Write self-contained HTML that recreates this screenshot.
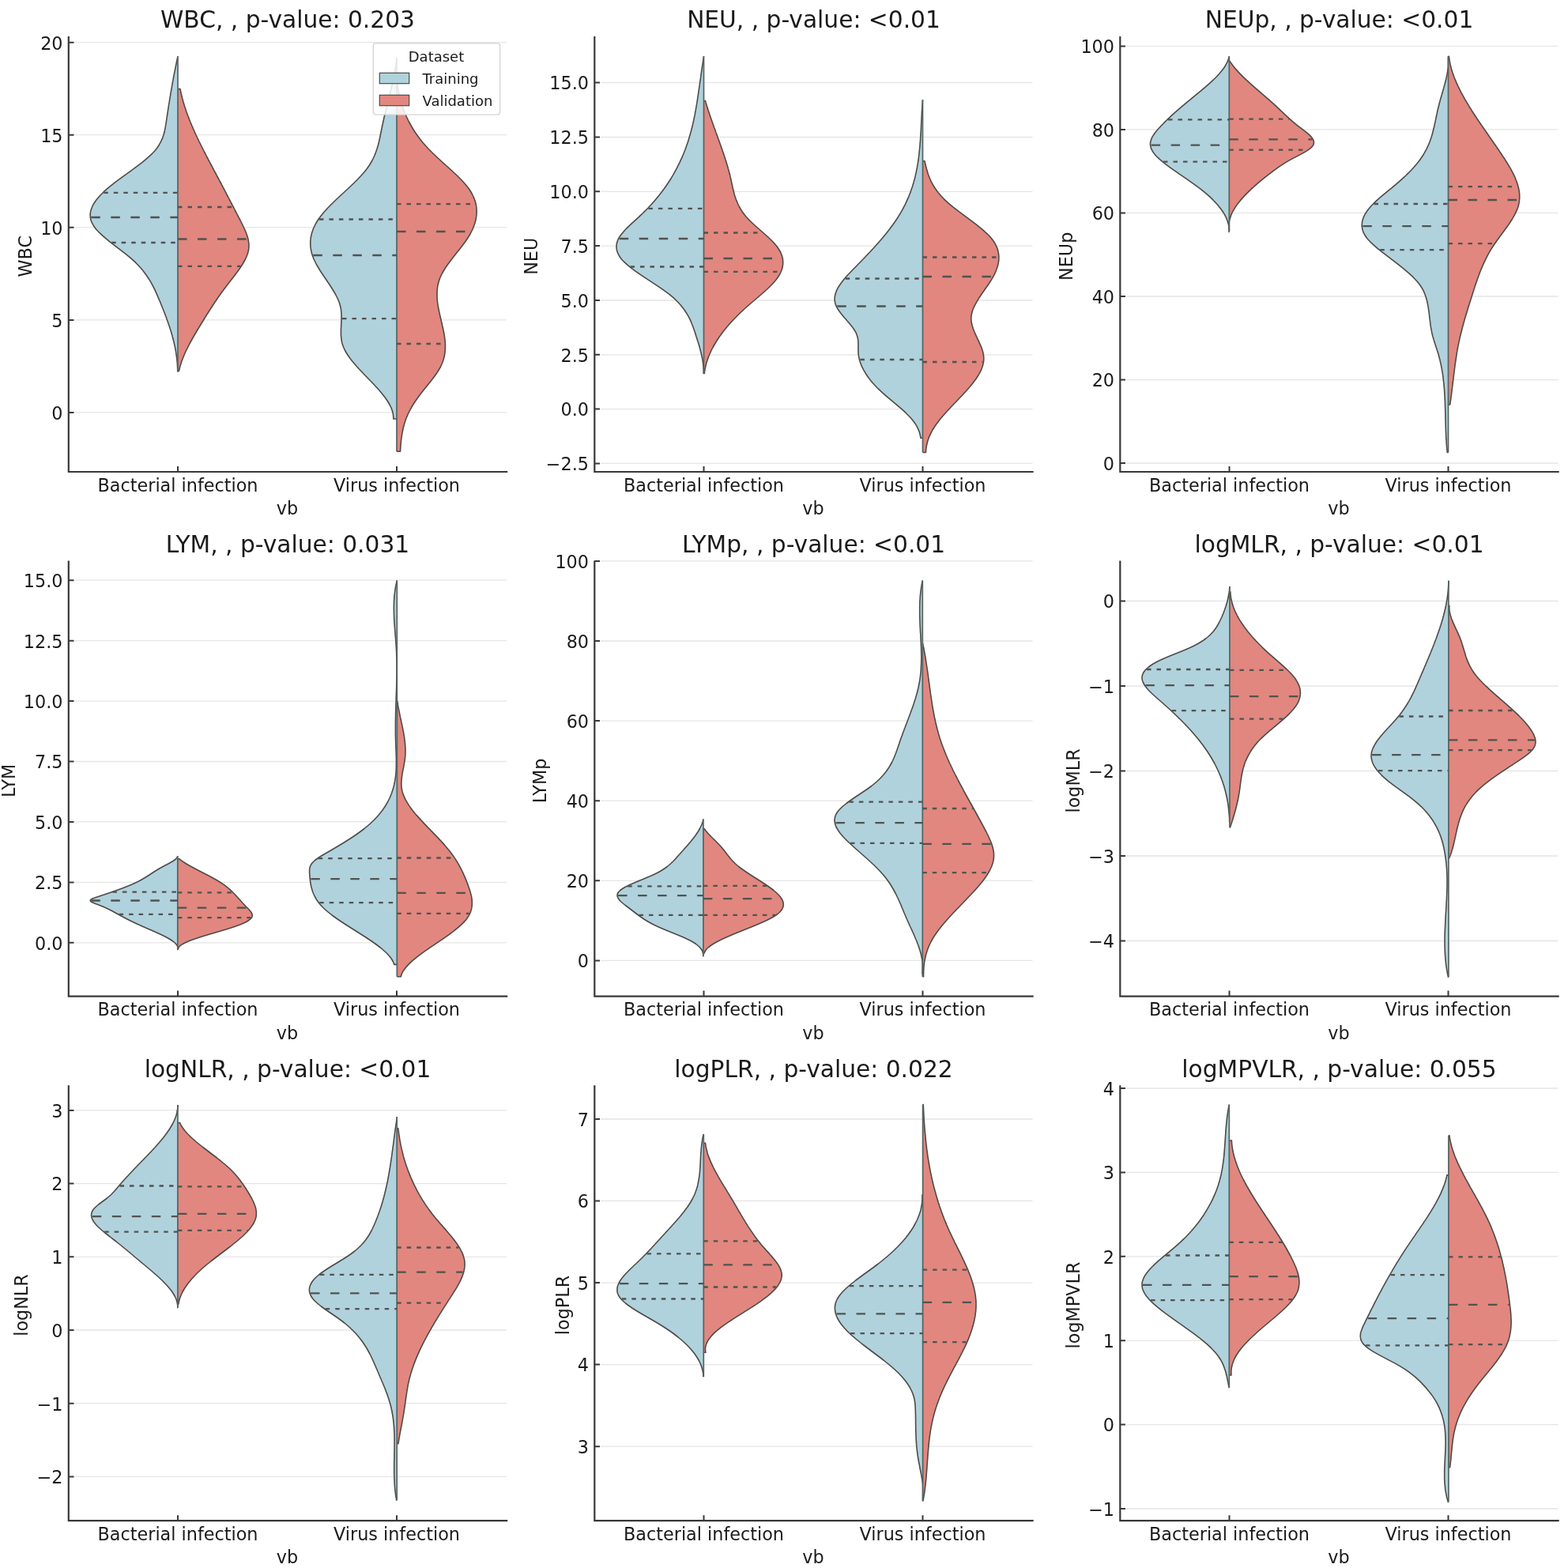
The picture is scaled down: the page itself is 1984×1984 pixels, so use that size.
<!DOCTYPE html>
<html><head><meta charset="utf-8"><title>Violin plots</title>
<style>
html,body{margin:0;padding:0;background:#fff;overflow:hidden;width:1984px;height:1984px;}
svg{display:block;}
text{font-family:"DejaVu Sans","Liberation Sans",sans-serif;fill:#1a1a1a;}
.tk{font-size:22.3px;}
.ti{font-size:29.7px;}
.lg{font-size:18px;}
</style></head><body>
<svg width="1984" height="1984" viewBox="0 0 1984 1984">
<rect width="1984" height="1984" fill="#ffffff"/>
<line x1="94.5" y1="521.9" x2="641.0" y2="521.9" stroke="#e5e5e5" stroke-width="1.3"/>
<line x1="94.5" y1="404.9" x2="641.0" y2="404.9" stroke="#e5e5e5" stroke-width="1.3"/>
<line x1="94.5" y1="287.8" x2="641.0" y2="287.8" stroke="#e5e5e5" stroke-width="1.3"/>
<line x1="94.5" y1="170.7" x2="641.0" y2="170.7" stroke="#e5e5e5" stroke-width="1.3"/>
<line x1="94.5" y1="53.7" x2="641.0" y2="53.7" stroke="#e5e5e5" stroke-width="1.3"/>
<path d="M225.0,71.2 L225.0,71.2 L224.6,73.2 224.1,75.2 223.7,77.2 223.3,79.2 222.9,81.2 222.5,83.2 222.1,85.2 221.7,87.2 221.3,89.2 220.9,91.2 220.5,93.2 220.1,95.2 219.7,97.2 219.3,99.2 219.0,101.2 218.6,103.2 218.2,105.2 217.9,107.2 217.5,109.2 217.2,111.2 216.8,113.2 216.5,115.2 216.1,117.2 215.8,119.2 215.5,121.2 215.1,123.2 214.8,125.2 214.5,127.2 214.2,129.2 213.8,131.2 213.5,133.2 213.2,135.2 212.9,137.2 212.6,139.2 212.3,141.2 212.0,143.2 211.7,145.2 211.4,147.2 211.1,149.2 210.8,151.2 210.5,153.2 210.2,155.2 209.9,157.2 209.5,159.2 209.2,161.2 208.8,163.2 208.4,165.2 207.9,167.2 207.4,169.2 206.8,171.2 206.1,173.2 205.4,175.2 204.5,177.2 203.6,179.2 202.5,181.2 201.4,183.2 200.1,185.2 198.7,187.2 197.2,189.2 195.5,191.2 193.6,193.2 191.7,195.2 189.6,197.2 187.4,199.2 185.1,201.2 182.7,203.2 180.3,205.2 177.7,207.2 175.1,209.2 172.4,211.2 169.7,213.2 167.0,215.2 164.3,217.2 161.5,219.2 158.7,221.2 155.9,223.2 153.2,225.2 150.5,227.2 147.8,229.2 145.1,231.2 142.6,233.2 140.0,235.2 137.6,237.2 135.2,239.2 133.0,241.2 130.8,243.2 128.8,245.2 126.8,247.2 125.0,249.2 123.3,251.2 121.7,253.2 120.3,255.2 119.0,257.2 117.8,259.2 116.8,261.2 116.0,263.2 115.3,265.2 114.8,267.2 114.4,269.2 114.2,271.2 114.2,273.2 114.4,275.2 114.7,277.2 115.3,279.2 116.0,281.2 117.0,283.2 118.2,285.2 119.5,287.2 121.0,289.2 122.7,291.2 124.6,293.2 126.6,295.2 128.7,297.2 130.9,299.2 133.2,301.2 135.6,303.2 138.0,305.2 140.5,307.2 143.1,309.2 145.7,311.2 148.3,313.2 150.9,315.2 153.5,317.2 156.1,319.2 158.7,321.2 161.2,323.2 163.6,325.2 166.0,327.2 168.3,329.2 170.4,331.2 172.5,333.2 174.5,335.2 176.4,337.2 178.2,339.2 179.9,341.2 181.5,343.2 183.0,345.2 184.5,347.2 185.9,349.2 187.2,351.2 188.5,353.2 189.7,355.2 190.9,357.2 192.0,359.2 193.1,361.2 194.1,363.2 195.1,365.2 196.1,367.2 197.0,369.2 197.9,371.2 198.8,373.2 199.7,375.2 200.5,377.2 201.4,379.2 202.2,381.2 203.1,383.2 203.9,385.2 204.7,387.2 205.5,389.2 206.3,391.2 207.1,393.2 207.9,395.2 208.7,397.2 209.4,399.2 210.2,401.2 210.9,403.2 211.6,405.2 212.3,407.2 213.0,409.2 213.7,411.2 214.4,413.2 215.0,415.2 215.7,417.2 216.3,419.2 216.9,421.2 217.5,423.2 218.0,425.2 218.6,427.2 219.1,429.2 219.6,431.2 220.1,433.2 220.5,435.2 221.0,437.2 221.4,439.2 221.8,441.2 222.2,443.2 222.5,445.2 222.8,447.2 223.1,449.2 223.4,451.2 223.7,453.2 223.9,455.2 224.1,457.2 224.3,459.2 224.4,461.2 224.5,463.2 224.6,465.2 224.7,467.2 224.7,469.2 224.7,470.0 L225.0,470.0 Z" fill="#b0d2dc"/>
<path d="M225.0,71.2 L225.0,71.2 L224.6,73.2 224.1,75.2 223.7,77.2 223.3,79.2 222.9,81.2 222.5,83.2 222.1,85.2 221.7,87.2 221.3,89.2 220.9,91.2 220.5,93.2 220.1,95.2 219.7,97.2 219.3,99.2 219.0,101.2 218.6,103.2 218.2,105.2 217.9,107.2 217.5,109.2 217.2,111.2 216.8,113.2 216.5,115.2 216.1,117.2 215.8,119.2 215.5,121.2 215.1,123.2 214.8,125.2 214.5,127.2 214.2,129.2 213.8,131.2 213.5,133.2 213.2,135.2 212.9,137.2 212.6,139.2 212.3,141.2 212.0,143.2 211.7,145.2 211.4,147.2 211.1,149.2 210.8,151.2 210.5,153.2 210.2,155.2 209.9,157.2 209.5,159.2 209.2,161.2 208.8,163.2 208.4,165.2 207.9,167.2 207.4,169.2 206.8,171.2 206.1,173.2 205.4,175.2 204.5,177.2 203.6,179.2 202.5,181.2 201.4,183.2 200.1,185.2 198.7,187.2 197.2,189.2 195.5,191.2 193.6,193.2 191.7,195.2 189.6,197.2 187.4,199.2 185.1,201.2 182.7,203.2 180.3,205.2 177.7,207.2 175.1,209.2 172.4,211.2 169.7,213.2 167.0,215.2 164.3,217.2 161.5,219.2 158.7,221.2 155.9,223.2 153.2,225.2 150.5,227.2 147.8,229.2 145.1,231.2 142.6,233.2 140.0,235.2 137.6,237.2 135.2,239.2 133.0,241.2 130.8,243.2 128.8,245.2 126.8,247.2 125.0,249.2 123.3,251.2 121.7,253.2 120.3,255.2 119.0,257.2 117.8,259.2 116.8,261.2 116.0,263.2 115.3,265.2 114.8,267.2 114.4,269.2 114.2,271.2 114.2,273.2 114.4,275.2 114.7,277.2 115.3,279.2 116.0,281.2 117.0,283.2 118.2,285.2 119.5,287.2 121.0,289.2 122.7,291.2 124.6,293.2 126.6,295.2 128.7,297.2 130.9,299.2 133.2,301.2 135.6,303.2 138.0,305.2 140.5,307.2 143.1,309.2 145.7,311.2 148.3,313.2 150.9,315.2 153.5,317.2 156.1,319.2 158.7,321.2 161.2,323.2 163.6,325.2 166.0,327.2 168.3,329.2 170.4,331.2 172.5,333.2 174.5,335.2 176.4,337.2 178.2,339.2 179.9,341.2 181.5,343.2 183.0,345.2 184.5,347.2 185.9,349.2 187.2,351.2 188.5,353.2 189.7,355.2 190.9,357.2 192.0,359.2 193.1,361.2 194.1,363.2 195.1,365.2 196.1,367.2 197.0,369.2 197.9,371.2 198.8,373.2 199.7,375.2 200.5,377.2 201.4,379.2 202.2,381.2 203.1,383.2 203.9,385.2 204.7,387.2 205.5,389.2 206.3,391.2 207.1,393.2 207.9,395.2 208.7,397.2 209.4,399.2 210.2,401.2 210.9,403.2 211.6,405.2 212.3,407.2 213.0,409.2 213.7,411.2 214.4,413.2 215.0,415.2 215.7,417.2 216.3,419.2 216.9,421.2 217.5,423.2 218.0,425.2 218.6,427.2 219.1,429.2 219.6,431.2 220.1,433.2 220.5,435.2 221.0,437.2 221.4,439.2 221.8,441.2 222.2,443.2 222.5,445.2 222.8,447.2 223.1,449.2 223.4,451.2 223.7,453.2 223.9,455.2 224.1,457.2 224.3,459.2 224.4,461.2 224.5,463.2 224.6,465.2 224.7,467.2 224.7,469.2 224.7,470.0 L225.0,470.0" fill="none" stroke="#4b4b48" stroke-width="1.6" stroke-linejoin="round"/>
<path d="M225.0,112.5 L228.0,112.5 L228.4,114.5 228.8,116.5 229.2,118.5 229.7,120.5 230.2,122.5 230.7,124.5 231.3,126.5 231.8,128.5 232.4,130.5 233.0,132.5 233.6,134.5 234.3,136.5 235.0,138.5 235.6,140.5 236.3,142.5 237.1,144.5 237.8,146.5 238.6,148.5 239.3,150.5 240.1,152.5 240.9,154.5 241.8,156.5 242.6,158.5 243.5,160.5 244.3,162.5 245.2,164.5 246.1,166.5 247.0,168.5 247.9,170.5 248.9,172.5 249.8,174.5 250.8,176.5 251.7,178.5 252.7,180.5 253.7,182.5 254.7,184.5 255.7,186.5 256.7,188.5 257.7,190.5 258.7,192.5 259.8,194.5 260.8,196.5 261.8,198.5 262.9,200.5 263.9,202.5 265.0,204.5 266.0,206.5 267.1,208.5 268.2,210.5 269.2,212.5 270.3,214.5 271.3,216.5 272.4,218.5 273.5,220.5 274.5,222.5 275.6,224.5 276.7,226.5 277.7,228.5 278.8,230.5 279.9,232.5 280.9,234.5 282.0,236.5 283.0,238.5 284.1,240.5 285.1,242.5 286.2,244.5 287.2,246.5 288.3,248.5 289.3,250.5 290.3,252.5 291.4,254.5 292.4,256.5 293.5,258.5 294.5,260.5 295.6,262.5 296.6,264.5 297.6,266.5 298.7,268.5 299.7,270.5 300.7,272.5 301.8,274.5 302.8,276.5 303.9,278.5 304.9,280.5 305.9,282.5 306.9,284.5 307.9,286.5 308.8,288.5 309.7,290.5 310.6,292.5 311.4,294.5 312.1,296.5 312.8,298.5 313.4,300.5 313.9,302.5 314.3,304.5 314.6,306.5 314.9,308.5 314.9,310.5 314.9,312.5 314.8,314.5 314.5,316.5 314.0,318.5 313.5,320.5 312.8,322.5 312.0,324.5 311.1,326.5 310.2,328.5 309.1,330.5 308.0,332.5 306.8,334.5 305.5,336.5 304.2,338.5 302.8,340.5 301.4,342.5 299.9,344.5 298.4,346.5 296.9,348.5 295.4,350.5 293.8,352.5 292.3,354.5 290.7,356.5 289.2,358.5 287.6,360.5 286.1,362.5 284.6,364.5 283.1,366.5 281.6,368.5 280.1,370.5 278.7,372.5 277.3,374.5 275.9,376.5 274.5,378.5 273.2,380.5 271.8,382.5 270.5,384.5 269.2,386.5 267.9,388.5 266.6,390.5 265.3,392.5 264.0,394.5 262.8,396.5 261.5,398.5 260.3,400.5 259.0,402.5 257.8,404.5 256.6,406.5 255.3,408.5 254.1,410.5 252.9,412.5 251.7,414.5 250.4,416.5 249.2,418.5 248.1,420.5 246.9,422.5 245.7,424.5 244.6,426.5 243.4,428.5 242.3,430.5 241.2,432.5 240.1,434.5 239.1,436.5 238.1,438.5 237.1,440.5 236.1,442.5 235.1,444.5 234.2,446.5 233.3,448.5 232.5,450.5 231.7,452.5 230.9,454.5 230.1,456.5 229.4,458.5 228.8,460.5 228.2,462.5 227.6,464.5 227.1,466.5 226.6,468.5 226.3,469.6 L225.0,469.6 Z" fill="#e1877f"/>
<path d="M225.0,112.5 L228.0,112.5 L228.4,114.5 228.8,116.5 229.2,118.5 229.7,120.5 230.2,122.5 230.7,124.5 231.3,126.5 231.8,128.5 232.4,130.5 233.0,132.5 233.6,134.5 234.3,136.5 235.0,138.5 235.6,140.5 236.3,142.5 237.1,144.5 237.8,146.5 238.6,148.5 239.3,150.5 240.1,152.5 240.9,154.5 241.8,156.5 242.6,158.5 243.5,160.5 244.3,162.5 245.2,164.5 246.1,166.5 247.0,168.5 247.9,170.5 248.9,172.5 249.8,174.5 250.8,176.5 251.7,178.5 252.7,180.5 253.7,182.5 254.7,184.5 255.7,186.5 256.7,188.5 257.7,190.5 258.7,192.5 259.8,194.5 260.8,196.5 261.8,198.5 262.9,200.5 263.9,202.5 265.0,204.5 266.0,206.5 267.1,208.5 268.2,210.5 269.2,212.5 270.3,214.5 271.3,216.5 272.4,218.5 273.5,220.5 274.5,222.5 275.6,224.5 276.7,226.5 277.7,228.5 278.8,230.5 279.9,232.5 280.9,234.5 282.0,236.5 283.0,238.5 284.1,240.5 285.1,242.5 286.2,244.5 287.2,246.5 288.3,248.5 289.3,250.5 290.3,252.5 291.4,254.5 292.4,256.5 293.5,258.5 294.5,260.5 295.6,262.5 296.6,264.5 297.6,266.5 298.7,268.5 299.7,270.5 300.7,272.5 301.8,274.5 302.8,276.5 303.9,278.5 304.9,280.5 305.9,282.5 306.9,284.5 307.9,286.5 308.8,288.5 309.7,290.5 310.6,292.5 311.4,294.5 312.1,296.5 312.8,298.5 313.4,300.5 313.9,302.5 314.3,304.5 314.6,306.5 314.9,308.5 314.9,310.5 314.9,312.5 314.8,314.5 314.5,316.5 314.0,318.5 313.5,320.5 312.8,322.5 312.0,324.5 311.1,326.5 310.2,328.5 309.1,330.5 308.0,332.5 306.8,334.5 305.5,336.5 304.2,338.5 302.8,340.5 301.4,342.5 299.9,344.5 298.4,346.5 296.9,348.5 295.4,350.5 293.8,352.5 292.3,354.5 290.7,356.5 289.2,358.5 287.6,360.5 286.1,362.5 284.6,364.5 283.1,366.5 281.6,368.5 280.1,370.5 278.7,372.5 277.3,374.5 275.9,376.5 274.5,378.5 273.2,380.5 271.8,382.5 270.5,384.5 269.2,386.5 267.9,388.5 266.6,390.5 265.3,392.5 264.0,394.5 262.8,396.5 261.5,398.5 260.3,400.5 259.0,402.5 257.8,404.5 256.6,406.5 255.3,408.5 254.1,410.5 252.9,412.5 251.7,414.5 250.4,416.5 249.2,418.5 248.1,420.5 246.9,422.5 245.7,424.5 244.6,426.5 243.4,428.5 242.3,430.5 241.2,432.5 240.1,434.5 239.1,436.5 238.1,438.5 237.1,440.5 236.1,442.5 235.1,444.5 234.2,446.5 233.3,448.5 232.5,450.5 231.7,452.5 230.9,454.5 230.1,456.5 229.4,458.5 228.8,460.5 228.2,462.5 227.6,464.5 227.1,466.5 226.6,468.5 226.3,469.6 L225.0,469.6" fill="none" stroke="#4b4b48" stroke-width="1.6" stroke-linejoin="round"/>
<line x1="225.0" y1="71.2" x2="225.0" y2="470.0" stroke="#56625f" stroke-width="1.7"/>
<g stroke="#525250" stroke-width="2.3"><line x1="131.3" y1="243.8" x2="225.0" y2="243.8" stroke-dasharray="5.5 7"/><line x1="115.3" y1="275.0" x2="225.0" y2="275.0" stroke-dasharray="11.5 13.5"/><line x1="141.2" y1="307.0" x2="225.0" y2="307.0" stroke-dasharray="5.5 7"/><line x1="225.0" y1="262.0" x2="294.3" y2="262.0" stroke-dasharray="5.5 7"/><line x1="225.0" y1="302.5" x2="312.9" y2="302.5" stroke-dasharray="11.5 13.5"/><line x1="225.0" y1="336.8" x2="304.3" y2="336.8" stroke-dasharray="5.5 7"/></g>
<path d="M502.0,73.0 L502.0,73.0 L501.8,75.0 501.6,77.0 501.3,79.0 501.1,81.0 500.8,83.0 500.5,85.0 500.2,87.0 499.8,89.0 499.5,91.0 499.1,93.0 498.7,95.0 498.3,97.0 497.9,99.0 497.5,101.0 497.1,103.0 496.6,105.0 496.2,107.0 495.7,109.0 495.2,111.0 494.8,113.0 494.3,115.0 493.8,117.0 493.3,119.0 492.8,121.0 492.3,123.0 491.8,125.0 491.3,127.0 490.8,129.0 490.3,131.0 489.8,133.0 489.3,135.0 488.8,137.0 488.3,139.0 487.8,141.0 487.4,143.0 486.9,145.0 486.4,147.0 485.9,149.0 485.5,151.0 485.0,153.0 484.6,155.0 484.2,157.0 483.7,159.0 483.3,161.0 482.9,163.0 482.5,165.0 482.1,167.0 481.7,169.0 481.3,171.0 480.9,173.0 480.5,175.0 480.0,177.0 479.6,179.0 479.1,181.0 478.6,183.0 478.0,185.0 477.4,187.0 476.8,189.0 476.1,191.0 475.4,193.0 474.6,195.0 473.8,197.0 472.9,199.0 471.9,201.0 470.9,203.0 469.8,205.0 468.6,207.0 467.4,209.0 466.0,211.0 464.6,213.0 463.1,215.0 461.5,217.0 459.8,219.0 458.0,221.0 456.2,223.0 454.3,225.0 452.4,227.0 450.4,229.0 448.4,231.0 446.3,233.0 444.2,235.0 442.1,237.0 440.0,239.0 437.8,241.0 435.7,243.0 433.5,245.0 431.3,247.0 429.2,249.0 427.0,251.0 424.9,253.0 422.8,255.0 420.8,257.0 418.7,259.0 416.8,261.0 414.8,263.0 413.0,265.0 411.2,267.0 409.4,269.0 407.8,271.0 406.2,273.0 404.7,275.0 403.2,277.0 401.9,279.0 400.7,281.0 399.5,283.0 398.5,285.0 397.5,287.0 396.6,289.0 395.9,291.0 395.2,293.0 394.5,295.0 394.0,297.0 393.6,299.0 393.2,301.0 393.0,303.0 392.8,305.0 392.7,307.0 392.8,309.0 392.8,311.0 393.0,313.0 393.3,315.0 393.7,317.0 394.1,319.0 394.6,321.0 395.3,323.0 396.0,325.0 396.7,327.0 397.6,329.0 398.6,331.0 399.6,333.0 400.6,335.0 401.8,337.0 403.0,339.0 404.2,341.0 405.4,343.0 406.7,345.0 408.1,347.0 409.4,349.0 410.8,351.0 412.1,353.0 413.5,355.0 414.8,357.0 416.2,359.0 417.5,361.0 418.8,363.0 420.1,365.0 421.3,367.0 422.5,369.0 423.7,371.0 424.8,373.0 425.8,375.0 426.8,377.0 427.7,379.0 428.6,381.0 429.3,383.0 430.0,385.0 430.5,387.0 431.0,389.0 431.4,391.0 431.6,393.0 431.8,395.0 432.0,397.0 432.0,399.0 432.0,401.0 432.0,403.0 432.0,405.0 431.9,407.0 431.8,409.0 431.7,411.0 431.6,413.0 431.5,415.0 431.4,417.0 431.4,419.0 431.4,421.0 431.4,423.0 431.5,425.0 431.7,427.0 431.9,429.0 432.2,431.0 432.6,433.0 433.1,435.0 433.8,437.0 434.5,439.0 435.4,441.0 436.3,443.0 437.4,445.0 438.6,447.0 439.9,449.0 441.2,451.0 442.6,453.0 444.1,455.0 445.7,457.0 447.4,459.0 449.1,461.0 450.8,463.0 452.6,465.0 454.4,467.0 456.3,469.0 458.2,471.0 460.1,473.0 462.0,475.0 464.0,477.0 465.9,479.0 467.8,481.0 469.8,483.0 471.7,485.0 473.6,487.0 475.4,489.0 477.3,491.0 479.1,493.0 480.8,495.0 482.5,497.0 484.1,499.0 485.7,501.0 487.2,503.0 488.6,505.0 490.0,507.0 491.3,509.0 492.4,511.0 493.5,513.0 494.5,515.0 495.3,517.0 496.1,519.0 496.7,521.0 497.2,523.0 497.5,525.0 497.7,527.0 497.8,529.0 497.8,530.0 L502.0,530.0 Z" fill="#b0d2dc"/>
<path d="M502.0,73.0 L502.0,73.0 L501.8,75.0 501.6,77.0 501.3,79.0 501.1,81.0 500.8,83.0 500.5,85.0 500.2,87.0 499.8,89.0 499.5,91.0 499.1,93.0 498.7,95.0 498.3,97.0 497.9,99.0 497.5,101.0 497.1,103.0 496.6,105.0 496.2,107.0 495.7,109.0 495.2,111.0 494.8,113.0 494.3,115.0 493.8,117.0 493.3,119.0 492.8,121.0 492.3,123.0 491.8,125.0 491.3,127.0 490.8,129.0 490.3,131.0 489.8,133.0 489.3,135.0 488.8,137.0 488.3,139.0 487.8,141.0 487.4,143.0 486.9,145.0 486.4,147.0 485.9,149.0 485.5,151.0 485.0,153.0 484.6,155.0 484.2,157.0 483.7,159.0 483.3,161.0 482.9,163.0 482.5,165.0 482.1,167.0 481.7,169.0 481.3,171.0 480.9,173.0 480.5,175.0 480.0,177.0 479.6,179.0 479.1,181.0 478.6,183.0 478.0,185.0 477.4,187.0 476.8,189.0 476.1,191.0 475.4,193.0 474.6,195.0 473.8,197.0 472.9,199.0 471.9,201.0 470.9,203.0 469.8,205.0 468.6,207.0 467.4,209.0 466.0,211.0 464.6,213.0 463.1,215.0 461.5,217.0 459.8,219.0 458.0,221.0 456.2,223.0 454.3,225.0 452.4,227.0 450.4,229.0 448.4,231.0 446.3,233.0 444.2,235.0 442.1,237.0 440.0,239.0 437.8,241.0 435.7,243.0 433.5,245.0 431.3,247.0 429.2,249.0 427.0,251.0 424.9,253.0 422.8,255.0 420.8,257.0 418.7,259.0 416.8,261.0 414.8,263.0 413.0,265.0 411.2,267.0 409.4,269.0 407.8,271.0 406.2,273.0 404.7,275.0 403.2,277.0 401.9,279.0 400.7,281.0 399.5,283.0 398.5,285.0 397.5,287.0 396.6,289.0 395.9,291.0 395.2,293.0 394.5,295.0 394.0,297.0 393.6,299.0 393.2,301.0 393.0,303.0 392.8,305.0 392.7,307.0 392.8,309.0 392.8,311.0 393.0,313.0 393.3,315.0 393.7,317.0 394.1,319.0 394.6,321.0 395.3,323.0 396.0,325.0 396.7,327.0 397.6,329.0 398.6,331.0 399.6,333.0 400.6,335.0 401.8,337.0 403.0,339.0 404.2,341.0 405.4,343.0 406.7,345.0 408.1,347.0 409.4,349.0 410.8,351.0 412.1,353.0 413.5,355.0 414.8,357.0 416.2,359.0 417.5,361.0 418.8,363.0 420.1,365.0 421.3,367.0 422.5,369.0 423.7,371.0 424.8,373.0 425.8,375.0 426.8,377.0 427.7,379.0 428.6,381.0 429.3,383.0 430.0,385.0 430.5,387.0 431.0,389.0 431.4,391.0 431.6,393.0 431.8,395.0 432.0,397.0 432.0,399.0 432.0,401.0 432.0,403.0 432.0,405.0 431.9,407.0 431.8,409.0 431.7,411.0 431.6,413.0 431.5,415.0 431.4,417.0 431.4,419.0 431.4,421.0 431.4,423.0 431.5,425.0 431.7,427.0 431.9,429.0 432.2,431.0 432.6,433.0 433.1,435.0 433.8,437.0 434.5,439.0 435.4,441.0 436.3,443.0 437.4,445.0 438.6,447.0 439.9,449.0 441.2,451.0 442.6,453.0 444.1,455.0 445.7,457.0 447.4,459.0 449.1,461.0 450.8,463.0 452.6,465.0 454.4,467.0 456.3,469.0 458.2,471.0 460.1,473.0 462.0,475.0 464.0,477.0 465.9,479.0 467.8,481.0 469.8,483.0 471.7,485.0 473.6,487.0 475.4,489.0 477.3,491.0 479.1,493.0 480.8,495.0 482.5,497.0 484.1,499.0 485.7,501.0 487.2,503.0 488.6,505.0 490.0,507.0 491.3,509.0 492.4,511.0 493.5,513.0 494.5,515.0 495.3,517.0 496.1,519.0 496.7,521.0 497.2,523.0 497.5,525.0 497.7,527.0 497.8,529.0 497.8,530.0 L502.0,530.0" fill="none" stroke="#4b4b48" stroke-width="1.6" stroke-linejoin="round"/>
<path d="M502.0,106.0 L502.5,106.0 L502.9,108.0 503.2,110.0 503.6,112.0 504.0,114.0 504.4,116.0 504.8,118.0 505.2,120.0 505.7,122.0 506.2,124.0 506.7,126.0 507.3,128.0 507.9,130.0 508.5,132.0 509.1,134.0 509.8,136.0 510.5,138.0 511.2,140.0 512.0,142.0 512.8,144.0 513.7,146.0 514.5,148.0 515.5,150.0 516.4,152.0 517.4,154.0 518.5,156.0 519.6,158.0 520.7,160.0 521.9,162.0 523.1,164.0 524.4,166.0 525.7,168.0 527.1,170.0 528.5,172.0 530.0,174.0 531.5,176.0 533.1,178.0 534.7,180.0 536.4,182.0 538.2,184.0 540.0,186.0 541.8,188.0 543.8,190.0 545.8,192.0 547.8,194.0 549.9,196.0 552.0,198.0 554.1,200.0 556.3,202.0 558.5,204.0 560.7,206.0 562.9,208.0 565.1,210.0 567.4,212.0 569.6,214.0 571.8,216.0 573.9,218.0 576.1,220.0 578.2,222.0 580.2,224.0 582.2,226.0 584.2,228.0 586.0,230.0 587.8,232.0 589.5,234.0 591.1,236.0 592.7,238.0 594.1,240.0 595.4,242.0 596.5,244.0 597.6,246.0 598.6,248.0 599.5,250.0 600.3,252.0 601.0,254.0 601.6,256.0 602.1,258.0 602.5,260.0 602.8,262.0 603.0,264.0 603.1,266.0 603.1,268.0 603.1,270.0 602.9,272.0 602.7,274.0 602.4,276.0 602.0,278.0 601.5,280.0 601.0,282.0 600.3,284.0 599.6,286.0 598.8,288.0 598.0,290.0 597.0,292.0 596.0,294.0 595.0,296.0 593.8,298.0 592.6,300.0 591.3,302.0 590.0,304.0 588.6,306.0 587.1,308.0 585.6,310.0 584.1,312.0 582.6,314.0 581.0,316.0 579.4,318.0 577.8,320.0 576.2,322.0 574.6,324.0 573.1,326.0 571.5,328.0 570.0,330.0 568.5,332.0 567.0,334.0 565.6,336.0 564.2,338.0 562.9,340.0 561.7,342.0 560.5,344.0 559.4,346.0 558.4,348.0 557.5,350.0 556.6,352.0 555.9,354.0 555.3,356.0 554.7,358.0 554.2,360.0 553.8,362.0 553.5,364.0 553.3,366.0 553.1,368.0 553.0,370.0 553.0,372.0 553.0,374.0 553.0,376.0 553.2,378.0 553.3,380.0 553.5,382.0 553.8,384.0 554.1,386.0 554.4,388.0 554.8,390.0 555.2,392.0 555.6,394.0 556.0,396.0 556.5,398.0 556.9,400.0 557.4,402.0 557.9,404.0 558.3,406.0 558.8,408.0 559.3,410.0 559.7,412.0 560.2,414.0 560.6,416.0 561.0,418.0 561.4,420.0 561.8,422.0 562.2,424.0 562.5,426.0 562.7,428.0 563.0,430.0 563.2,432.0 563.3,434.0 563.4,436.0 563.4,438.0 563.4,440.0 563.3,442.0 563.2,444.0 563.0,446.0 562.7,448.0 562.4,450.0 561.9,452.0 561.4,454.0 560.8,456.0 560.1,458.0 559.3,460.0 558.4,462.0 557.5,464.0 556.4,466.0 555.2,468.0 554.0,470.0 552.7,472.0 551.3,474.0 549.9,476.0 548.4,478.0 546.9,480.0 545.3,482.0 543.7,484.0 542.1,486.0 540.5,488.0 538.9,490.0 537.3,492.0 535.7,494.0 534.1,496.0 532.5,498.0 531.0,500.0 529.5,502.0 528.1,504.0 526.7,506.0 525.3,508.0 524.0,510.0 522.7,512.0 521.5,514.0 520.4,516.0 519.2,518.0 518.2,520.0 517.2,522.0 516.2,524.0 515.4,526.0 514.5,528.0 513.7,530.0 513.0,532.0 512.4,534.0 511.7,536.0 511.2,538.0 510.6,540.0 510.1,542.0 509.7,544.0 509.3,546.0 508.9,548.0 508.6,550.0 508.3,552.0 508.0,554.0 507.7,556.0 507.5,558.0 507.3,560.0 507.1,562.0 507.0,564.0 506.8,566.0 506.7,568.0 506.6,570.0 506.5,571.2 L502.0,571.2 Z" fill="#e1877f"/>
<path d="M502.0,106.0 L502.5,106.0 L502.9,108.0 503.2,110.0 503.6,112.0 504.0,114.0 504.4,116.0 504.8,118.0 505.2,120.0 505.7,122.0 506.2,124.0 506.7,126.0 507.3,128.0 507.9,130.0 508.5,132.0 509.1,134.0 509.8,136.0 510.5,138.0 511.2,140.0 512.0,142.0 512.8,144.0 513.7,146.0 514.5,148.0 515.5,150.0 516.4,152.0 517.4,154.0 518.5,156.0 519.6,158.0 520.7,160.0 521.9,162.0 523.1,164.0 524.4,166.0 525.7,168.0 527.1,170.0 528.5,172.0 530.0,174.0 531.5,176.0 533.1,178.0 534.7,180.0 536.4,182.0 538.2,184.0 540.0,186.0 541.8,188.0 543.8,190.0 545.8,192.0 547.8,194.0 549.9,196.0 552.0,198.0 554.1,200.0 556.3,202.0 558.5,204.0 560.7,206.0 562.9,208.0 565.1,210.0 567.4,212.0 569.6,214.0 571.8,216.0 573.9,218.0 576.1,220.0 578.2,222.0 580.2,224.0 582.2,226.0 584.2,228.0 586.0,230.0 587.8,232.0 589.5,234.0 591.1,236.0 592.7,238.0 594.1,240.0 595.4,242.0 596.5,244.0 597.6,246.0 598.6,248.0 599.5,250.0 600.3,252.0 601.0,254.0 601.6,256.0 602.1,258.0 602.5,260.0 602.8,262.0 603.0,264.0 603.1,266.0 603.1,268.0 603.1,270.0 602.9,272.0 602.7,274.0 602.4,276.0 602.0,278.0 601.5,280.0 601.0,282.0 600.3,284.0 599.6,286.0 598.8,288.0 598.0,290.0 597.0,292.0 596.0,294.0 595.0,296.0 593.8,298.0 592.6,300.0 591.3,302.0 590.0,304.0 588.6,306.0 587.1,308.0 585.6,310.0 584.1,312.0 582.6,314.0 581.0,316.0 579.4,318.0 577.8,320.0 576.2,322.0 574.6,324.0 573.1,326.0 571.5,328.0 570.0,330.0 568.5,332.0 567.0,334.0 565.6,336.0 564.2,338.0 562.9,340.0 561.7,342.0 560.5,344.0 559.4,346.0 558.4,348.0 557.5,350.0 556.6,352.0 555.9,354.0 555.3,356.0 554.7,358.0 554.2,360.0 553.8,362.0 553.5,364.0 553.3,366.0 553.1,368.0 553.0,370.0 553.0,372.0 553.0,374.0 553.0,376.0 553.2,378.0 553.3,380.0 553.5,382.0 553.8,384.0 554.1,386.0 554.4,388.0 554.8,390.0 555.2,392.0 555.6,394.0 556.0,396.0 556.5,398.0 556.9,400.0 557.4,402.0 557.9,404.0 558.3,406.0 558.8,408.0 559.3,410.0 559.7,412.0 560.2,414.0 560.6,416.0 561.0,418.0 561.4,420.0 561.8,422.0 562.2,424.0 562.5,426.0 562.7,428.0 563.0,430.0 563.2,432.0 563.3,434.0 563.4,436.0 563.4,438.0 563.4,440.0 563.3,442.0 563.2,444.0 563.0,446.0 562.7,448.0 562.4,450.0 561.9,452.0 561.4,454.0 560.8,456.0 560.1,458.0 559.3,460.0 558.4,462.0 557.5,464.0 556.4,466.0 555.2,468.0 554.0,470.0 552.7,472.0 551.3,474.0 549.9,476.0 548.4,478.0 546.9,480.0 545.3,482.0 543.7,484.0 542.1,486.0 540.5,488.0 538.9,490.0 537.3,492.0 535.7,494.0 534.1,496.0 532.5,498.0 531.0,500.0 529.5,502.0 528.1,504.0 526.7,506.0 525.3,508.0 524.0,510.0 522.7,512.0 521.5,514.0 520.4,516.0 519.2,518.0 518.2,520.0 517.2,522.0 516.2,524.0 515.4,526.0 514.5,528.0 513.7,530.0 513.0,532.0 512.4,534.0 511.7,536.0 511.2,538.0 510.6,540.0 510.1,542.0 509.7,544.0 509.3,546.0 508.9,548.0 508.6,550.0 508.3,552.0 508.0,554.0 507.7,556.0 507.5,558.0 507.3,560.0 507.1,562.0 507.0,564.0 506.8,566.0 506.7,568.0 506.6,570.0 506.5,571.2 L502.0,571.2" fill="none" stroke="#4b4b48" stroke-width="1.6" stroke-linejoin="round"/>
<line x1="502.0" y1="73.0" x2="502.0" y2="571.2" stroke="#56625f" stroke-width="1.7"/>
<g stroke="#525250" stroke-width="2.3"><line x1="403.9" y1="277.5" x2="502.0" y2="277.5" stroke-dasharray="5.5 7"/><line x1="396.3" y1="323.0" x2="502.0" y2="323.0" stroke-dasharray="11.5 13.5"/><line x1="433.0" y1="403.2" x2="502.0" y2="403.2" stroke-dasharray="5.5 7"/><line x1="502.0" y1="258.2" x2="601.1" y2="258.2" stroke-dasharray="5.5 7"/><line x1="502.0" y1="293.0" x2="595.5" y2="293.0" stroke-dasharray="11.5 13.5"/><line x1="502.0" y1="435.0" x2="562.3" y2="435.0" stroke-dasharray="5.5 7"/></g>
<path d="M86.8,46.0 L86.8,597.0 L642.2,597.0" fill="none" stroke="#383838" stroke-width="2.2"/>
<path d="M86.8,521.9 h6.7 M86.8,404.9 h6.7 M86.8,287.8 h6.7 M86.8,170.7 h6.7 M86.8,53.7 h6.7 M225.0,597.0 v-7 M502.0,597.0 v-7" stroke="#383838" stroke-width="2" fill="none"/>
<text x="79.5" y="530.7" text-anchor="end" class="tk">0</text>
<text x="79.5" y="413.7" text-anchor="end" class="tk">5</text>
<text x="79.5" y="296.6" text-anchor="end" class="tk">10</text>
<text x="79.5" y="179.5" text-anchor="end" class="tk">15</text>
<text x="79.5" y="62.5" text-anchor="end" class="tk">20</text>
<text x="225.0" y="621.5" text-anchor="middle" class="tk">Bacterial infection</text>
<text x="502.0" y="621.5" text-anchor="middle" class="tk">Virus infection</text>
<text x="363.5" y="651.0" text-anchor="middle" class="tk">vb</text>
<text transform="translate(39.6,324.3) rotate(-90)" text-anchor="middle" class="tk">WBC</text>
<text x="364.0" y="35.4" text-anchor="middle" class="ti">WBC, , p-value: 0.203</text>
<line x1="760.0" y1="586.4" x2="1306.5" y2="586.4" stroke="#e5e5e5" stroke-width="1.3"/>
<line x1="760.0" y1="517.6" x2="1306.5" y2="517.6" stroke="#e5e5e5" stroke-width="1.3"/>
<line x1="760.0" y1="448.8" x2="1306.5" y2="448.8" stroke="#e5e5e5" stroke-width="1.3"/>
<line x1="760.0" y1="380.0" x2="1306.5" y2="380.0" stroke="#e5e5e5" stroke-width="1.3"/>
<line x1="760.0" y1="311.1" x2="1306.5" y2="311.1" stroke="#e5e5e5" stroke-width="1.3"/>
<line x1="760.0" y1="242.3" x2="1306.5" y2="242.3" stroke="#e5e5e5" stroke-width="1.3"/>
<line x1="760.0" y1="173.5" x2="1306.5" y2="173.5" stroke="#e5e5e5" stroke-width="1.3"/>
<line x1="760.0" y1="104.6" x2="1306.5" y2="104.6" stroke="#e5e5e5" stroke-width="1.3"/>
<path d="M890.5,71.2 L890.5,71.2 L890.2,73.2 889.9,75.2 889.6,77.2 889.3,79.2 889.0,81.2 888.7,83.2 888.4,85.2 888.1,87.2 887.8,89.2 887.5,91.2 887.2,93.2 886.9,95.2 886.7,97.2 886.4,99.2 886.1,101.2 885.8,103.2 885.5,105.2 885.3,107.2 885.0,109.2 884.7,111.2 884.4,113.2 884.1,115.2 883.8,117.2 883.5,119.2 883.2,121.2 882.9,123.2 882.6,125.2 882.3,127.2 882.0,129.2 881.7,131.2 881.3,133.2 881.0,135.2 880.6,137.2 880.3,139.2 879.9,141.2 879.5,143.2 879.2,145.2 878.8,147.2 878.3,149.2 877.9,151.2 877.5,153.2 877.0,155.2 876.6,157.2 876.1,159.2 875.6,161.2 875.1,163.2 874.6,165.2 874.0,167.2 873.5,169.2 872.9,171.2 872.3,173.2 871.7,175.2 871.1,177.2 870.5,179.2 869.8,181.2 869.1,183.2 868.4,185.2 867.7,187.2 867.0,189.2 866.2,191.2 865.4,193.2 864.6,195.2 863.8,197.2 862.9,199.2 862.0,201.2 861.1,203.2 860.2,205.2 859.2,207.2 858.2,209.2 857.2,211.2 856.2,213.2 855.1,215.2 854.0,217.2 852.9,219.2 851.8,221.2 850.6,223.2 849.4,225.2 848.1,227.2 846.8,229.2 845.5,231.2 844.2,233.2 842.8,235.2 841.4,237.2 840.0,239.2 838.5,241.2 837.0,243.2 835.4,245.2 833.9,247.2 832.2,249.2 830.6,251.2 828.9,253.2 827.2,255.2 825.4,257.2 823.6,259.2 821.7,261.2 819.9,263.2 817.9,265.2 816.0,267.2 813.9,269.2 811.9,271.2 809.8,273.2 807.7,275.2 805.5,277.2 803.3,279.2 801.1,281.2 798.9,283.2 796.8,285.2 794.7,287.2 792.6,289.2 790.7,291.2 788.9,293.2 787.2,295.2 785.6,297.2 784.2,299.2 783.0,301.2 782.0,303.2 781.2,305.2 780.6,307.2 780.2,309.2 780.0,311.2 780.0,313.2 780.2,315.2 780.6,317.2 781.3,319.2 782.1,321.2 783.2,323.2 784.5,325.2 785.9,327.2 787.6,329.2 789.5,331.2 791.6,333.2 793.8,335.2 796.2,337.2 798.7,339.2 801.3,341.2 804.1,343.2 806.9,345.2 809.8,347.2 812.7,349.2 815.7,351.2 818.8,353.2 821.8,355.2 824.9,357.2 827.9,359.2 831.0,361.2 833.9,363.2 836.9,365.2 839.7,367.2 842.5,369.2 845.2,371.2 847.8,373.2 850.2,375.2 852.5,377.2 854.7,379.2 856.7,381.2 858.7,383.2 860.5,385.2 862.2,387.2 863.8,389.2 865.3,391.2 866.7,393.2 868.0,395.2 869.2,397.2 870.4,399.2 871.5,401.2 872.5,403.2 873.5,405.2 874.4,407.2 875.2,409.2 876.0,411.2 876.8,413.2 877.5,415.2 878.2,417.2 878.9,419.2 879.6,421.2 880.2,423.2 880.8,425.2 881.5,427.2 882.1,429.2 882.7,431.2 883.4,433.2 884.0,435.2 884.6,437.2 885.1,439.2 885.7,441.2 886.2,443.2 886.7,445.2 887.2,447.2 887.7,449.2 888.1,451.2 888.5,453.2 888.9,455.2 889.2,457.2 889.5,459.2 889.7,461.2 889.9,463.2 890.1,465.2 890.2,467.2 890.3,469.2 890.3,471.2 890.2,472.5 L890.5,472.5 Z" fill="#b0d2dc"/>
<path d="M890.5,71.2 L890.5,71.2 L890.2,73.2 889.9,75.2 889.6,77.2 889.3,79.2 889.0,81.2 888.7,83.2 888.4,85.2 888.1,87.2 887.8,89.2 887.5,91.2 887.2,93.2 886.9,95.2 886.7,97.2 886.4,99.2 886.1,101.2 885.8,103.2 885.5,105.2 885.3,107.2 885.0,109.2 884.7,111.2 884.4,113.2 884.1,115.2 883.8,117.2 883.5,119.2 883.2,121.2 882.9,123.2 882.6,125.2 882.3,127.2 882.0,129.2 881.7,131.2 881.3,133.2 881.0,135.2 880.6,137.2 880.3,139.2 879.9,141.2 879.5,143.2 879.2,145.2 878.8,147.2 878.3,149.2 877.9,151.2 877.5,153.2 877.0,155.2 876.6,157.2 876.1,159.2 875.6,161.2 875.1,163.2 874.6,165.2 874.0,167.2 873.5,169.2 872.9,171.2 872.3,173.2 871.7,175.2 871.1,177.2 870.5,179.2 869.8,181.2 869.1,183.2 868.4,185.2 867.7,187.2 867.0,189.2 866.2,191.2 865.4,193.2 864.6,195.2 863.8,197.2 862.9,199.2 862.0,201.2 861.1,203.2 860.2,205.2 859.2,207.2 858.2,209.2 857.2,211.2 856.2,213.2 855.1,215.2 854.0,217.2 852.9,219.2 851.8,221.2 850.6,223.2 849.4,225.2 848.1,227.2 846.8,229.2 845.5,231.2 844.2,233.2 842.8,235.2 841.4,237.2 840.0,239.2 838.5,241.2 837.0,243.2 835.4,245.2 833.9,247.2 832.2,249.2 830.6,251.2 828.9,253.2 827.2,255.2 825.4,257.2 823.6,259.2 821.7,261.2 819.9,263.2 817.9,265.2 816.0,267.2 813.9,269.2 811.9,271.2 809.8,273.2 807.7,275.2 805.5,277.2 803.3,279.2 801.1,281.2 798.9,283.2 796.8,285.2 794.7,287.2 792.6,289.2 790.7,291.2 788.9,293.2 787.2,295.2 785.6,297.2 784.2,299.2 783.0,301.2 782.0,303.2 781.2,305.2 780.6,307.2 780.2,309.2 780.0,311.2 780.0,313.2 780.2,315.2 780.6,317.2 781.3,319.2 782.1,321.2 783.2,323.2 784.5,325.2 785.9,327.2 787.6,329.2 789.5,331.2 791.6,333.2 793.8,335.2 796.2,337.2 798.7,339.2 801.3,341.2 804.1,343.2 806.9,345.2 809.8,347.2 812.7,349.2 815.7,351.2 818.8,353.2 821.8,355.2 824.9,357.2 827.9,359.2 831.0,361.2 833.9,363.2 836.9,365.2 839.7,367.2 842.5,369.2 845.2,371.2 847.8,373.2 850.2,375.2 852.5,377.2 854.7,379.2 856.7,381.2 858.7,383.2 860.5,385.2 862.2,387.2 863.8,389.2 865.3,391.2 866.7,393.2 868.0,395.2 869.2,397.2 870.4,399.2 871.5,401.2 872.5,403.2 873.5,405.2 874.4,407.2 875.2,409.2 876.0,411.2 876.8,413.2 877.5,415.2 878.2,417.2 878.9,419.2 879.6,421.2 880.2,423.2 880.8,425.2 881.5,427.2 882.1,429.2 882.7,431.2 883.4,433.2 884.0,435.2 884.6,437.2 885.1,439.2 885.7,441.2 886.2,443.2 886.7,445.2 887.2,447.2 887.7,449.2 888.1,451.2 888.5,453.2 888.9,455.2 889.2,457.2 889.5,459.2 889.7,461.2 889.9,463.2 890.1,465.2 890.2,467.2 890.3,469.2 890.3,471.2 890.2,472.5 L890.5,472.5" fill="none" stroke="#4b4b48" stroke-width="1.6" stroke-linejoin="round"/>
<path d="M890.5,127.5 L892.5,127.5 L893.0,129.5 893.6,131.5 894.2,133.5 894.9,135.5 895.5,137.5 896.1,139.5 896.8,141.5 897.5,143.5 898.1,145.5 898.8,147.5 899.5,149.5 900.2,151.5 900.9,153.5 901.6,155.5 902.3,157.5 903.0,159.5 903.7,161.5 904.5,163.5 905.2,165.5 905.9,167.5 906.7,169.5 907.4,171.5 908.1,173.5 908.8,175.5 909.6,177.5 910.3,179.5 911.0,181.5 911.7,183.5 912.4,185.5 913.1,187.5 913.8,189.5 914.5,191.5 915.2,193.5 915.9,195.5 916.5,197.5 917.2,199.5 917.8,201.5 918.5,203.5 919.1,205.5 919.7,207.5 920.3,209.5 920.9,211.5 921.4,213.5 922.0,215.5 922.5,217.5 923.1,219.5 923.6,221.5 924.0,223.5 924.5,225.5 925.0,227.5 925.4,229.5 925.8,231.5 926.3,233.5 926.7,235.5 927.1,237.5 927.6,239.5 928.1,241.5 928.6,243.5 929.1,245.5 929.7,247.5 930.4,249.5 931.0,251.5 931.8,253.5 932.6,255.5 933.4,257.5 934.4,259.5 935.4,261.5 936.5,263.5 937.7,265.5 939.0,267.5 940.4,269.5 941.9,271.5 943.5,273.5 945.3,275.5 947.1,277.5 949.1,279.5 951.2,281.5 953.3,283.5 955.5,285.5 957.7,287.5 960.0,289.5 962.3,291.5 964.6,293.5 966.8,295.5 969.1,297.5 971.3,299.5 973.4,301.5 975.5,303.5 977.5,305.5 979.4,307.5 981.1,309.5 982.8,311.5 984.2,313.5 985.6,315.5 986.7,317.5 987.8,319.5 988.6,321.5 989.4,323.5 989.9,325.5 990.4,327.5 990.6,329.5 990.7,331.5 990.7,333.5 990.5,335.5 990.2,337.5 989.7,339.5 989.1,341.5 988.3,343.5 987.4,345.5 986.4,347.5 985.1,349.5 983.8,351.5 982.3,353.5 980.7,355.5 979.0,357.5 977.1,359.5 975.2,361.5 973.2,363.5 971.1,365.5 968.9,367.5 966.7,369.5 964.4,371.5 962.1,373.5 959.8,375.5 957.4,377.5 955.1,379.5 952.7,381.5 950.4,383.5 948.0,385.5 945.8,387.5 943.5,389.5 941.3,391.5 939.1,393.5 937.0,395.5 935.0,397.5 932.9,399.5 931.0,401.5 929.0,403.5 927.1,405.5 925.3,407.5 923.5,409.5 921.7,411.5 920.0,413.5 918.3,415.5 916.7,417.5 915.2,419.5 913.6,421.5 912.2,423.5 910.7,425.5 909.3,427.5 908.0,429.5 906.7,431.5 905.5,433.5 904.3,435.5 903.1,437.5 902.0,439.5 901.0,441.5 900.0,443.5 899.1,445.5 898.2,447.5 897.3,449.5 896.5,451.5 895.8,453.5 895.1,455.5 894.4,457.5 893.8,459.5 893.3,461.5 892.8,463.5 892.4,465.5 892.0,467.5 891.6,469.5 891.4,471.5 891.2,472.5 L890.5,472.5 Z" fill="#e1877f"/>
<path d="M890.5,127.5 L892.5,127.5 L893.0,129.5 893.6,131.5 894.2,133.5 894.9,135.5 895.5,137.5 896.1,139.5 896.8,141.5 897.5,143.5 898.1,145.5 898.8,147.5 899.5,149.5 900.2,151.5 900.9,153.5 901.6,155.5 902.3,157.5 903.0,159.5 903.7,161.5 904.5,163.5 905.2,165.5 905.9,167.5 906.7,169.5 907.4,171.5 908.1,173.5 908.8,175.5 909.6,177.5 910.3,179.5 911.0,181.5 911.7,183.5 912.4,185.5 913.1,187.5 913.8,189.5 914.5,191.5 915.2,193.5 915.9,195.5 916.5,197.5 917.2,199.5 917.8,201.5 918.5,203.5 919.1,205.5 919.7,207.5 920.3,209.5 920.9,211.5 921.4,213.5 922.0,215.5 922.5,217.5 923.1,219.5 923.6,221.5 924.0,223.5 924.5,225.5 925.0,227.5 925.4,229.5 925.8,231.5 926.3,233.5 926.7,235.5 927.1,237.5 927.6,239.5 928.1,241.5 928.6,243.5 929.1,245.5 929.7,247.5 930.4,249.5 931.0,251.5 931.8,253.5 932.6,255.5 933.4,257.5 934.4,259.5 935.4,261.5 936.5,263.5 937.7,265.5 939.0,267.5 940.4,269.5 941.9,271.5 943.5,273.5 945.3,275.5 947.1,277.5 949.1,279.5 951.2,281.5 953.3,283.5 955.5,285.5 957.7,287.5 960.0,289.5 962.3,291.5 964.6,293.5 966.8,295.5 969.1,297.5 971.3,299.5 973.4,301.5 975.5,303.5 977.5,305.5 979.4,307.5 981.1,309.5 982.8,311.5 984.2,313.5 985.6,315.5 986.7,317.5 987.8,319.5 988.6,321.5 989.4,323.5 989.9,325.5 990.4,327.5 990.6,329.5 990.7,331.5 990.7,333.5 990.5,335.5 990.2,337.5 989.7,339.5 989.1,341.5 988.3,343.5 987.4,345.5 986.4,347.5 985.1,349.5 983.8,351.5 982.3,353.5 980.7,355.5 979.0,357.5 977.1,359.5 975.2,361.5 973.2,363.5 971.1,365.5 968.9,367.5 966.7,369.5 964.4,371.5 962.1,373.5 959.8,375.5 957.4,377.5 955.1,379.5 952.7,381.5 950.4,383.5 948.0,385.5 945.8,387.5 943.5,389.5 941.3,391.5 939.1,393.5 937.0,395.5 935.0,397.5 932.9,399.5 931.0,401.5 929.0,403.5 927.1,405.5 925.3,407.5 923.5,409.5 921.7,411.5 920.0,413.5 918.3,415.5 916.7,417.5 915.2,419.5 913.6,421.5 912.2,423.5 910.7,425.5 909.3,427.5 908.0,429.5 906.7,431.5 905.5,433.5 904.3,435.5 903.1,437.5 902.0,439.5 901.0,441.5 900.0,443.5 899.1,445.5 898.2,447.5 897.3,449.5 896.5,451.5 895.8,453.5 895.1,455.5 894.4,457.5 893.8,459.5 893.3,461.5 892.8,463.5 892.4,465.5 892.0,467.5 891.6,469.5 891.4,471.5 891.2,472.5 L890.5,472.5" fill="none" stroke="#4b4b48" stroke-width="1.6" stroke-linejoin="round"/>
<line x1="890.5" y1="71.2" x2="890.5" y2="472.5" stroke="#56625f" stroke-width="1.7"/>
<g stroke="#525250" stroke-width="2.3"><line x1="820.4" y1="263.8" x2="890.5" y2="263.8" stroke-dasharray="5.5 7"/><line x1="783.7" y1="302.0" x2="890.5" y2="302.0" stroke-dasharray="11.5 13.5"/><line x1="797.5" y1="337.5" x2="890.5" y2="337.5" stroke-dasharray="5.5 7"/><line x1="890.5" y1="294.5" x2="964.7" y2="294.5" stroke-dasharray="5.5 7"/><line x1="890.5" y1="327.0" x2="989.2" y2="327.0" stroke-dasharray="11.5 13.5"/><line x1="890.5" y1="343.8" x2="987.2" y2="343.8" stroke-dasharray="5.5 7"/></g>
<path d="M1167.5,126.2 L1167.5,126.2 L1167.4,128.2 1167.2,130.2 1167.1,132.2 1166.9,134.2 1166.8,136.2 1166.7,138.2 1166.5,140.2 1166.4,142.2 1166.3,144.2 1166.2,146.2 1166.1,148.2 1166.0,150.2 1165.9,152.2 1165.8,154.2 1165.7,156.2 1165.6,158.2 1165.5,160.2 1165.4,162.2 1165.3,164.2 1165.2,166.2 1165.1,168.2 1165.0,170.2 1164.8,172.2 1164.7,174.2 1164.6,176.2 1164.5,178.2 1164.3,180.2 1164.1,182.2 1164.0,184.2 1163.8,186.2 1163.6,188.2 1163.4,190.2 1163.2,192.2 1163.0,194.2 1162.8,196.2 1162.5,198.2 1162.3,200.2 1162.0,202.2 1161.7,204.2 1161.4,206.2 1161.1,208.2 1160.7,210.2 1160.4,212.2 1160.0,214.2 1159.6,216.2 1159.2,218.2 1158.7,220.2 1158.3,222.2 1157.8,224.2 1157.3,226.2 1156.7,228.2 1156.2,230.2 1155.6,232.2 1155.0,234.2 1154.4,236.2 1153.7,238.2 1153.0,240.2 1152.3,242.2 1151.6,244.2 1150.8,246.2 1150.0,248.2 1149.2,250.2 1148.3,252.2 1147.4,254.2 1146.5,256.2 1145.6,258.2 1144.6,260.2 1143.5,262.2 1142.5,264.2 1141.4,266.2 1140.2,268.2 1139.1,270.2 1137.8,272.2 1136.6,274.2 1135.3,276.2 1134.0,278.2 1132.6,280.2 1131.2,282.2 1129.8,284.2 1128.3,286.2 1126.8,288.2 1125.3,290.2 1123.8,292.2 1122.2,294.2 1120.6,296.2 1118.9,298.2 1117.3,300.2 1115.6,302.2 1113.9,304.2 1112.1,306.2 1110.4,308.2 1108.6,310.2 1106.8,312.2 1105.0,314.2 1103.1,316.2 1101.3,318.2 1099.4,320.2 1097.5,322.2 1095.6,324.2 1093.7,326.2 1091.8,328.2 1089.8,330.2 1087.9,332.2 1085.9,334.2 1084.0,336.2 1082.0,338.2 1080.0,340.2 1078.1,342.2 1076.2,344.2 1074.3,346.2 1072.4,348.2 1070.6,350.2 1068.9,352.2 1067.2,354.2 1065.7,356.2 1064.2,358.2 1062.8,360.2 1061.5,362.2 1060.3,364.2 1059.3,366.2 1058.3,368.2 1057.6,370.2 1057.0,372.2 1056.5,374.2 1056.2,376.2 1056.1,378.2 1056.2,380.2 1056.5,382.2 1056.9,384.2 1057.6,386.2 1058.5,388.2 1059.6,390.2 1060.9,392.2 1062.3,394.2 1063.8,396.2 1065.4,398.2 1067.0,400.2 1068.7,402.2 1070.5,404.2 1072.2,406.2 1073.9,408.2 1075.6,410.2 1077.2,412.2 1078.8,414.2 1080.2,416.2 1081.5,418.2 1082.6,420.2 1083.6,422.2 1084.3,424.2 1084.9,426.2 1085.4,428.2 1085.7,430.2 1085.8,432.2 1085.9,434.2 1086.0,436.2 1086.0,438.2 1085.9,440.2 1085.9,442.2 1086.0,444.2 1086.0,446.2 1086.2,448.2 1086.4,450.2 1086.8,452.2 1087.2,454.2 1087.7,456.2 1088.4,458.2 1089.1,460.2 1089.8,462.2 1090.7,464.2 1091.7,466.2 1092.7,468.2 1093.9,470.2 1095.1,472.2 1096.4,474.2 1097.7,476.2 1099.2,478.2 1100.7,480.2 1102.3,482.2 1104.0,484.2 1105.8,486.2 1107.6,488.2 1109.5,490.2 1111.5,492.2 1113.6,494.2 1115.7,496.2 1117.9,498.2 1120.2,500.2 1122.5,502.2 1124.9,504.2 1127.3,506.2 1129.7,508.2 1132.1,510.2 1134.5,512.2 1136.8,514.2 1139.2,516.2 1141.5,518.2 1143.7,520.2 1145.9,522.2 1147.9,524.2 1149.9,526.2 1151.8,528.2 1153.6,530.2 1155.2,532.2 1156.7,534.2 1158.1,536.2 1159.3,538.2 1160.4,540.2 1161.4,542.2 1162.3,544.2 1163.1,546.2 1163.7,548.2 1164.2,550.2 1164.6,552.2 1164.9,554.2 1164.9,554.3 L1167.5,554.3 Z" fill="#b0d2dc"/>
<path d="M1167.5,126.2 L1167.5,126.2 L1167.4,128.2 1167.2,130.2 1167.1,132.2 1166.9,134.2 1166.8,136.2 1166.7,138.2 1166.5,140.2 1166.4,142.2 1166.3,144.2 1166.2,146.2 1166.1,148.2 1166.0,150.2 1165.9,152.2 1165.8,154.2 1165.7,156.2 1165.6,158.2 1165.5,160.2 1165.4,162.2 1165.3,164.2 1165.2,166.2 1165.1,168.2 1165.0,170.2 1164.8,172.2 1164.7,174.2 1164.6,176.2 1164.5,178.2 1164.3,180.2 1164.1,182.2 1164.0,184.2 1163.8,186.2 1163.6,188.2 1163.4,190.2 1163.2,192.2 1163.0,194.2 1162.8,196.2 1162.5,198.2 1162.3,200.2 1162.0,202.2 1161.7,204.2 1161.4,206.2 1161.1,208.2 1160.7,210.2 1160.4,212.2 1160.0,214.2 1159.6,216.2 1159.2,218.2 1158.7,220.2 1158.3,222.2 1157.8,224.2 1157.3,226.2 1156.7,228.2 1156.2,230.2 1155.6,232.2 1155.0,234.2 1154.4,236.2 1153.7,238.2 1153.0,240.2 1152.3,242.2 1151.6,244.2 1150.8,246.2 1150.0,248.2 1149.2,250.2 1148.3,252.2 1147.4,254.2 1146.5,256.2 1145.6,258.2 1144.6,260.2 1143.5,262.2 1142.5,264.2 1141.4,266.2 1140.2,268.2 1139.1,270.2 1137.8,272.2 1136.6,274.2 1135.3,276.2 1134.0,278.2 1132.6,280.2 1131.2,282.2 1129.8,284.2 1128.3,286.2 1126.8,288.2 1125.3,290.2 1123.8,292.2 1122.2,294.2 1120.6,296.2 1118.9,298.2 1117.3,300.2 1115.6,302.2 1113.9,304.2 1112.1,306.2 1110.4,308.2 1108.6,310.2 1106.8,312.2 1105.0,314.2 1103.1,316.2 1101.3,318.2 1099.4,320.2 1097.5,322.2 1095.6,324.2 1093.7,326.2 1091.8,328.2 1089.8,330.2 1087.9,332.2 1085.9,334.2 1084.0,336.2 1082.0,338.2 1080.0,340.2 1078.1,342.2 1076.2,344.2 1074.3,346.2 1072.4,348.2 1070.6,350.2 1068.9,352.2 1067.2,354.2 1065.7,356.2 1064.2,358.2 1062.8,360.2 1061.5,362.2 1060.3,364.2 1059.3,366.2 1058.3,368.2 1057.6,370.2 1057.0,372.2 1056.5,374.2 1056.2,376.2 1056.1,378.2 1056.2,380.2 1056.5,382.2 1056.9,384.2 1057.6,386.2 1058.5,388.2 1059.6,390.2 1060.9,392.2 1062.3,394.2 1063.8,396.2 1065.4,398.2 1067.0,400.2 1068.7,402.2 1070.5,404.2 1072.2,406.2 1073.9,408.2 1075.6,410.2 1077.2,412.2 1078.8,414.2 1080.2,416.2 1081.5,418.2 1082.6,420.2 1083.6,422.2 1084.3,424.2 1084.9,426.2 1085.4,428.2 1085.7,430.2 1085.8,432.2 1085.9,434.2 1086.0,436.2 1086.0,438.2 1085.9,440.2 1085.9,442.2 1086.0,444.2 1086.0,446.2 1086.2,448.2 1086.4,450.2 1086.8,452.2 1087.2,454.2 1087.7,456.2 1088.4,458.2 1089.1,460.2 1089.8,462.2 1090.7,464.2 1091.7,466.2 1092.7,468.2 1093.9,470.2 1095.1,472.2 1096.4,474.2 1097.7,476.2 1099.2,478.2 1100.7,480.2 1102.3,482.2 1104.0,484.2 1105.8,486.2 1107.6,488.2 1109.5,490.2 1111.5,492.2 1113.6,494.2 1115.7,496.2 1117.9,498.2 1120.2,500.2 1122.5,502.2 1124.9,504.2 1127.3,506.2 1129.7,508.2 1132.1,510.2 1134.5,512.2 1136.8,514.2 1139.2,516.2 1141.5,518.2 1143.7,520.2 1145.9,522.2 1147.9,524.2 1149.9,526.2 1151.8,528.2 1153.6,530.2 1155.2,532.2 1156.7,534.2 1158.1,536.2 1159.3,538.2 1160.4,540.2 1161.4,542.2 1162.3,544.2 1163.1,546.2 1163.7,548.2 1164.2,550.2 1164.6,552.2 1164.9,554.2 1164.9,554.3 L1167.5,554.3" fill="none" stroke="#4b4b48" stroke-width="1.6" stroke-linejoin="round"/>
<path d="M1167.5,203.8 L1170.0,203.8 L1170.4,205.8 1170.9,207.8 1171.4,209.8 1171.8,211.8 1172.4,213.8 1173.0,215.8 1173.6,217.8 1174.2,219.8 1174.9,221.8 1175.7,223.8 1176.5,225.8 1177.4,227.8 1178.3,229.8 1179.4,231.8 1180.5,233.8 1181.6,235.8 1182.9,237.8 1184.3,239.8 1185.7,241.8 1187.2,243.8 1188.9,245.8 1190.6,247.8 1192.5,249.8 1194.4,251.8 1196.5,253.8 1198.7,255.8 1201.0,257.8 1203.4,259.8 1205.8,261.8 1208.4,263.8 1211.0,265.8 1213.6,267.8 1216.3,269.8 1219.0,271.8 1221.7,273.8 1224.4,275.8 1227.1,277.8 1229.7,279.8 1232.4,281.8 1235.0,283.8 1237.5,285.8 1240.0,287.8 1242.4,289.8 1244.7,291.8 1246.9,293.8 1249.0,295.8 1251.0,297.8 1252.9,299.8 1254.6,301.8 1256.1,303.8 1257.5,305.8 1258.8,307.8 1259.9,309.8 1260.9,311.8 1261.7,313.8 1262.4,315.8 1262.9,317.8 1263.3,319.8 1263.6,321.8 1263.8,323.8 1263.9,325.8 1263.8,327.8 1263.7,329.8 1263.4,331.8 1263.0,333.8 1262.6,335.8 1262.0,337.8 1261.3,339.8 1260.6,341.8 1259.8,343.8 1258.9,345.8 1257.9,347.8 1256.8,349.8 1255.7,351.8 1254.5,353.8 1253.3,355.8 1252.0,357.8 1250.7,359.8 1249.3,361.8 1247.9,363.8 1246.5,365.8 1245.1,367.8 1243.7,369.8 1242.3,371.8 1241.0,373.8 1239.6,375.8 1238.3,377.8 1237.1,379.8 1235.9,381.8 1234.8,383.8 1233.7,385.8 1232.7,387.8 1231.8,389.8 1231.0,391.8 1230.3,393.8 1229.8,395.8 1229.3,397.8 1229.0,399.8 1228.8,401.8 1228.8,403.8 1228.9,405.8 1229.2,407.8 1229.6,409.8 1230.1,411.8 1230.7,413.8 1231.3,415.8 1232.1,417.8 1232.9,419.8 1233.8,421.8 1234.7,423.8 1235.6,425.8 1236.5,427.8 1237.5,429.8 1238.4,431.8 1239.3,433.8 1240.2,435.8 1241.1,437.8 1241.9,439.8 1242.6,441.8 1243.2,443.8 1243.8,445.8 1244.2,447.8 1244.5,449.8 1244.7,451.8 1244.8,453.8 1244.7,455.8 1244.5,457.8 1244.1,459.8 1243.7,461.8 1243.1,463.8 1242.4,465.8 1241.6,467.8 1240.6,469.8 1239.6,471.8 1238.5,473.8 1237.3,475.8 1236.0,477.8 1234.7,479.8 1233.2,481.8 1231.7,483.8 1230.2,485.8 1228.5,487.8 1226.9,489.8 1225.1,491.8 1223.4,493.8 1221.6,495.8 1219.7,497.8 1217.9,499.8 1216.0,501.8 1214.1,503.8 1212.2,505.8 1210.3,507.8 1208.3,509.8 1206.4,511.8 1204.5,513.8 1202.6,515.8 1200.8,517.8 1198.9,519.8 1197.1,521.8 1195.3,523.8 1193.5,525.8 1191.8,527.8 1190.1,529.8 1188.5,531.8 1187.0,533.8 1185.5,535.8 1184.0,537.8 1182.7,539.8 1181.4,541.8 1180.1,543.8 1179.0,545.8 1178.0,547.8 1177.0,549.8 1176.1,551.8 1175.3,553.8 1174.6,555.8 1173.9,557.8 1173.4,559.8 1172.9,561.8 1172.4,563.8 1172.1,565.8 1171.8,567.8 1171.6,569.8 1171.5,571.8 1171.4,572.5 L1167.5,572.5 Z" fill="#e1877f"/>
<path d="M1167.5,203.8 L1170.0,203.8 L1170.4,205.8 1170.9,207.8 1171.4,209.8 1171.8,211.8 1172.4,213.8 1173.0,215.8 1173.6,217.8 1174.2,219.8 1174.9,221.8 1175.7,223.8 1176.5,225.8 1177.4,227.8 1178.3,229.8 1179.4,231.8 1180.5,233.8 1181.6,235.8 1182.9,237.8 1184.3,239.8 1185.7,241.8 1187.2,243.8 1188.9,245.8 1190.6,247.8 1192.5,249.8 1194.4,251.8 1196.5,253.8 1198.7,255.8 1201.0,257.8 1203.4,259.8 1205.8,261.8 1208.4,263.8 1211.0,265.8 1213.6,267.8 1216.3,269.8 1219.0,271.8 1221.7,273.8 1224.4,275.8 1227.1,277.8 1229.7,279.8 1232.4,281.8 1235.0,283.8 1237.5,285.8 1240.0,287.8 1242.4,289.8 1244.7,291.8 1246.9,293.8 1249.0,295.8 1251.0,297.8 1252.9,299.8 1254.6,301.8 1256.1,303.8 1257.5,305.8 1258.8,307.8 1259.9,309.8 1260.9,311.8 1261.7,313.8 1262.4,315.8 1262.9,317.8 1263.3,319.8 1263.6,321.8 1263.8,323.8 1263.9,325.8 1263.8,327.8 1263.7,329.8 1263.4,331.8 1263.0,333.8 1262.6,335.8 1262.0,337.8 1261.3,339.8 1260.6,341.8 1259.8,343.8 1258.9,345.8 1257.9,347.8 1256.8,349.8 1255.7,351.8 1254.5,353.8 1253.3,355.8 1252.0,357.8 1250.7,359.8 1249.3,361.8 1247.9,363.8 1246.5,365.8 1245.1,367.8 1243.7,369.8 1242.3,371.8 1241.0,373.8 1239.6,375.8 1238.3,377.8 1237.1,379.8 1235.9,381.8 1234.8,383.8 1233.7,385.8 1232.7,387.8 1231.8,389.8 1231.0,391.8 1230.3,393.8 1229.8,395.8 1229.3,397.8 1229.0,399.8 1228.8,401.8 1228.8,403.8 1228.9,405.8 1229.2,407.8 1229.6,409.8 1230.1,411.8 1230.7,413.8 1231.3,415.8 1232.1,417.8 1232.9,419.8 1233.8,421.8 1234.7,423.8 1235.6,425.8 1236.5,427.8 1237.5,429.8 1238.4,431.8 1239.3,433.8 1240.2,435.8 1241.1,437.8 1241.9,439.8 1242.6,441.8 1243.2,443.8 1243.8,445.8 1244.2,447.8 1244.5,449.8 1244.7,451.8 1244.8,453.8 1244.7,455.8 1244.5,457.8 1244.1,459.8 1243.7,461.8 1243.1,463.8 1242.4,465.8 1241.6,467.8 1240.6,469.8 1239.6,471.8 1238.5,473.8 1237.3,475.8 1236.0,477.8 1234.7,479.8 1233.2,481.8 1231.7,483.8 1230.2,485.8 1228.5,487.8 1226.9,489.8 1225.1,491.8 1223.4,493.8 1221.6,495.8 1219.7,497.8 1217.9,499.8 1216.0,501.8 1214.1,503.8 1212.2,505.8 1210.3,507.8 1208.3,509.8 1206.4,511.8 1204.5,513.8 1202.6,515.8 1200.8,517.8 1198.9,519.8 1197.1,521.8 1195.3,523.8 1193.5,525.8 1191.8,527.8 1190.1,529.8 1188.5,531.8 1187.0,533.8 1185.5,535.8 1184.0,537.8 1182.7,539.8 1181.4,541.8 1180.1,543.8 1179.0,545.8 1178.0,547.8 1177.0,549.8 1176.1,551.8 1175.3,553.8 1174.6,555.8 1173.9,557.8 1173.4,559.8 1172.9,561.8 1172.4,563.8 1172.1,565.8 1171.8,567.8 1171.6,569.8 1171.5,571.8 1171.4,572.5 L1167.5,572.5" fill="none" stroke="#4b4b48" stroke-width="1.6" stroke-linejoin="round"/>
<line x1="1167.5" y1="126.2" x2="1167.5" y2="572.5" stroke="#56625f" stroke-width="1.7"/>
<g stroke="#525250" stroke-width="2.3"><line x1="1069.7" y1="352.5" x2="1167.5" y2="352.5" stroke-dasharray="5.5 7"/><line x1="1059.2" y1="387.5" x2="1167.5" y2="387.5" stroke-dasharray="11.5 13.5"/><line x1="1088.4" y1="455.0" x2="1167.5" y2="455.0" stroke-dasharray="5.5 7"/><line x1="1167.5" y1="325.5" x2="1262.9" y2="325.5" stroke-dasharray="5.5 7"/><line x1="1167.5" y1="350.0" x2="1255.7" y2="350.0" stroke-dasharray="11.5 13.5"/><line x1="1167.5" y1="458.0" x2="1243.4" y2="458.0" stroke-dasharray="5.5 7"/></g>
<path d="M752.3,46.0 L752.3,597.0 L1307.7,597.0" fill="none" stroke="#383838" stroke-width="2.2"/>
<path d="M752.3,586.4 h6.7 M752.3,517.6 h6.7 M752.3,448.8 h6.7 M752.3,380.0 h6.7 M752.3,311.1 h6.7 M752.3,242.3 h6.7 M752.3,173.5 h6.7 M752.3,104.6 h6.7 M890.5,597.0 v-7 M1167.5,597.0 v-7" stroke="#383838" stroke-width="2" fill="none"/>
<text x="745.0" y="595.2" text-anchor="end" class="tk">−2.5</text>
<text x="745.0" y="526.4" text-anchor="end" class="tk">0.0</text>
<text x="745.0" y="457.6" text-anchor="end" class="tk">2.5</text>
<text x="745.0" y="388.8" text-anchor="end" class="tk">5.0</text>
<text x="745.0" y="319.9" text-anchor="end" class="tk">7.5</text>
<text x="745.0" y="251.1" text-anchor="end" class="tk">10.0</text>
<text x="745.0" y="182.3" text-anchor="end" class="tk">12.5</text>
<text x="745.0" y="113.4" text-anchor="end" class="tk">15.0</text>
<text x="890.5" y="621.5" text-anchor="middle" class="tk">Bacterial infection</text>
<text x="1167.5" y="621.5" text-anchor="middle" class="tk">Virus infection</text>
<text x="1029.0" y="651.0" text-anchor="middle" class="tk">vb</text>
<text transform="translate(680.2,324.3) rotate(-90)" text-anchor="middle" class="tk">NEU</text>
<text x="1029.5" y="35.4" text-anchor="middle" class="ti">NEU, , p-value: <0.01</text>
<line x1="1425.0" y1="586.0" x2="1971.5" y2="586.0" stroke="#e5e5e5" stroke-width="1.3"/>
<line x1="1425.0" y1="480.5" x2="1971.5" y2="480.5" stroke="#e5e5e5" stroke-width="1.3"/>
<line x1="1425.0" y1="375.0" x2="1971.5" y2="375.0" stroke="#e5e5e5" stroke-width="1.3"/>
<line x1="1425.0" y1="269.4" x2="1971.5" y2="269.4" stroke="#e5e5e5" stroke-width="1.3"/>
<line x1="1425.0" y1="163.9" x2="1971.5" y2="163.9" stroke="#e5e5e5" stroke-width="1.3"/>
<line x1="1425.0" y1="58.4" x2="1971.5" y2="58.4" stroke="#e5e5e5" stroke-width="1.3"/>
<path d="M1555.3,71.2 L1555.3,71.2 L1554.9,73.2 1554.2,75.2 1553.5,77.2 1552.6,79.2 1551.5,81.2 1550.4,83.2 1549.1,85.2 1547.7,87.2 1546.1,89.2 1544.5,91.2 1542.8,93.2 1541.0,95.2 1539.1,97.2 1537.1,99.2 1535.1,101.2 1533.0,103.2 1530.8,105.2 1528.6,107.2 1526.3,109.2 1524.0,111.2 1521.6,113.2 1519.2,115.2 1516.8,117.2 1514.4,119.2 1511.9,121.2 1509.5,123.2 1507.1,125.2 1504.6,127.2 1502.2,129.2 1499.8,131.2 1497.4,133.2 1495.0,135.2 1492.7,137.2 1490.4,139.2 1488.1,141.2 1485.8,143.2 1483.6,145.2 1481.4,147.2 1479.3,149.2 1477.1,151.2 1475.1,153.2 1473.0,155.2 1471.1,157.2 1469.1,159.2 1467.3,161.2 1465.4,163.2 1463.7,165.2 1462.1,167.2 1460.6,169.2 1459.3,171.2 1458.1,173.2 1457.1,175.2 1456.4,177.2 1455.8,179.2 1455.5,181.2 1455.5,183.2 1455.8,185.2 1456.3,187.2 1457.2,189.2 1458.2,191.2 1459.6,193.2 1461.1,195.2 1462.8,197.2 1464.8,199.2 1466.9,201.2 1469.2,203.2 1471.6,205.2 1474.1,207.2 1476.7,209.2 1479.4,211.2 1482.2,213.2 1485.0,215.2 1487.9,217.2 1490.7,219.2 1493.6,221.2 1496.6,223.2 1499.5,225.2 1502.4,227.2 1505.2,229.2 1508.1,231.2 1510.9,233.2 1513.6,235.2 1516.3,237.2 1519.0,239.2 1521.5,241.2 1524.0,243.2 1526.4,245.2 1528.7,247.2 1530.9,249.2 1533.0,251.2 1535.1,253.2 1537.0,255.2 1538.9,257.2 1540.7,259.2 1542.3,261.2 1543.9,263.2 1545.4,265.2 1546.8,267.2 1548.1,269.2 1549.3,271.2 1550.3,273.2 1551.3,275.2 1552.2,277.2 1553.0,279.2 1553.6,281.2 1554.2,283.2 1554.6,285.2 1554.9,287.2 1555.1,289.2 1555.2,291.2 1555.2,293.2 1555.1,293.5 L1555.3,293.5 Z" fill="#b0d2dc"/>
<path d="M1555.3,71.2 L1555.3,71.2 L1554.9,73.2 1554.2,75.2 1553.5,77.2 1552.6,79.2 1551.5,81.2 1550.4,83.2 1549.1,85.2 1547.7,87.2 1546.1,89.2 1544.5,91.2 1542.8,93.2 1541.0,95.2 1539.1,97.2 1537.1,99.2 1535.1,101.2 1533.0,103.2 1530.8,105.2 1528.6,107.2 1526.3,109.2 1524.0,111.2 1521.6,113.2 1519.2,115.2 1516.8,117.2 1514.4,119.2 1511.9,121.2 1509.5,123.2 1507.1,125.2 1504.6,127.2 1502.2,129.2 1499.8,131.2 1497.4,133.2 1495.0,135.2 1492.7,137.2 1490.4,139.2 1488.1,141.2 1485.8,143.2 1483.6,145.2 1481.4,147.2 1479.3,149.2 1477.1,151.2 1475.1,153.2 1473.0,155.2 1471.1,157.2 1469.1,159.2 1467.3,161.2 1465.4,163.2 1463.7,165.2 1462.1,167.2 1460.6,169.2 1459.3,171.2 1458.1,173.2 1457.1,175.2 1456.4,177.2 1455.8,179.2 1455.5,181.2 1455.5,183.2 1455.8,185.2 1456.3,187.2 1457.2,189.2 1458.2,191.2 1459.6,193.2 1461.1,195.2 1462.8,197.2 1464.8,199.2 1466.9,201.2 1469.2,203.2 1471.6,205.2 1474.1,207.2 1476.7,209.2 1479.4,211.2 1482.2,213.2 1485.0,215.2 1487.9,217.2 1490.7,219.2 1493.6,221.2 1496.6,223.2 1499.5,225.2 1502.4,227.2 1505.2,229.2 1508.1,231.2 1510.9,233.2 1513.6,235.2 1516.3,237.2 1519.0,239.2 1521.5,241.2 1524.0,243.2 1526.4,245.2 1528.7,247.2 1530.9,249.2 1533.0,251.2 1535.1,253.2 1537.0,255.2 1538.9,257.2 1540.7,259.2 1542.3,261.2 1543.9,263.2 1545.4,265.2 1546.8,267.2 1548.1,269.2 1549.3,271.2 1550.3,273.2 1551.3,275.2 1552.2,277.2 1553.0,279.2 1553.6,281.2 1554.2,283.2 1554.6,285.2 1554.9,287.2 1555.1,289.2 1555.2,291.2 1555.2,293.2 1555.1,293.5 L1555.3,293.5" fill="none" stroke="#4b4b48" stroke-width="1.6" stroke-linejoin="round"/>
<path d="M1555.3,77.4 L1556.1,77.4 L1557.4,79.4 1558.9,81.4 1560.4,83.4 1562.0,85.4 1563.6,87.4 1565.4,89.4 1567.2,91.4 1569.1,93.4 1571.1,95.4 1573.1,97.4 1575.2,99.4 1577.3,101.4 1579.5,103.4 1581.7,105.4 1583.9,107.4 1586.2,109.4 1588.4,111.4 1590.7,113.4 1593.1,115.4 1595.4,117.4 1597.7,119.4 1600.0,121.4 1602.3,123.4 1604.7,125.4 1606.9,127.4 1609.2,129.4 1611.4,131.4 1613.6,133.4 1615.8,135.4 1617.9,137.4 1620.0,139.4 1622.1,141.4 1624.2,143.4 1626.3,145.4 1628.5,147.4 1630.6,149.4 1632.8,151.4 1635.1,153.4 1637.5,155.4 1639.9,157.4 1642.4,159.4 1645.1,161.4 1647.7,163.4 1650.4,165.4 1652.9,167.4 1655.3,169.4 1657.5,171.4 1659.3,173.4 1660.8,175.4 1661.9,177.4 1662.4,179.4 1662.4,181.4 1661.8,183.4 1660.4,185.4 1658.4,187.4 1655.8,189.4 1652.7,191.4 1649.3,193.4 1645.6,195.4 1641.8,197.4 1638.0,199.4 1634.2,201.4 1630.5,203.4 1627.1,205.4 1623.9,207.4 1620.9,209.4 1617.9,211.4 1615.1,213.4 1612.4,215.4 1609.7,217.4 1607.1,219.4 1604.5,221.4 1601.9,223.4 1599.4,225.4 1596.9,227.4 1594.5,229.4 1592.1,231.4 1589.8,233.4 1587.5,235.4 1585.3,237.4 1583.1,239.4 1581.0,241.4 1579.0,243.4 1577.0,245.4 1575.0,247.4 1573.2,249.4 1571.4,251.4 1569.6,253.4 1568.0,255.4 1566.4,257.4 1565.0,259.4 1563.6,261.4 1562.3,263.4 1561.1,265.4 1559.9,267.4 1558.9,269.4 1558.0,271.4 1557.3,273.4 1556.6,275.4 1556.0,277.4 1555.6,279.4 1555.3,281.4 1555.3,283.4 1555.3,285.4 1555.3,287.4 1555.3,289.4 1555.6,291.1 L1555.3,291.1 Z" fill="#e1877f"/>
<path d="M1555.3,77.4 L1556.1,77.4 L1557.4,79.4 1558.9,81.4 1560.4,83.4 1562.0,85.4 1563.6,87.4 1565.4,89.4 1567.2,91.4 1569.1,93.4 1571.1,95.4 1573.1,97.4 1575.2,99.4 1577.3,101.4 1579.5,103.4 1581.7,105.4 1583.9,107.4 1586.2,109.4 1588.4,111.4 1590.7,113.4 1593.1,115.4 1595.4,117.4 1597.7,119.4 1600.0,121.4 1602.3,123.4 1604.7,125.4 1606.9,127.4 1609.2,129.4 1611.4,131.4 1613.6,133.4 1615.8,135.4 1617.9,137.4 1620.0,139.4 1622.1,141.4 1624.2,143.4 1626.3,145.4 1628.5,147.4 1630.6,149.4 1632.8,151.4 1635.1,153.4 1637.5,155.4 1639.9,157.4 1642.4,159.4 1645.1,161.4 1647.7,163.4 1650.4,165.4 1652.9,167.4 1655.3,169.4 1657.5,171.4 1659.3,173.4 1660.8,175.4 1661.9,177.4 1662.4,179.4 1662.4,181.4 1661.8,183.4 1660.4,185.4 1658.4,187.4 1655.8,189.4 1652.7,191.4 1649.3,193.4 1645.6,195.4 1641.8,197.4 1638.0,199.4 1634.2,201.4 1630.5,203.4 1627.1,205.4 1623.9,207.4 1620.9,209.4 1617.9,211.4 1615.1,213.4 1612.4,215.4 1609.7,217.4 1607.1,219.4 1604.5,221.4 1601.9,223.4 1599.4,225.4 1596.9,227.4 1594.5,229.4 1592.1,231.4 1589.8,233.4 1587.5,235.4 1585.3,237.4 1583.1,239.4 1581.0,241.4 1579.0,243.4 1577.0,245.4 1575.0,247.4 1573.2,249.4 1571.4,251.4 1569.6,253.4 1568.0,255.4 1566.4,257.4 1565.0,259.4 1563.6,261.4 1562.3,263.4 1561.1,265.4 1559.9,267.4 1558.9,269.4 1558.0,271.4 1557.3,273.4 1556.6,275.4 1556.0,277.4 1555.6,279.4 1555.3,281.4 1555.3,283.4 1555.3,285.4 1555.3,287.4 1555.3,289.4 1555.6,291.1 L1555.3,291.1" fill="none" stroke="#4b4b48" stroke-width="1.6" stroke-linejoin="round"/>
<line x1="1555.3" y1="71.2" x2="1555.3" y2="293.5" stroke="#56625f" stroke-width="1.7"/>
<g stroke="#525250" stroke-width="2.3"><line x1="1478.0" y1="151.3" x2="1555.3" y2="151.3" stroke-dasharray="5.5 7"/><line x1="1456.6" y1="183.6" x2="1555.3" y2="183.6" stroke-dasharray="11.5 13.5"/><line x1="1472.0" y1="204.7" x2="1555.3" y2="204.7" stroke-dasharray="5.5 7"/><line x1="1555.3" y1="150.7" x2="1631.1" y2="150.7" stroke-dasharray="5.5 7"/><line x1="1555.3" y1="176.4" x2="1660.4" y2="176.4" stroke-dasharray="11.5 13.5"/><line x1="1555.3" y1="189.6" x2="1654.5" y2="189.6" stroke-dasharray="5.5 7"/></g>
<path d="M1832.5,71.2 L1832.5,71.2 L1832.5,73.2 1832.5,75.2 1832.5,77.2 1832.5,79.2 1832.5,81.2 1832.5,83.2 1832.4,85.2 1832.1,87.2 1831.8,89.2 1831.5,91.2 1831.2,93.2 1830.8,95.2 1830.3,97.2 1829.9,99.2 1829.4,101.2 1828.9,103.2 1828.4,105.2 1827.9,107.2 1827.3,109.2 1826.8,111.2 1826.2,113.2 1825.6,115.2 1825.0,117.2 1824.5,119.2 1823.9,121.2 1823.3,123.2 1822.7,125.2 1822.2,127.2 1821.6,129.2 1821.1,131.2 1820.6,133.2 1820.1,135.2 1819.6,137.2 1819.1,139.2 1818.7,141.2 1818.3,143.2 1817.8,145.2 1817.4,147.2 1817.0,149.2 1816.6,151.2 1816.2,153.2 1815.7,155.2 1815.3,157.2 1814.9,159.2 1814.4,161.2 1813.9,163.2 1813.4,165.2 1812.9,167.2 1812.4,169.2 1811.8,171.2 1811.2,173.2 1810.5,175.2 1809.8,177.2 1809.1,179.2 1808.3,181.2 1807.5,183.2 1806.6,185.2 1805.7,187.2 1804.7,189.2 1803.6,191.2 1802.5,193.2 1801.3,195.2 1800.0,197.2 1798.7,199.2 1797.3,201.2 1795.9,203.2 1794.3,205.2 1792.7,207.2 1791.0,209.2 1789.3,211.2 1787.5,213.2 1785.7,215.2 1783.7,217.2 1781.8,219.2 1779.7,221.2 1777.7,223.2 1775.5,225.2 1773.3,227.2 1771.1,229.2 1768.8,231.2 1766.5,233.2 1764.1,235.2 1761.7,237.2 1759.3,239.2 1756.8,241.2 1754.4,243.2 1751.9,245.2 1749.5,247.2 1747.1,249.2 1744.8,251.2 1742.6,253.2 1740.4,255.2 1738.3,257.2 1736.3,259.2 1734.4,261.2 1732.7,263.2 1731.1,265.2 1729.6,267.2 1728.3,269.2 1727.1,271.2 1726.1,273.2 1725.2,275.2 1724.5,277.2 1723.9,279.2 1723.5,281.2 1723.3,283.2 1723.2,285.2 1723.4,287.2 1723.7,289.2 1724.2,291.2 1724.8,293.2 1725.7,295.2 1726.8,297.2 1728.1,299.2 1729.6,301.2 1731.2,303.2 1733.1,305.2 1735.0,307.2 1737.1,309.2 1739.3,311.2 1741.6,313.2 1744.0,315.2 1746.5,317.2 1749.1,319.2 1751.6,321.2 1754.2,323.2 1756.9,325.2 1759.5,327.2 1762.1,329.2 1764.7,331.2 1767.3,333.2 1769.9,335.2 1772.4,337.2 1774.9,339.2 1777.3,341.2 1779.7,343.2 1782.0,345.2 1784.3,347.2 1786.4,349.2 1788.5,351.2 1790.4,353.2 1792.3,355.2 1794.0,357.2 1795.6,359.2 1797.1,361.2 1798.4,363.2 1799.6,365.2 1800.7,367.2 1801.7,369.2 1802.5,371.2 1803.3,373.2 1804.0,375.2 1804.6,377.2 1805.2,379.2 1805.7,381.2 1806.1,383.2 1806.5,385.2 1806.9,387.2 1807.2,389.2 1807.5,391.2 1807.8,393.2 1808.1,395.2 1808.3,397.2 1808.6,399.2 1808.8,401.2 1809.0,403.2 1809.3,405.2 1809.5,407.2 1809.8,409.2 1810.0,411.2 1810.3,413.2 1810.7,415.2 1811.0,417.2 1811.4,419.2 1811.8,421.2 1812.3,423.2 1812.8,425.2 1813.4,427.2 1813.9,429.2 1814.6,431.2 1815.2,433.2 1815.8,435.2 1816.5,437.2 1817.1,439.2 1817.8,441.2 1818.4,443.2 1819.1,445.2 1819.7,447.2 1820.3,449.2 1820.8,451.2 1821.3,453.2 1821.9,455.2 1822.3,457.2 1822.8,459.2 1823.2,461.2 1823.6,463.2 1824.0,465.2 1824.4,467.2 1824.7,469.2 1825.1,471.2 1825.4,473.2 1825.7,475.2 1825.9,477.2 1826.2,479.2 1826.4,481.2 1826.6,483.2 1826.9,485.2 1827.0,487.2 1827.2,489.2 1827.4,491.2 1827.5,493.2 1827.7,495.2 1827.8,497.2 1827.9,499.2 1828.0,501.2 1828.2,503.2 1828.2,505.2 1828.3,507.2 1828.4,509.2 1828.5,511.2 1828.5,513.2 1828.6,515.2 1828.7,517.2 1828.7,519.2 1828.8,521.2 1828.8,523.2 1828.9,525.2 1828.9,527.2 1829.0,529.2 1829.0,531.2 1829.0,533.2 1829.1,535.2 1829.2,537.2 1829.2,539.2 1829.3,541.2 1829.3,543.2 1829.4,545.2 1829.5,547.2 1829.6,549.2 1829.6,551.2 1829.7,553.2 1829.8,555.2 1830.0,557.2 1830.1,559.2 1830.2,561.2 1830.4,563.2 1830.5,565.2 1830.7,567.2 1830.9,569.2 1831.1,571.2 1831.2,572.5 L1832.5,572.5 Z" fill="#b0d2dc"/>
<path d="M1832.5,71.2 L1832.5,71.2 L1832.5,73.2 1832.5,75.2 1832.5,77.2 1832.5,79.2 1832.5,81.2 1832.5,83.2 1832.4,85.2 1832.1,87.2 1831.8,89.2 1831.5,91.2 1831.2,93.2 1830.8,95.2 1830.3,97.2 1829.9,99.2 1829.4,101.2 1828.9,103.2 1828.4,105.2 1827.9,107.2 1827.3,109.2 1826.8,111.2 1826.2,113.2 1825.6,115.2 1825.0,117.2 1824.5,119.2 1823.9,121.2 1823.3,123.2 1822.7,125.2 1822.2,127.2 1821.6,129.2 1821.1,131.2 1820.6,133.2 1820.1,135.2 1819.6,137.2 1819.1,139.2 1818.7,141.2 1818.3,143.2 1817.8,145.2 1817.4,147.2 1817.0,149.2 1816.6,151.2 1816.2,153.2 1815.7,155.2 1815.3,157.2 1814.9,159.2 1814.4,161.2 1813.9,163.2 1813.4,165.2 1812.9,167.2 1812.4,169.2 1811.8,171.2 1811.2,173.2 1810.5,175.2 1809.8,177.2 1809.1,179.2 1808.3,181.2 1807.5,183.2 1806.6,185.2 1805.7,187.2 1804.7,189.2 1803.6,191.2 1802.5,193.2 1801.3,195.2 1800.0,197.2 1798.7,199.2 1797.3,201.2 1795.9,203.2 1794.3,205.2 1792.7,207.2 1791.0,209.2 1789.3,211.2 1787.5,213.2 1785.7,215.2 1783.7,217.2 1781.8,219.2 1779.7,221.2 1777.7,223.2 1775.5,225.2 1773.3,227.2 1771.1,229.2 1768.8,231.2 1766.5,233.2 1764.1,235.2 1761.7,237.2 1759.3,239.2 1756.8,241.2 1754.4,243.2 1751.9,245.2 1749.5,247.2 1747.1,249.2 1744.8,251.2 1742.6,253.2 1740.4,255.2 1738.3,257.2 1736.3,259.2 1734.4,261.2 1732.7,263.2 1731.1,265.2 1729.6,267.2 1728.3,269.2 1727.1,271.2 1726.1,273.2 1725.2,275.2 1724.5,277.2 1723.9,279.2 1723.5,281.2 1723.3,283.2 1723.2,285.2 1723.4,287.2 1723.7,289.2 1724.2,291.2 1724.8,293.2 1725.7,295.2 1726.8,297.2 1728.1,299.2 1729.6,301.2 1731.2,303.2 1733.1,305.2 1735.0,307.2 1737.1,309.2 1739.3,311.2 1741.6,313.2 1744.0,315.2 1746.5,317.2 1749.1,319.2 1751.6,321.2 1754.2,323.2 1756.9,325.2 1759.5,327.2 1762.1,329.2 1764.7,331.2 1767.3,333.2 1769.9,335.2 1772.4,337.2 1774.9,339.2 1777.3,341.2 1779.7,343.2 1782.0,345.2 1784.3,347.2 1786.4,349.2 1788.5,351.2 1790.4,353.2 1792.3,355.2 1794.0,357.2 1795.6,359.2 1797.1,361.2 1798.4,363.2 1799.6,365.2 1800.7,367.2 1801.7,369.2 1802.5,371.2 1803.3,373.2 1804.0,375.2 1804.6,377.2 1805.2,379.2 1805.7,381.2 1806.1,383.2 1806.5,385.2 1806.9,387.2 1807.2,389.2 1807.5,391.2 1807.8,393.2 1808.1,395.2 1808.3,397.2 1808.6,399.2 1808.8,401.2 1809.0,403.2 1809.3,405.2 1809.5,407.2 1809.8,409.2 1810.0,411.2 1810.3,413.2 1810.7,415.2 1811.0,417.2 1811.4,419.2 1811.8,421.2 1812.3,423.2 1812.8,425.2 1813.4,427.2 1813.9,429.2 1814.6,431.2 1815.2,433.2 1815.8,435.2 1816.5,437.2 1817.1,439.2 1817.8,441.2 1818.4,443.2 1819.1,445.2 1819.7,447.2 1820.3,449.2 1820.8,451.2 1821.3,453.2 1821.9,455.2 1822.3,457.2 1822.8,459.2 1823.2,461.2 1823.6,463.2 1824.0,465.2 1824.4,467.2 1824.7,469.2 1825.1,471.2 1825.4,473.2 1825.7,475.2 1825.9,477.2 1826.2,479.2 1826.4,481.2 1826.6,483.2 1826.9,485.2 1827.0,487.2 1827.2,489.2 1827.4,491.2 1827.5,493.2 1827.7,495.2 1827.8,497.2 1827.9,499.2 1828.0,501.2 1828.2,503.2 1828.2,505.2 1828.3,507.2 1828.4,509.2 1828.5,511.2 1828.5,513.2 1828.6,515.2 1828.7,517.2 1828.7,519.2 1828.8,521.2 1828.8,523.2 1828.9,525.2 1828.9,527.2 1829.0,529.2 1829.0,531.2 1829.0,533.2 1829.1,535.2 1829.2,537.2 1829.2,539.2 1829.3,541.2 1829.3,543.2 1829.4,545.2 1829.5,547.2 1829.6,549.2 1829.6,551.2 1829.7,553.2 1829.8,555.2 1830.0,557.2 1830.1,559.2 1830.2,561.2 1830.4,563.2 1830.5,565.2 1830.7,567.2 1830.9,569.2 1831.1,571.2 1831.2,572.5 L1832.5,572.5" fill="none" stroke="#4b4b48" stroke-width="1.6" stroke-linejoin="round"/>
<path d="M1832.5,71.2 L1833.3,71.2 L1833.6,73.2 1833.9,75.2 1834.2,77.2 1834.6,79.2 1835.0,81.2 1835.5,83.2 1836.0,85.2 1836.5,87.2 1837.1,89.2 1837.7,91.2 1838.4,93.2 1839.1,95.2 1839.8,97.2 1840.6,99.2 1841.4,101.2 1842.3,103.2 1843.1,105.2 1844.0,107.2 1844.9,109.2 1845.9,111.2 1846.9,113.2 1847.9,115.2 1848.9,117.2 1850.0,119.2 1851.1,121.2 1852.2,123.2 1853.3,125.2 1854.5,127.2 1855.7,129.2 1856.9,131.2 1858.1,133.2 1859.3,135.2 1860.6,137.2 1861.8,139.2 1863.1,141.2 1864.4,143.2 1865.7,145.2 1867.0,147.2 1868.3,149.2 1869.7,151.2 1871.0,153.2 1872.4,155.2 1873.8,157.2 1875.1,159.2 1876.5,161.2 1877.9,163.2 1879.3,165.2 1880.7,167.2 1882.1,169.2 1883.5,171.2 1884.8,173.2 1886.2,175.2 1887.6,177.2 1889.0,179.2 1890.4,181.2 1891.8,183.2 1893.2,185.2 1894.5,187.2 1895.9,189.2 1897.2,191.2 1898.6,193.2 1899.9,195.2 1901.2,197.2 1902.6,199.2 1903.9,201.2 1905.1,203.2 1906.4,205.2 1907.6,207.2 1908.8,209.2 1910.0,211.2 1911.2,213.2 1912.3,215.2 1913.3,217.2 1914.4,219.2 1915.4,221.2 1916.3,223.2 1917.2,225.2 1918.0,227.2 1918.8,229.2 1919.5,231.2 1920.2,233.2 1920.7,235.2 1921.3,237.2 1921.7,239.2 1922.1,241.2 1922.4,243.2 1922.6,245.2 1922.7,247.2 1922.7,249.2 1922.7,251.2 1922.5,253.2 1922.3,255.2 1922.0,257.2 1921.5,259.2 1921.0,261.2 1920.3,263.2 1919.6,265.2 1918.7,267.2 1917.8,269.2 1916.8,271.2 1915.7,273.2 1914.6,275.2 1913.4,277.2 1912.1,279.2 1910.8,281.2 1909.5,283.2 1908.1,285.2 1906.6,287.2 1905.2,289.2 1903.7,291.2 1902.3,293.2 1900.8,295.2 1899.3,297.2 1897.8,299.2 1896.4,301.2 1894.9,303.2 1893.5,305.2 1892.1,307.2 1890.7,309.2 1889.4,311.2 1888.1,313.2 1886.9,315.2 1885.7,317.2 1884.5,319.2 1883.4,321.2 1882.3,323.2 1881.3,325.2 1880.3,327.2 1879.3,329.2 1878.3,331.2 1877.4,333.2 1876.5,335.2 1875.6,337.2 1874.8,339.2 1873.9,341.2 1873.1,343.2 1872.3,345.2 1871.6,347.2 1870.8,349.2 1870.1,351.2 1869.4,353.2 1868.7,355.2 1868.0,357.2 1867.3,359.2 1866.6,361.2 1866.0,363.2 1865.3,365.2 1864.7,367.2 1864.0,369.2 1863.4,371.2 1862.8,373.2 1862.1,375.2 1861.5,377.2 1860.9,379.2 1860.2,381.2 1859.6,383.2 1859.0,385.2 1858.3,387.2 1857.7,389.2 1857.1,391.2 1856.5,393.2 1855.9,395.2 1855.3,397.2 1854.7,399.2 1854.1,401.2 1853.5,403.2 1852.9,405.2 1852.4,407.2 1851.8,409.2 1851.3,411.2 1850.7,413.2 1850.2,415.2 1849.7,417.2 1849.2,419.2 1848.7,421.2 1848.2,423.2 1847.7,425.2 1847.2,427.2 1846.8,429.2 1846.3,431.2 1845.9,433.2 1845.5,435.2 1845.1,437.2 1844.7,439.2 1844.3,441.2 1844.0,443.2 1843.6,445.2 1843.3,447.2 1843.0,449.2 1842.7,451.2 1842.4,453.2 1842.1,455.2 1841.8,457.2 1841.5,459.2 1841.2,461.2 1840.9,463.2 1840.7,465.2 1840.4,467.2 1840.2,469.2 1839.9,471.2 1839.7,473.2 1839.4,475.2 1839.2,477.2 1838.9,479.2 1838.7,481.2 1838.4,483.2 1838.2,485.2 1838.0,487.2 1837.7,489.2 1837.5,491.2 1837.2,493.2 1837.0,495.2 1836.7,497.2 1836.5,499.2 1836.2,501.2 1835.9,503.2 1835.7,505.2 1835.4,507.2 1835.1,509.2 1834.8,511.2 1834.7,512.0 L1832.5,512.0 Z" fill="#e1877f"/>
<path d="M1832.5,71.2 L1833.3,71.2 L1833.6,73.2 1833.9,75.2 1834.2,77.2 1834.6,79.2 1835.0,81.2 1835.5,83.2 1836.0,85.2 1836.5,87.2 1837.1,89.2 1837.7,91.2 1838.4,93.2 1839.1,95.2 1839.8,97.2 1840.6,99.2 1841.4,101.2 1842.3,103.2 1843.1,105.2 1844.0,107.2 1844.9,109.2 1845.9,111.2 1846.9,113.2 1847.9,115.2 1848.9,117.2 1850.0,119.2 1851.1,121.2 1852.2,123.2 1853.3,125.2 1854.5,127.2 1855.7,129.2 1856.9,131.2 1858.1,133.2 1859.3,135.2 1860.6,137.2 1861.8,139.2 1863.1,141.2 1864.4,143.2 1865.7,145.2 1867.0,147.2 1868.3,149.2 1869.7,151.2 1871.0,153.2 1872.4,155.2 1873.8,157.2 1875.1,159.2 1876.5,161.2 1877.9,163.2 1879.3,165.2 1880.7,167.2 1882.1,169.2 1883.5,171.2 1884.8,173.2 1886.2,175.2 1887.6,177.2 1889.0,179.2 1890.4,181.2 1891.8,183.2 1893.2,185.2 1894.5,187.2 1895.9,189.2 1897.2,191.2 1898.6,193.2 1899.9,195.2 1901.2,197.2 1902.6,199.2 1903.9,201.2 1905.1,203.2 1906.4,205.2 1907.6,207.2 1908.8,209.2 1910.0,211.2 1911.2,213.2 1912.3,215.2 1913.3,217.2 1914.4,219.2 1915.4,221.2 1916.3,223.2 1917.2,225.2 1918.0,227.2 1918.8,229.2 1919.5,231.2 1920.2,233.2 1920.7,235.2 1921.3,237.2 1921.7,239.2 1922.1,241.2 1922.4,243.2 1922.6,245.2 1922.7,247.2 1922.7,249.2 1922.7,251.2 1922.5,253.2 1922.3,255.2 1922.0,257.2 1921.5,259.2 1921.0,261.2 1920.3,263.2 1919.6,265.2 1918.7,267.2 1917.8,269.2 1916.8,271.2 1915.7,273.2 1914.6,275.2 1913.4,277.2 1912.1,279.2 1910.8,281.2 1909.5,283.2 1908.1,285.2 1906.6,287.2 1905.2,289.2 1903.7,291.2 1902.3,293.2 1900.8,295.2 1899.3,297.2 1897.8,299.2 1896.4,301.2 1894.9,303.2 1893.5,305.2 1892.1,307.2 1890.7,309.2 1889.4,311.2 1888.1,313.2 1886.9,315.2 1885.7,317.2 1884.5,319.2 1883.4,321.2 1882.3,323.2 1881.3,325.2 1880.3,327.2 1879.3,329.2 1878.3,331.2 1877.4,333.2 1876.5,335.2 1875.6,337.2 1874.8,339.2 1873.9,341.2 1873.1,343.2 1872.3,345.2 1871.6,347.2 1870.8,349.2 1870.1,351.2 1869.4,353.2 1868.7,355.2 1868.0,357.2 1867.3,359.2 1866.6,361.2 1866.0,363.2 1865.3,365.2 1864.7,367.2 1864.0,369.2 1863.4,371.2 1862.8,373.2 1862.1,375.2 1861.5,377.2 1860.9,379.2 1860.2,381.2 1859.6,383.2 1859.0,385.2 1858.3,387.2 1857.7,389.2 1857.1,391.2 1856.5,393.2 1855.9,395.2 1855.3,397.2 1854.7,399.2 1854.1,401.2 1853.5,403.2 1852.9,405.2 1852.4,407.2 1851.8,409.2 1851.3,411.2 1850.7,413.2 1850.2,415.2 1849.7,417.2 1849.2,419.2 1848.7,421.2 1848.2,423.2 1847.7,425.2 1847.2,427.2 1846.8,429.2 1846.3,431.2 1845.9,433.2 1845.5,435.2 1845.1,437.2 1844.7,439.2 1844.3,441.2 1844.0,443.2 1843.6,445.2 1843.3,447.2 1843.0,449.2 1842.7,451.2 1842.4,453.2 1842.1,455.2 1841.8,457.2 1841.5,459.2 1841.2,461.2 1840.9,463.2 1840.7,465.2 1840.4,467.2 1840.2,469.2 1839.9,471.2 1839.7,473.2 1839.4,475.2 1839.2,477.2 1838.9,479.2 1838.7,481.2 1838.4,483.2 1838.2,485.2 1838.0,487.2 1837.7,489.2 1837.5,491.2 1837.2,493.2 1837.0,495.2 1836.7,497.2 1836.5,499.2 1836.2,501.2 1835.9,503.2 1835.7,505.2 1835.4,507.2 1835.1,509.2 1834.8,511.2 1834.7,512.0 L1832.5,512.0" fill="none" stroke="#4b4b48" stroke-width="1.6" stroke-linejoin="round"/>
<line x1="1832.5" y1="71.2" x2="1832.5" y2="572.5" stroke="#56625f" stroke-width="1.7"/>
<g stroke="#525250" stroke-width="2.3"><line x1="1738.5" y1="258.0" x2="1832.5" y2="258.0" stroke-dasharray="5.5 7"/><line x1="1724.3" y1="286.2" x2="1832.5" y2="286.2" stroke-dasharray="11.5 13.5"/><line x1="1746.3" y1="316.2" x2="1832.5" y2="316.2" stroke-dasharray="5.5 7"/><line x1="1832.5" y1="236.2" x2="1920.0" y2="236.2" stroke-dasharray="5.5 7"/><line x1="1832.5" y1="253.0" x2="1921.6" y2="253.0" stroke-dasharray="11.5 13.5"/><line x1="1832.5" y1="308.2" x2="1890.4" y2="308.2" stroke-dasharray="5.5 7"/></g>
<path d="M1417.3,46.0 L1417.3,597.0 L1972.7,597.0" fill="none" stroke="#383838" stroke-width="2.2"/>
<path d="M1417.3,586.0 h6.7 M1417.3,480.5 h6.7 M1417.3,375.0 h6.7 M1417.3,269.4 h6.7 M1417.3,163.9 h6.7 M1417.3,58.4 h6.7 M1555.5,597.0 v-7 M1832.5,597.0 v-7" stroke="#383838" stroke-width="2" fill="none"/>
<text x="1410.0" y="594.8" text-anchor="end" class="tk">0</text>
<text x="1410.0" y="489.3" text-anchor="end" class="tk">20</text>
<text x="1410.0" y="383.8" text-anchor="end" class="tk">40</text>
<text x="1410.0" y="278.2" text-anchor="end" class="tk">60</text>
<text x="1410.0" y="172.7" text-anchor="end" class="tk">80</text>
<text x="1410.0" y="67.2" text-anchor="end" class="tk">100</text>
<text x="1555.5" y="621.5" text-anchor="middle" class="tk">Bacterial infection</text>
<text x="1832.5" y="621.5" text-anchor="middle" class="tk">Virus infection</text>
<text x="1694.0" y="651.0" text-anchor="middle" class="tk">vb</text>
<text transform="translate(1356.7,324.3) rotate(-90)" text-anchor="middle" class="tk">NEUp</text>
<text x="1694.5" y="35.4" text-anchor="middle" class="ti">NEUp, , p-value: <0.01</text>
<line x1="94.5" y1="1192.8" x2="641.0" y2="1192.8" stroke="#e5e5e5" stroke-width="1.3"/>
<line x1="94.5" y1="1116.4" x2="641.0" y2="1116.4" stroke="#e5e5e5" stroke-width="1.3"/>
<line x1="94.5" y1="1039.9" x2="641.0" y2="1039.9" stroke="#e5e5e5" stroke-width="1.3"/>
<line x1="94.5" y1="963.5" x2="641.0" y2="963.5" stroke="#e5e5e5" stroke-width="1.3"/>
<line x1="94.5" y1="887.1" x2="641.0" y2="887.1" stroke="#e5e5e5" stroke-width="1.3"/>
<line x1="94.5" y1="810.7" x2="641.0" y2="810.7" stroke="#e5e5e5" stroke-width="1.3"/>
<line x1="94.5" y1="734.2" x2="641.0" y2="734.2" stroke="#e5e5e5" stroke-width="1.3"/>
<path d="M224.8,1083.0 L224.8,1083.0 L224.1,1085.0 222.3,1087.0 219.7,1089.0 216.4,1091.0 212.8,1093.0 208.9,1095.0 205.2,1097.0 201.6,1099.0 198.3,1101.0 195.1,1103.0 192.1,1105.0 189.0,1107.0 185.9,1109.0 182.6,1111.0 179.2,1113.0 175.5,1115.0 171.4,1117.0 167.0,1119.0 162.2,1121.0 157.2,1123.0 151.9,1125.0 146.3,1127.0 140.6,1129.0 134.7,1131.0 128.7,1133.0 122.7,1135.0 117.1,1137.0 114.1,1139.0 115.1,1141.0 119.5,1143.0 124.9,1145.0 130.0,1147.0 134.5,1149.0 138.6,1151.0 142.5,1153.0 146.1,1155.0 149.7,1157.0 153.3,1159.0 157.1,1161.0 160.9,1163.0 164.9,1165.0 169.1,1167.0 173.3,1169.0 177.7,1171.0 182.2,1173.0 186.8,1175.0 191.4,1177.0 196.0,1179.0 200.4,1181.0 204.7,1183.0 208.8,1185.0 212.5,1187.0 215.9,1189.0 218.8,1191.0 221.3,1193.0 223.2,1195.0 224.5,1197.0 224.8,1199.0 224.8,1201.0 224.7,1201.6 L224.8,1201.6 Z" fill="#b0d2dc"/>
<path d="M224.8,1083.0 L224.8,1083.0 L224.1,1085.0 222.3,1087.0 219.7,1089.0 216.4,1091.0 212.8,1093.0 208.9,1095.0 205.2,1097.0 201.6,1099.0 198.3,1101.0 195.1,1103.0 192.1,1105.0 189.0,1107.0 185.9,1109.0 182.6,1111.0 179.2,1113.0 175.5,1115.0 171.4,1117.0 167.0,1119.0 162.2,1121.0 157.2,1123.0 151.9,1125.0 146.3,1127.0 140.6,1129.0 134.7,1131.0 128.7,1133.0 122.7,1135.0 117.1,1137.0 114.1,1139.0 115.1,1141.0 119.5,1143.0 124.9,1145.0 130.0,1147.0 134.5,1149.0 138.6,1151.0 142.5,1153.0 146.1,1155.0 149.7,1157.0 153.3,1159.0 157.1,1161.0 160.9,1163.0 164.9,1165.0 169.1,1167.0 173.3,1169.0 177.7,1171.0 182.2,1173.0 186.8,1175.0 191.4,1177.0 196.0,1179.0 200.4,1181.0 204.7,1183.0 208.8,1185.0 212.5,1187.0 215.9,1189.0 218.8,1191.0 221.3,1193.0 223.2,1195.0 224.5,1197.0 224.8,1199.0 224.8,1201.0 224.7,1201.6 L224.8,1201.6" fill="none" stroke="#4b4b48" stroke-width="1.6" stroke-linejoin="round"/>
<path d="M224.8,1086.7 L226.7,1086.7 L229.3,1088.7 232.2,1090.7 235.4,1092.7 238.8,1094.7 242.4,1096.7 246.1,1098.7 249.9,1100.7 253.8,1102.7 257.7,1104.7 261.6,1106.7 265.4,1108.7 269.1,1110.7 272.7,1112.7 276.1,1114.7 279.3,1116.7 282.2,1118.7 285.0,1120.7 287.5,1122.7 289.9,1124.7 292.1,1126.7 294.2,1128.7 296.2,1130.7 298.2,1132.7 300.0,1134.7 301.8,1136.7 303.6,1138.7 305.4,1140.7 307.2,1142.7 309.1,1144.7 311.0,1146.7 313.0,1148.7 315.0,1150.7 316.7,1152.7 318.1,1154.7 319.0,1156.7 319.2,1158.7 318.7,1160.7 317.1,1162.7 314.5,1164.7 311.1,1166.7 306.7,1168.7 301.7,1170.7 296.1,1172.7 289.9,1174.7 283.4,1176.7 276.7,1178.7 269.8,1180.7 263.0,1182.7 256.4,1184.7 250.1,1186.7 244.3,1188.7 239.0,1190.7 234.5,1192.7 230.7,1194.7 227.9,1196.7 226.1,1198.7 225.5,1200.4 L224.8,1200.4 Z" fill="#e1877f"/>
<path d="M224.8,1086.7 L226.7,1086.7 L229.3,1088.7 232.2,1090.7 235.4,1092.7 238.8,1094.7 242.4,1096.7 246.1,1098.7 249.9,1100.7 253.8,1102.7 257.7,1104.7 261.6,1106.7 265.4,1108.7 269.1,1110.7 272.7,1112.7 276.1,1114.7 279.3,1116.7 282.2,1118.7 285.0,1120.7 287.5,1122.7 289.9,1124.7 292.1,1126.7 294.2,1128.7 296.2,1130.7 298.2,1132.7 300.0,1134.7 301.8,1136.7 303.6,1138.7 305.4,1140.7 307.2,1142.7 309.1,1144.7 311.0,1146.7 313.0,1148.7 315.0,1150.7 316.7,1152.7 318.1,1154.7 319.0,1156.7 319.2,1158.7 318.7,1160.7 317.1,1162.7 314.5,1164.7 311.1,1166.7 306.7,1168.7 301.7,1170.7 296.1,1172.7 289.9,1174.7 283.4,1176.7 276.7,1178.7 269.8,1180.7 263.0,1182.7 256.4,1184.7 250.1,1186.7 244.3,1188.7 239.0,1190.7 234.5,1192.7 230.7,1194.7 227.9,1196.7 226.1,1198.7 225.5,1200.4 L224.8,1200.4" fill="none" stroke="#4b4b48" stroke-width="1.6" stroke-linejoin="round"/>
<line x1="224.8" y1="1083.0" x2="224.8" y2="1201.6" stroke="#56625f" stroke-width="1.7"/>
<g stroke="#525250" stroke-width="2.3"><line x1="142.4" y1="1128.7" x2="224.8" y2="1128.7" stroke-dasharray="5.5 7"/><line x1="115.3" y1="1139.5" x2="224.8" y2="1139.5" stroke-dasharray="11.5 13.5"/><line x1="150.6" y1="1156.9" x2="224.8" y2="1156.9" stroke-dasharray="5.5 7"/><line x1="224.8" y1="1129.3" x2="293.8" y2="1129.3" stroke-dasharray="5.5 7"/><line x1="224.8" y1="1148.6" x2="311.9" y2="1148.6" stroke-dasharray="11.5 13.5"/><line x1="224.8" y1="1161.2" x2="317.2" y2="1161.2" stroke-dasharray="5.5 7"/></g>
<path d="M502.3,734.5 L502.3,734.5 L501.8,736.5 501.4,738.5 500.9,740.5 500.6,742.5 500.2,744.5 499.9,746.5 499.6,748.5 499.4,750.5 499.1,752.5 498.9,754.5 498.8,756.5 498.7,758.5 498.5,760.5 498.5,762.5 498.4,764.5 498.4,766.5 498.3,768.5 498.3,770.5 498.4,772.5 498.4,774.5 498.4,776.5 498.5,778.5 498.6,780.5 498.7,782.5 498.8,784.5 498.9,786.5 499.0,788.5 499.2,790.5 499.3,792.5 499.5,794.5 499.6,796.5 499.8,798.5 499.9,800.5 500.1,802.5 500.2,804.5 500.4,806.5 500.6,808.5 500.7,810.5 500.9,812.5 501.0,814.5 501.1,816.5 501.3,818.5 501.4,820.5 501.5,822.5 501.6,824.5 501.7,826.5 501.7,828.5 501.8,830.5 501.9,832.5 501.9,834.5 502.0,836.5 502.0,838.5 502.0,840.5 502.0,842.5 502.0,844.5 502.0,846.5 502.0,848.5 502.0,850.5 502.0,852.5 502.0,854.5 501.9,856.5 501.9,858.5 501.9,860.5 501.8,862.5 501.8,864.5 501.7,866.5 501.7,868.5 501.6,870.5 501.6,872.5 501.5,874.5 501.4,876.5 501.4,878.5 501.3,880.5 501.2,882.5 501.2,884.5 501.1,886.5 501.1,888.5 501.0,890.5 500.9,892.5 500.9,894.5 500.8,896.5 500.8,898.5 500.7,900.5 500.6,902.5 500.6,904.5 500.6,906.5 500.5,908.5 500.5,910.5 500.4,912.5 500.4,914.5 500.4,916.5 500.4,918.5 500.4,920.5 500.4,922.5 500.4,924.5 500.4,926.5 500.4,928.5 500.4,930.5 500.5,932.5 500.5,934.5 500.6,936.5 500.6,938.5 500.7,940.5 500.8,942.5 500.8,944.5 500.9,946.5 501.0,948.5 501.1,950.5 501.2,952.5 501.2,954.5 501.3,956.5 501.3,958.5 501.4,960.5 501.4,962.5 501.4,964.5 501.4,966.5 501.4,968.5 501.3,970.5 501.3,972.5 501.2,974.5 501.1,976.5 500.9,978.5 500.7,980.5 500.5,982.5 500.2,984.5 499.9,986.5 499.6,988.5 499.2,990.5 498.8,992.5 498.3,994.5 497.8,996.5 497.2,998.5 496.6,1000.5 495.9,1002.5 495.2,1004.5 494.4,1006.5 493.6,1008.5 492.7,1010.5 491.7,1012.5 490.7,1014.5 489.5,1016.5 488.4,1018.5 487.1,1020.5 485.8,1022.5 484.4,1024.5 482.9,1026.5 481.3,1028.5 479.7,1030.5 478.0,1032.5 476.2,1034.5 474.3,1036.5 472.3,1038.5 470.2,1040.5 468.0,1042.5 465.7,1044.5 463.3,1046.5 460.9,1048.5 458.3,1050.5 455.6,1052.5 452.8,1054.5 450.0,1056.5 447.0,1058.5 444.0,1060.5 440.9,1062.5 437.7,1064.5 434.5,1066.5 431.2,1068.5 427.9,1070.5 424.5,1072.5 421.1,1074.5 417.7,1076.5 414.2,1078.5 410.8,1080.5 407.4,1082.5 404.2,1084.5 401.3,1086.5 398.6,1088.5 396.4,1090.5 394.6,1092.5 393.3,1094.5 392.4,1096.5 391.9,1098.5 391.6,1100.5 391.6,1102.5 391.6,1104.5 391.8,1106.5 391.9,1108.5 392.1,1110.5 392.3,1112.5 392.5,1114.5 392.8,1116.5 393.1,1118.5 393.5,1120.5 393.9,1122.5 394.5,1124.5 395.1,1126.5 395.7,1128.5 396.5,1130.5 397.4,1132.5 398.4,1134.5 399.5,1136.5 400.7,1138.5 402.0,1140.5 403.5,1142.5 405.2,1144.5 406.9,1146.5 408.9,1148.5 411.0,1150.5 413.3,1152.5 415.7,1154.5 418.2,1156.5 420.8,1158.5 423.6,1160.5 426.4,1162.5 429.3,1164.5 432.3,1166.5 435.3,1168.5 438.4,1170.5 441.6,1172.5 444.7,1174.5 447.9,1176.5 451.1,1178.5 454.2,1180.5 457.4,1182.5 460.5,1184.5 463.6,1186.5 466.6,1188.5 469.6,1190.5 472.5,1192.5 475.3,1194.5 478.0,1196.5 480.6,1198.5 483.1,1200.5 485.4,1202.5 487.6,1204.5 489.7,1206.5 491.5,1208.5 493.3,1210.5 494.8,1212.5 496.1,1214.5 497.2,1216.5 498.1,1218.5 498.8,1220.4 L502.3,1220.4 Z" fill="#b0d2dc"/>
<path d="M502.3,734.5 L502.3,734.5 L501.8,736.5 501.4,738.5 500.9,740.5 500.6,742.5 500.2,744.5 499.9,746.5 499.6,748.5 499.4,750.5 499.1,752.5 498.9,754.5 498.8,756.5 498.7,758.5 498.5,760.5 498.5,762.5 498.4,764.5 498.4,766.5 498.3,768.5 498.3,770.5 498.4,772.5 498.4,774.5 498.4,776.5 498.5,778.5 498.6,780.5 498.7,782.5 498.8,784.5 498.9,786.5 499.0,788.5 499.2,790.5 499.3,792.5 499.5,794.5 499.6,796.5 499.8,798.5 499.9,800.5 500.1,802.5 500.2,804.5 500.4,806.5 500.6,808.5 500.7,810.5 500.9,812.5 501.0,814.5 501.1,816.5 501.3,818.5 501.4,820.5 501.5,822.5 501.6,824.5 501.7,826.5 501.7,828.5 501.8,830.5 501.9,832.5 501.9,834.5 502.0,836.5 502.0,838.5 502.0,840.5 502.0,842.5 502.0,844.5 502.0,846.5 502.0,848.5 502.0,850.5 502.0,852.5 502.0,854.5 501.9,856.5 501.9,858.5 501.9,860.5 501.8,862.5 501.8,864.5 501.7,866.5 501.7,868.5 501.6,870.5 501.6,872.5 501.5,874.5 501.4,876.5 501.4,878.5 501.3,880.5 501.2,882.5 501.2,884.5 501.1,886.5 501.1,888.5 501.0,890.5 500.9,892.5 500.9,894.5 500.8,896.5 500.8,898.5 500.7,900.5 500.6,902.5 500.6,904.5 500.6,906.5 500.5,908.5 500.5,910.5 500.4,912.5 500.4,914.5 500.4,916.5 500.4,918.5 500.4,920.5 500.4,922.5 500.4,924.5 500.4,926.5 500.4,928.5 500.4,930.5 500.5,932.5 500.5,934.5 500.6,936.5 500.6,938.5 500.7,940.5 500.8,942.5 500.8,944.5 500.9,946.5 501.0,948.5 501.1,950.5 501.2,952.5 501.2,954.5 501.3,956.5 501.3,958.5 501.4,960.5 501.4,962.5 501.4,964.5 501.4,966.5 501.4,968.5 501.3,970.5 501.3,972.5 501.2,974.5 501.1,976.5 500.9,978.5 500.7,980.5 500.5,982.5 500.2,984.5 499.9,986.5 499.6,988.5 499.2,990.5 498.8,992.5 498.3,994.5 497.8,996.5 497.2,998.5 496.6,1000.5 495.9,1002.5 495.2,1004.5 494.4,1006.5 493.6,1008.5 492.7,1010.5 491.7,1012.5 490.7,1014.5 489.5,1016.5 488.4,1018.5 487.1,1020.5 485.8,1022.5 484.4,1024.5 482.9,1026.5 481.3,1028.5 479.7,1030.5 478.0,1032.5 476.2,1034.5 474.3,1036.5 472.3,1038.5 470.2,1040.5 468.0,1042.5 465.7,1044.5 463.3,1046.5 460.9,1048.5 458.3,1050.5 455.6,1052.5 452.8,1054.5 450.0,1056.5 447.0,1058.5 444.0,1060.5 440.9,1062.5 437.7,1064.5 434.5,1066.5 431.2,1068.5 427.9,1070.5 424.5,1072.5 421.1,1074.5 417.7,1076.5 414.2,1078.5 410.8,1080.5 407.4,1082.5 404.2,1084.5 401.3,1086.5 398.6,1088.5 396.4,1090.5 394.6,1092.5 393.3,1094.5 392.4,1096.5 391.9,1098.5 391.6,1100.5 391.6,1102.5 391.6,1104.5 391.8,1106.5 391.9,1108.5 392.1,1110.5 392.3,1112.5 392.5,1114.5 392.8,1116.5 393.1,1118.5 393.5,1120.5 393.9,1122.5 394.5,1124.5 395.1,1126.5 395.7,1128.5 396.5,1130.5 397.4,1132.5 398.4,1134.5 399.5,1136.5 400.7,1138.5 402.0,1140.5 403.5,1142.5 405.2,1144.5 406.9,1146.5 408.9,1148.5 411.0,1150.5 413.3,1152.5 415.7,1154.5 418.2,1156.5 420.8,1158.5 423.6,1160.5 426.4,1162.5 429.3,1164.5 432.3,1166.5 435.3,1168.5 438.4,1170.5 441.6,1172.5 444.7,1174.5 447.9,1176.5 451.1,1178.5 454.2,1180.5 457.4,1182.5 460.5,1184.5 463.6,1186.5 466.6,1188.5 469.6,1190.5 472.5,1192.5 475.3,1194.5 478.0,1196.5 480.6,1198.5 483.1,1200.5 485.4,1202.5 487.6,1204.5 489.7,1206.5 491.5,1208.5 493.3,1210.5 494.8,1212.5 496.1,1214.5 497.2,1216.5 498.1,1218.5 498.8,1220.4 L502.3,1220.4" fill="none" stroke="#4b4b48" stroke-width="1.6" stroke-linejoin="round"/>
<path d="M502.3,887.4 L502.8,887.4 L503.1,889.4 503.4,891.4 503.7,893.4 504.1,895.4 504.5,897.4 504.9,899.4 505.3,901.4 505.7,903.4 506.1,905.4 506.5,907.4 507.0,909.4 507.4,911.4 507.8,913.4 508.3,915.4 508.7,917.4 509.1,919.4 509.5,921.4 509.9,923.4 510.3,925.4 510.7,927.4 511.0,929.4 511.4,931.4 511.7,933.4 511.9,935.4 512.2,937.4 512.4,939.4 512.6,941.4 512.7,943.4 512.9,945.4 512.9,947.4 513.0,949.4 513.0,951.4 512.9,953.4 512.8,955.4 512.7,957.4 512.5,959.4 512.2,961.4 511.9,963.4 511.6,965.4 511.2,967.4 510.9,969.4 510.5,971.4 510.1,973.4 509.7,975.4 509.3,977.4 509.0,979.4 508.7,981.4 508.4,983.4 508.2,985.4 508.0,987.4 507.9,989.4 507.8,991.4 507.9,993.4 508.0,995.4 508.2,997.4 508.6,999.4 509.0,1001.4 509.6,1003.4 510.3,1005.4 511.1,1007.4 512.0,1009.4 512.9,1011.4 514.0,1013.4 515.2,1015.4 516.4,1017.4 517.7,1019.4 519.1,1021.4 520.6,1023.4 522.1,1025.4 523.7,1027.4 525.3,1029.4 527.0,1031.4 528.8,1033.4 530.6,1035.4 532.4,1037.4 534.2,1039.4 536.1,1041.4 538.0,1043.4 539.9,1045.4 541.8,1047.4 543.8,1049.4 545.7,1051.4 547.7,1053.4 549.6,1055.4 551.5,1057.4 553.5,1059.4 555.4,1061.4 557.2,1063.4 559.1,1065.4 560.9,1067.4 562.7,1069.4 564.4,1071.4 566.1,1073.4 567.8,1075.4 569.4,1077.4 570.9,1079.4 572.4,1081.4 573.8,1083.4 575.1,1085.4 576.5,1087.4 577.7,1089.4 578.9,1091.4 580.1,1093.4 581.2,1095.4 582.3,1097.4 583.3,1099.4 584.3,1101.4 585.3,1103.4 586.2,1105.4 587.1,1107.4 588.0,1109.4 588.8,1111.4 589.7,1113.4 590.5,1115.4 591.2,1117.4 592.0,1119.4 592.7,1121.4 593.4,1123.4 594.1,1125.4 594.7,1127.4 595.3,1129.4 595.8,1131.4 596.3,1133.4 596.7,1135.4 597.0,1137.4 597.2,1139.4 597.3,1141.4 597.3,1143.4 597.2,1145.4 597.0,1147.4 596.7,1149.4 596.2,1151.4 595.5,1153.4 594.8,1155.4 593.8,1157.4 592.7,1159.4 591.4,1161.4 589.9,1163.4 588.2,1165.4 586.4,1167.4 584.4,1169.4 582.2,1171.4 579.9,1173.4 577.5,1175.4 575.0,1177.4 572.4,1179.4 569.7,1181.4 567.0,1183.4 564.2,1185.4 561.3,1187.4 558.4,1189.4 555.4,1191.4 552.5,1193.4 549.5,1195.4 546.5,1197.4 543.6,1199.4 540.7,1201.4 537.8,1203.4 535.0,1205.4 532.3,1207.4 529.6,1209.4 527.0,1211.4 524.6,1213.4 522.2,1215.4 520.0,1217.4 517.9,1219.4 515.9,1221.4 514.1,1223.4 512.5,1225.4 511.0,1227.4 509.8,1229.4 508.7,1231.4 507.9,1233.4 507.3,1235.4 507.2,1235.8 L502.3,1235.8 Z" fill="#e1877f"/>
<path d="M502.3,887.4 L502.8,887.4 L503.1,889.4 503.4,891.4 503.7,893.4 504.1,895.4 504.5,897.4 504.9,899.4 505.3,901.4 505.7,903.4 506.1,905.4 506.5,907.4 507.0,909.4 507.4,911.4 507.8,913.4 508.3,915.4 508.7,917.4 509.1,919.4 509.5,921.4 509.9,923.4 510.3,925.4 510.7,927.4 511.0,929.4 511.4,931.4 511.7,933.4 511.9,935.4 512.2,937.4 512.4,939.4 512.6,941.4 512.7,943.4 512.9,945.4 512.9,947.4 513.0,949.4 513.0,951.4 512.9,953.4 512.8,955.4 512.7,957.4 512.5,959.4 512.2,961.4 511.9,963.4 511.6,965.4 511.2,967.4 510.9,969.4 510.5,971.4 510.1,973.4 509.7,975.4 509.3,977.4 509.0,979.4 508.7,981.4 508.4,983.4 508.2,985.4 508.0,987.4 507.9,989.4 507.8,991.4 507.9,993.4 508.0,995.4 508.2,997.4 508.6,999.4 509.0,1001.4 509.6,1003.4 510.3,1005.4 511.1,1007.4 512.0,1009.4 512.9,1011.4 514.0,1013.4 515.2,1015.4 516.4,1017.4 517.7,1019.4 519.1,1021.4 520.6,1023.4 522.1,1025.4 523.7,1027.4 525.3,1029.4 527.0,1031.4 528.8,1033.4 530.6,1035.4 532.4,1037.4 534.2,1039.4 536.1,1041.4 538.0,1043.4 539.9,1045.4 541.8,1047.4 543.8,1049.4 545.7,1051.4 547.7,1053.4 549.6,1055.4 551.5,1057.4 553.5,1059.4 555.4,1061.4 557.2,1063.4 559.1,1065.4 560.9,1067.4 562.7,1069.4 564.4,1071.4 566.1,1073.4 567.8,1075.4 569.4,1077.4 570.9,1079.4 572.4,1081.4 573.8,1083.4 575.1,1085.4 576.5,1087.4 577.7,1089.4 578.9,1091.4 580.1,1093.4 581.2,1095.4 582.3,1097.4 583.3,1099.4 584.3,1101.4 585.3,1103.4 586.2,1105.4 587.1,1107.4 588.0,1109.4 588.8,1111.4 589.7,1113.4 590.5,1115.4 591.2,1117.4 592.0,1119.4 592.7,1121.4 593.4,1123.4 594.1,1125.4 594.7,1127.4 595.3,1129.4 595.8,1131.4 596.3,1133.4 596.7,1135.4 597.0,1137.4 597.2,1139.4 597.3,1141.4 597.3,1143.4 597.2,1145.4 597.0,1147.4 596.7,1149.4 596.2,1151.4 595.5,1153.4 594.8,1155.4 593.8,1157.4 592.7,1159.4 591.4,1161.4 589.9,1163.4 588.2,1165.4 586.4,1167.4 584.4,1169.4 582.2,1171.4 579.9,1173.4 577.5,1175.4 575.0,1177.4 572.4,1179.4 569.7,1181.4 567.0,1183.4 564.2,1185.4 561.3,1187.4 558.4,1189.4 555.4,1191.4 552.5,1193.4 549.5,1195.4 546.5,1197.4 543.6,1199.4 540.7,1201.4 537.8,1203.4 535.0,1205.4 532.3,1207.4 529.6,1209.4 527.0,1211.4 524.6,1213.4 522.2,1215.4 520.0,1217.4 517.9,1219.4 515.9,1221.4 514.1,1223.4 512.5,1225.4 511.0,1227.4 509.8,1229.4 508.7,1231.4 507.9,1233.4 507.3,1235.4 507.2,1235.8 L502.3,1235.8" fill="none" stroke="#4b4b48" stroke-width="1.6" stroke-linejoin="round"/>
<line x1="502.3" y1="734.5" x2="502.3" y2="1235.8" stroke="#56625f" stroke-width="1.7"/>
<g stroke="#525250" stroke-width="2.3"><line x1="402.7" y1="1086.2" x2="502.3" y2="1086.2" stroke-dasharray="5.5 7"/><line x1="393.3" y1="1112.1" x2="502.3" y2="1112.1" stroke-dasharray="11.5 13.5"/><line x1="404.2" y1="1142.1" x2="502.3" y2="1142.1" stroke-dasharray="5.5 7"/><line x1="502.3" y1="1085.5" x2="574.2" y2="1085.5" stroke-dasharray="5.5 7"/><line x1="502.3" y1="1129.8" x2="594.4" y2="1129.8" stroke-dasharray="11.5 13.5"/><line x1="502.3" y1="1155.8" x2="593.6" y2="1155.8" stroke-dasharray="5.5 7"/></g>
<path d="M86.8,709.6 L86.8,1260.6 L642.2,1260.6" fill="none" stroke="#383838" stroke-width="2.2"/>
<path d="M86.8,1192.8 h6.7 M86.8,1116.4 h6.7 M86.8,1039.9 h6.7 M86.8,963.5 h6.7 M86.8,887.1 h6.7 M86.8,810.7 h6.7 M86.8,734.2 h6.7 M225.0,1260.6 v-7 M502.0,1260.6 v-7" stroke="#383838" stroke-width="2" fill="none"/>
<text x="79.5" y="1201.6" text-anchor="end" class="tk">0.0</text>
<text x="79.5" y="1125.2" text-anchor="end" class="tk">2.5</text>
<text x="79.5" y="1048.7" text-anchor="end" class="tk">5.0</text>
<text x="79.5" y="972.3" text-anchor="end" class="tk">7.5</text>
<text x="79.5" y="895.9" text-anchor="end" class="tk">10.0</text>
<text x="79.5" y="819.5" text-anchor="end" class="tk">12.5</text>
<text x="79.5" y="743.0" text-anchor="end" class="tk">15.0</text>
<text x="225.0" y="1285.1" text-anchor="middle" class="tk">Bacterial infection</text>
<text x="502.0" y="1285.1" text-anchor="middle" class="tk">Virus infection</text>
<text x="363.5" y="1314.6" text-anchor="middle" class="tk">vb</text>
<text transform="translate(18.7,987.9) rotate(-90)" text-anchor="middle" class="tk">LYM</text>
<text x="364.0" y="699.0" text-anchor="middle" class="ti">LYM, , p-value: 0.031</text>
<line x1="760.0" y1="1215.4" x2="1306.5" y2="1215.4" stroke="#e5e5e5" stroke-width="1.3"/>
<line x1="760.0" y1="1114.3" x2="1306.5" y2="1114.3" stroke="#e5e5e5" stroke-width="1.3"/>
<line x1="760.0" y1="1013.2" x2="1306.5" y2="1013.2" stroke="#e5e5e5" stroke-width="1.3"/>
<line x1="760.0" y1="912.1" x2="1306.5" y2="912.1" stroke="#e5e5e5" stroke-width="1.3"/>
<line x1="760.0" y1="811.0" x2="1306.5" y2="811.0" stroke="#e5e5e5" stroke-width="1.3"/>
<line x1="760.0" y1="709.9" x2="1306.5" y2="709.9" stroke="#e5e5e5" stroke-width="1.3"/>
<path d="M889.9,1036.5 L889.9,1036.5 L889.5,1038.5 888.9,1040.5 888.2,1042.5 887.4,1044.5 886.4,1046.5 885.4,1048.5 884.3,1050.5 883.1,1052.5 881.7,1054.5 880.4,1056.5 878.9,1058.5 877.4,1060.5 875.8,1062.5 874.2,1064.5 872.5,1066.5 870.8,1068.5 869.1,1070.5 867.3,1072.5 865.5,1074.5 863.8,1076.5 862.0,1078.5 860.2,1080.5 858.4,1082.5 856.6,1084.5 854.8,1086.5 853.0,1088.5 851.0,1090.5 848.9,1092.5 846.7,1094.5 844.2,1096.5 841.5,1098.5 838.5,1100.5 835.2,1102.5 831.5,1104.5 827.4,1106.5 822.9,1108.5 818.2,1110.5 813.4,1112.5 808.5,1114.5 803.7,1116.5 799.1,1118.5 794.8,1120.5 790.9,1122.5 787.5,1124.5 784.8,1126.5 782.7,1128.5 781.5,1130.5 781.0,1132.5 781.2,1134.5 782.1,1136.5 783.5,1138.5 785.3,1140.5 787.5,1142.5 790.0,1144.5 792.6,1146.5 795.3,1148.5 797.9,1150.5 800.5,1152.5 803.1,1154.5 805.7,1156.5 808.4,1158.5 811.2,1160.5 814.1,1162.5 817.3,1164.5 820.6,1166.5 824.2,1168.5 828.1,1170.5 832.3,1172.5 836.9,1174.5 841.6,1176.5 846.5,1178.5 851.4,1180.5 856.4,1182.5 861.2,1184.5 865.8,1186.5 870.1,1188.5 874.1,1190.5 877.6,1192.5 880.6,1194.5 883.1,1196.5 885.3,1198.5 887.0,1200.5 888.2,1202.5 889.1,1204.5 889.6,1206.5 889.8,1208.5 889.7,1210.0 L889.9,1210.0 Z" fill="#b0d2dc"/>
<path d="M889.9,1036.5 L889.9,1036.5 L889.5,1038.5 888.9,1040.5 888.2,1042.5 887.4,1044.5 886.4,1046.5 885.4,1048.5 884.3,1050.5 883.1,1052.5 881.7,1054.5 880.4,1056.5 878.9,1058.5 877.4,1060.5 875.8,1062.5 874.2,1064.5 872.5,1066.5 870.8,1068.5 869.1,1070.5 867.3,1072.5 865.5,1074.5 863.8,1076.5 862.0,1078.5 860.2,1080.5 858.4,1082.5 856.6,1084.5 854.8,1086.5 853.0,1088.5 851.0,1090.5 848.9,1092.5 846.7,1094.5 844.2,1096.5 841.5,1098.5 838.5,1100.5 835.2,1102.5 831.5,1104.5 827.4,1106.5 822.9,1108.5 818.2,1110.5 813.4,1112.5 808.5,1114.5 803.7,1116.5 799.1,1118.5 794.8,1120.5 790.9,1122.5 787.5,1124.5 784.8,1126.5 782.7,1128.5 781.5,1130.5 781.0,1132.5 781.2,1134.5 782.1,1136.5 783.5,1138.5 785.3,1140.5 787.5,1142.5 790.0,1144.5 792.6,1146.5 795.3,1148.5 797.9,1150.5 800.5,1152.5 803.1,1154.5 805.7,1156.5 808.4,1158.5 811.2,1160.5 814.1,1162.5 817.3,1164.5 820.6,1166.5 824.2,1168.5 828.1,1170.5 832.3,1172.5 836.9,1174.5 841.6,1176.5 846.5,1178.5 851.4,1180.5 856.4,1182.5 861.2,1184.5 865.8,1186.5 870.1,1188.5 874.1,1190.5 877.6,1192.5 880.6,1194.5 883.1,1196.5 885.3,1198.5 887.0,1200.5 888.2,1202.5 889.1,1204.5 889.6,1206.5 889.8,1208.5 889.7,1210.0 L889.9,1210.0" fill="none" stroke="#4b4b48" stroke-width="1.6" stroke-linejoin="round"/>
<path d="M889.9,1048.5 L891.0,1048.5 L892.5,1050.5 894.2,1052.5 895.9,1054.5 897.8,1056.5 899.7,1058.5 901.7,1060.5 903.8,1062.5 905.8,1064.5 907.8,1066.5 909.7,1068.5 911.6,1070.5 913.3,1072.5 915.0,1074.5 916.6,1076.5 918.1,1078.5 919.6,1080.5 921.2,1082.5 922.8,1084.5 924.4,1086.5 926.2,1088.5 928.1,1090.5 930.1,1092.5 932.3,1094.5 934.7,1096.5 937.3,1098.5 940.1,1100.5 942.9,1102.5 945.9,1104.5 949.0,1106.5 952.1,1108.5 955.2,1110.5 958.4,1112.5 961.5,1114.5 964.6,1116.5 967.7,1118.5 970.6,1120.5 973.5,1122.5 976.2,1124.5 978.8,1126.5 981.2,1128.5 983.4,1130.5 985.4,1132.5 987.1,1134.5 988.5,1136.5 989.7,1138.5 990.6,1140.5 991.1,1142.5 991.3,1144.5 991.1,1146.5 990.5,1148.5 989.5,1150.5 988.1,1152.5 986.2,1154.5 983.9,1156.5 981.0,1158.5 977.8,1160.5 974.1,1162.5 970.1,1164.5 965.8,1166.5 961.2,1168.5 956.5,1170.5 951.7,1172.5 946.7,1174.5 941.7,1176.5 936.8,1178.5 931.8,1180.5 927.0,1182.5 922.3,1184.5 917.8,1186.5 913.4,1188.5 909.4,1190.5 905.6,1192.5 902.2,1194.5 899.2,1196.5 896.5,1198.5 894.4,1200.5 892.8,1202.5 891.7,1204.5 891.2,1205.9 L889.9,1205.9 Z" fill="#e1877f"/>
<path d="M889.9,1048.5 L891.0,1048.5 L892.5,1050.5 894.2,1052.5 895.9,1054.5 897.8,1056.5 899.7,1058.5 901.7,1060.5 903.8,1062.5 905.8,1064.5 907.8,1066.5 909.7,1068.5 911.6,1070.5 913.3,1072.5 915.0,1074.5 916.6,1076.5 918.1,1078.5 919.6,1080.5 921.2,1082.5 922.8,1084.5 924.4,1086.5 926.2,1088.5 928.1,1090.5 930.1,1092.5 932.3,1094.5 934.7,1096.5 937.3,1098.5 940.1,1100.5 942.9,1102.5 945.9,1104.5 949.0,1106.5 952.1,1108.5 955.2,1110.5 958.4,1112.5 961.5,1114.5 964.6,1116.5 967.7,1118.5 970.6,1120.5 973.5,1122.5 976.2,1124.5 978.8,1126.5 981.2,1128.5 983.4,1130.5 985.4,1132.5 987.1,1134.5 988.5,1136.5 989.7,1138.5 990.6,1140.5 991.1,1142.5 991.3,1144.5 991.1,1146.5 990.5,1148.5 989.5,1150.5 988.1,1152.5 986.2,1154.5 983.9,1156.5 981.0,1158.5 977.8,1160.5 974.1,1162.5 970.1,1164.5 965.8,1166.5 961.2,1168.5 956.5,1170.5 951.7,1172.5 946.7,1174.5 941.7,1176.5 936.8,1178.5 931.8,1180.5 927.0,1182.5 922.3,1184.5 917.8,1186.5 913.4,1188.5 909.4,1190.5 905.6,1192.5 902.2,1194.5 899.2,1196.5 896.5,1198.5 894.4,1200.5 892.8,1202.5 891.7,1204.5 891.2,1205.9 L889.9,1205.9" fill="none" stroke="#4b4b48" stroke-width="1.6" stroke-linejoin="round"/>
<line x1="889.9" y1="1036.5" x2="889.9" y2="1210.0" stroke="#56625f" stroke-width="1.7"/>
<g stroke="#525250" stroke-width="2.3"><line x1="794.2" y1="1121.4" x2="889.9" y2="1121.4" stroke-dasharray="5.5 7"/><line x1="782.1" y1="1133.1" x2="889.9" y2="1133.1" stroke-dasharray="11.5 13.5"/><line x1="808.5" y1="1157.8" x2="889.9" y2="1157.8" stroke-dasharray="5.5 7"/><line x1="889.9" y1="1120.8" x2="970.1" y2="1120.8" stroke-dasharray="5.5 7"/><line x1="889.9" y1="1137.1" x2="987.9" y2="1137.1" stroke-dasharray="11.5 13.5"/><line x1="889.9" y1="1157.8" x2="981.0" y2="1157.8" stroke-dasharray="5.5 7"/></g>
<path d="M1167.3,734.5 L1167.3,734.5 L1166.9,736.5 1166.5,738.5 1166.1,740.5 1165.8,742.5 1165.5,744.5 1165.2,746.5 1164.9,748.5 1164.7,750.5 1164.5,752.5 1164.3,754.5 1164.2,756.5 1164.1,758.5 1163.9,760.5 1163.8,762.5 1163.8,764.5 1163.7,766.5 1163.7,768.5 1163.7,770.5 1163.7,772.5 1163.7,774.5 1163.7,776.5 1163.7,778.5 1163.8,780.5 1163.8,782.5 1163.9,784.5 1164.0,786.5 1164.0,788.5 1164.1,790.5 1164.2,792.5 1164.3,794.5 1164.4,796.5 1164.5,798.5 1164.6,800.5 1164.8,802.5 1164.9,804.5 1165.0,806.5 1165.1,808.5 1165.2,810.5 1165.3,812.5 1165.4,814.5 1165.4,816.5 1165.5,818.5 1165.6,820.5 1165.6,822.5 1165.7,824.5 1165.7,826.5 1165.8,828.5 1165.8,830.5 1165.8,832.5 1165.8,834.5 1165.7,836.5 1165.7,838.5 1165.6,840.5 1165.5,842.5 1165.4,844.5 1165.3,846.5 1165.2,848.5 1165.0,850.5 1164.8,852.5 1164.6,854.5 1164.4,856.5 1164.1,858.5 1163.8,860.5 1163.5,862.5 1163.1,864.5 1162.7,866.5 1162.3,868.5 1161.9,870.5 1161.4,872.5 1160.9,874.5 1160.4,876.5 1159.8,878.5 1159.3,880.5 1158.7,882.5 1158.1,884.5 1157.4,886.5 1156.8,888.5 1156.1,890.5 1155.5,892.5 1154.8,894.5 1154.1,896.5 1153.3,898.5 1152.6,900.5 1151.9,902.5 1151.1,904.5 1150.4,906.5 1149.6,908.5 1148.9,910.5 1148.1,912.5 1147.4,914.5 1146.6,916.5 1145.8,918.5 1145.1,920.5 1144.3,922.5 1143.6,924.5 1142.8,926.5 1142.1,928.5 1141.4,930.5 1140.6,932.5 1139.9,934.5 1139.2,936.5 1138.5,938.5 1137.9,940.5 1137.2,942.5 1136.5,944.5 1135.8,946.5 1135.1,948.5 1134.4,950.5 1133.7,952.5 1132.9,954.5 1132.1,956.5 1131.3,958.5 1130.4,960.5 1129.5,962.5 1128.5,964.5 1127.4,966.5 1126.3,968.5 1125.1,970.5 1123.8,972.5 1122.4,974.5 1121.0,976.5 1119.4,978.5 1117.7,980.5 1115.9,982.5 1114.1,984.5 1112.0,986.5 1109.9,988.5 1107.6,990.5 1105.2,992.5 1102.7,994.5 1100.0,996.5 1097.2,998.5 1094.3,1000.5 1091.3,1002.5 1088.3,1004.5 1085.3,1006.5 1082.3,1008.5 1079.4,1010.5 1076.5,1012.5 1073.7,1014.5 1071.0,1016.5 1068.5,1018.5 1066.1,1020.5 1064.0,1022.5 1062.0,1024.5 1060.3,1026.5 1058.9,1028.5 1057.8,1030.5 1056.9,1032.5 1056.4,1034.5 1056.1,1036.5 1056.0,1038.5 1056.2,1040.5 1056.7,1042.5 1057.3,1044.5 1058.1,1046.5 1059.2,1048.5 1060.4,1050.5 1061.7,1052.5 1063.2,1054.5 1064.9,1056.5 1066.6,1058.5 1068.5,1060.5 1070.5,1062.5 1072.5,1064.5 1074.6,1066.5 1076.8,1068.5 1079.0,1070.5 1081.2,1072.5 1083.4,1074.5 1085.7,1076.5 1088.0,1078.5 1090.2,1080.5 1092.5,1082.5 1094.7,1084.5 1097.0,1086.5 1099.2,1088.5 1101.4,1090.5 1103.5,1092.5 1105.7,1094.5 1107.7,1096.5 1109.7,1098.5 1111.7,1100.5 1113.6,1102.5 1115.4,1104.5 1117.2,1106.5 1118.9,1108.5 1120.5,1110.5 1122.0,1112.5 1123.5,1114.5 1124.9,1116.5 1126.2,1118.5 1127.5,1120.5 1128.7,1122.5 1129.9,1124.5 1131.0,1126.5 1132.1,1128.5 1133.2,1130.5 1134.2,1132.5 1135.1,1134.5 1136.1,1136.5 1137.0,1138.5 1137.9,1140.5 1138.8,1142.5 1139.7,1144.5 1140.5,1146.5 1141.3,1148.5 1142.2,1150.5 1143.0,1152.5 1143.8,1154.5 1144.7,1156.5 1145.5,1158.5 1146.4,1160.5 1147.2,1162.5 1148.1,1164.5 1149.0,1166.5 1149.9,1168.5 1150.8,1170.5 1151.7,1172.5 1152.7,1174.5 1153.6,1176.5 1154.5,1178.5 1155.4,1180.5 1156.3,1182.5 1157.1,1184.5 1158.0,1186.5 1158.8,1188.5 1159.7,1190.5 1160.5,1192.5 1161.2,1194.5 1162.0,1196.5 1162.7,1198.5 1163.3,1200.5 1164.0,1202.5 1164.6,1204.5 1165.1,1206.5 1165.6,1208.5 1166.0,1210.5 1166.4,1212.5 1166.8,1214.5 1167.1,1216.5 1167.3,1218.5 1167.3,1220.5 1167.3,1222.5 1167.3,1224.5 1167.3,1226.5 1167.3,1228.5 1167.1,1230.5 1167.0,1231.6 L1167.3,1231.6 Z" fill="#b0d2dc"/>
<path d="M1167.3,734.5 L1167.3,734.5 L1166.9,736.5 1166.5,738.5 1166.1,740.5 1165.8,742.5 1165.5,744.5 1165.2,746.5 1164.9,748.5 1164.7,750.5 1164.5,752.5 1164.3,754.5 1164.2,756.5 1164.1,758.5 1163.9,760.5 1163.8,762.5 1163.8,764.5 1163.7,766.5 1163.7,768.5 1163.7,770.5 1163.7,772.5 1163.7,774.5 1163.7,776.5 1163.7,778.5 1163.8,780.5 1163.8,782.5 1163.9,784.5 1164.0,786.5 1164.0,788.5 1164.1,790.5 1164.2,792.5 1164.3,794.5 1164.4,796.5 1164.5,798.5 1164.6,800.5 1164.8,802.5 1164.9,804.5 1165.0,806.5 1165.1,808.5 1165.2,810.5 1165.3,812.5 1165.4,814.5 1165.4,816.5 1165.5,818.5 1165.6,820.5 1165.6,822.5 1165.7,824.5 1165.7,826.5 1165.8,828.5 1165.8,830.5 1165.8,832.5 1165.8,834.5 1165.7,836.5 1165.7,838.5 1165.6,840.5 1165.5,842.5 1165.4,844.5 1165.3,846.5 1165.2,848.5 1165.0,850.5 1164.8,852.5 1164.6,854.5 1164.4,856.5 1164.1,858.5 1163.8,860.5 1163.5,862.5 1163.1,864.5 1162.7,866.5 1162.3,868.5 1161.9,870.5 1161.4,872.5 1160.9,874.5 1160.4,876.5 1159.8,878.5 1159.3,880.5 1158.7,882.5 1158.1,884.5 1157.4,886.5 1156.8,888.5 1156.1,890.5 1155.5,892.5 1154.8,894.5 1154.1,896.5 1153.3,898.5 1152.6,900.5 1151.9,902.5 1151.1,904.5 1150.4,906.5 1149.6,908.5 1148.9,910.5 1148.1,912.5 1147.4,914.5 1146.6,916.5 1145.8,918.5 1145.1,920.5 1144.3,922.5 1143.6,924.5 1142.8,926.5 1142.1,928.5 1141.4,930.5 1140.6,932.5 1139.9,934.5 1139.2,936.5 1138.5,938.5 1137.9,940.5 1137.2,942.5 1136.5,944.5 1135.8,946.5 1135.1,948.5 1134.4,950.5 1133.7,952.5 1132.9,954.5 1132.1,956.5 1131.3,958.5 1130.4,960.5 1129.5,962.5 1128.5,964.5 1127.4,966.5 1126.3,968.5 1125.1,970.5 1123.8,972.5 1122.4,974.5 1121.0,976.5 1119.4,978.5 1117.7,980.5 1115.9,982.5 1114.1,984.5 1112.0,986.5 1109.9,988.5 1107.6,990.5 1105.2,992.5 1102.7,994.5 1100.0,996.5 1097.2,998.5 1094.3,1000.5 1091.3,1002.5 1088.3,1004.5 1085.3,1006.5 1082.3,1008.5 1079.4,1010.5 1076.5,1012.5 1073.7,1014.5 1071.0,1016.5 1068.5,1018.5 1066.1,1020.5 1064.0,1022.5 1062.0,1024.5 1060.3,1026.5 1058.9,1028.5 1057.8,1030.5 1056.9,1032.5 1056.4,1034.5 1056.1,1036.5 1056.0,1038.5 1056.2,1040.5 1056.7,1042.5 1057.3,1044.5 1058.1,1046.5 1059.2,1048.5 1060.4,1050.5 1061.7,1052.5 1063.2,1054.5 1064.9,1056.5 1066.6,1058.5 1068.5,1060.5 1070.5,1062.5 1072.5,1064.5 1074.6,1066.5 1076.8,1068.5 1079.0,1070.5 1081.2,1072.5 1083.4,1074.5 1085.7,1076.5 1088.0,1078.5 1090.2,1080.5 1092.5,1082.5 1094.7,1084.5 1097.0,1086.5 1099.2,1088.5 1101.4,1090.5 1103.5,1092.5 1105.7,1094.5 1107.7,1096.5 1109.7,1098.5 1111.7,1100.5 1113.6,1102.5 1115.4,1104.5 1117.2,1106.5 1118.9,1108.5 1120.5,1110.5 1122.0,1112.5 1123.5,1114.5 1124.9,1116.5 1126.2,1118.5 1127.5,1120.5 1128.7,1122.5 1129.9,1124.5 1131.0,1126.5 1132.1,1128.5 1133.2,1130.5 1134.2,1132.5 1135.1,1134.5 1136.1,1136.5 1137.0,1138.5 1137.9,1140.5 1138.8,1142.5 1139.7,1144.5 1140.5,1146.5 1141.3,1148.5 1142.2,1150.5 1143.0,1152.5 1143.8,1154.5 1144.7,1156.5 1145.5,1158.5 1146.4,1160.5 1147.2,1162.5 1148.1,1164.5 1149.0,1166.5 1149.9,1168.5 1150.8,1170.5 1151.7,1172.5 1152.7,1174.5 1153.6,1176.5 1154.5,1178.5 1155.4,1180.5 1156.3,1182.5 1157.1,1184.5 1158.0,1186.5 1158.8,1188.5 1159.7,1190.5 1160.5,1192.5 1161.2,1194.5 1162.0,1196.5 1162.7,1198.5 1163.3,1200.5 1164.0,1202.5 1164.6,1204.5 1165.1,1206.5 1165.6,1208.5 1166.0,1210.5 1166.4,1212.5 1166.8,1214.5 1167.1,1216.5 1167.3,1218.5 1167.3,1220.5 1167.3,1222.5 1167.3,1224.5 1167.3,1226.5 1167.3,1228.5 1167.1,1230.5 1167.0,1231.6 L1167.3,1231.6" fill="none" stroke="#4b4b48" stroke-width="1.6" stroke-linejoin="round"/>
<path d="M1167.3,814.0 L1167.5,814.0 L1167.9,816.0 1168.3,818.0 1168.8,820.0 1169.2,822.0 1169.5,824.0 1169.9,826.0 1170.3,828.0 1170.6,830.0 1171.0,832.0 1171.3,834.0 1171.6,836.0 1171.9,838.0 1172.2,840.0 1172.5,842.0 1172.8,844.0 1173.1,846.0 1173.4,848.0 1173.7,850.0 1174.0,852.0 1174.3,854.0 1174.5,856.0 1174.8,858.0 1175.1,860.0 1175.3,862.0 1175.6,864.0 1175.9,866.0 1176.1,868.0 1176.4,870.0 1176.7,872.0 1176.9,874.0 1177.2,876.0 1177.5,878.0 1177.8,880.0 1178.1,882.0 1178.4,884.0 1178.7,886.0 1179.0,888.0 1179.3,890.0 1179.6,892.0 1179.9,894.0 1180.3,896.0 1180.6,898.0 1181.0,900.0 1181.4,902.0 1181.7,904.0 1182.1,906.0 1182.5,908.0 1183.0,910.0 1183.4,912.0 1183.8,914.0 1184.3,916.0 1184.8,918.0 1185.3,920.0 1185.8,922.0 1186.3,924.0 1186.9,926.0 1187.4,928.0 1188.0,930.0 1188.6,932.0 1189.2,934.0 1189.9,936.0 1190.5,938.0 1191.2,940.0 1191.9,942.0 1192.7,944.0 1193.4,946.0 1194.2,948.0 1195.0,950.0 1195.8,952.0 1196.6,954.0 1197.4,956.0 1198.3,958.0 1199.1,960.0 1200.0,962.0 1200.9,964.0 1201.8,966.0 1202.8,968.0 1203.7,970.0 1204.7,972.0 1205.6,974.0 1206.6,976.0 1207.6,978.0 1208.6,980.0 1209.6,982.0 1210.7,984.0 1211.7,986.0 1212.7,988.0 1213.8,990.0 1214.8,992.0 1215.9,994.0 1217.0,996.0 1218.1,998.0 1219.1,1000.0 1220.2,1002.0 1221.3,1004.0 1222.4,1006.0 1223.5,1008.0 1224.6,1010.0 1225.7,1012.0 1226.8,1014.0 1228.0,1016.0 1229.1,1018.0 1230.2,1020.0 1231.3,1022.0 1232.4,1024.0 1233.5,1026.0 1234.6,1028.0 1235.7,1030.0 1236.8,1032.0 1237.9,1034.0 1239.0,1036.0 1240.1,1038.0 1241.2,1040.0 1242.3,1042.0 1243.4,1044.0 1244.4,1046.0 1245.5,1048.0 1246.5,1050.0 1247.6,1052.0 1248.6,1054.0 1249.6,1056.0 1250.6,1058.0 1251.5,1060.0 1252.4,1062.0 1253.3,1064.0 1254.1,1066.0 1254.8,1068.0 1255.5,1070.0 1256.0,1072.0 1256.5,1074.0 1256.9,1076.0 1257.3,1078.0 1257.5,1080.0 1257.5,1082.0 1257.5,1084.0 1257.4,1086.0 1257.1,1088.0 1256.7,1090.0 1256.2,1092.0 1255.5,1094.0 1254.8,1096.0 1253.9,1098.0 1253.0,1100.0 1252.0,1102.0 1250.8,1104.0 1249.6,1106.0 1248.4,1108.0 1247.0,1110.0 1245.6,1112.0 1244.1,1114.0 1242.5,1116.0 1240.9,1118.0 1239.2,1120.0 1237.5,1122.0 1235.8,1124.0 1234.0,1126.0 1232.2,1128.0 1230.3,1130.0 1228.4,1132.0 1226.5,1134.0 1224.6,1136.0 1222.7,1138.0 1220.8,1140.0 1218.9,1142.0 1216.9,1144.0 1215.0,1146.0 1213.1,1148.0 1211.1,1150.0 1209.2,1152.0 1207.3,1154.0 1205.4,1156.0 1203.6,1158.0 1201.7,1160.0 1199.9,1162.0 1198.1,1164.0 1196.4,1166.0 1194.6,1168.0 1193.0,1170.0 1191.3,1172.0 1189.7,1174.0 1188.2,1176.0 1186.7,1178.0 1185.2,1180.0 1183.8,1182.0 1182.5,1184.0 1181.2,1186.0 1180.0,1188.0 1178.9,1190.0 1177.8,1192.0 1176.8,1194.0 1175.9,1196.0 1175.0,1198.0 1174.2,1200.0 1173.5,1202.0 1172.8,1204.0 1172.2,1206.0 1171.6,1208.0 1171.1,1210.0 1170.7,1212.0 1170.3,1214.0 1169.9,1216.0 1169.6,1218.0 1169.3,1220.0 1169.1,1222.0 1168.9,1224.0 1168.8,1226.0 1168.7,1228.0 1168.6,1230.0 1168.6,1232.0 1168.5,1234.0 1168.6,1235.8 L1167.3,1235.8 Z" fill="#e1877f"/>
<path d="M1167.3,814.0 L1167.5,814.0 L1167.9,816.0 1168.3,818.0 1168.8,820.0 1169.2,822.0 1169.5,824.0 1169.9,826.0 1170.3,828.0 1170.6,830.0 1171.0,832.0 1171.3,834.0 1171.6,836.0 1171.9,838.0 1172.2,840.0 1172.5,842.0 1172.8,844.0 1173.1,846.0 1173.4,848.0 1173.7,850.0 1174.0,852.0 1174.3,854.0 1174.5,856.0 1174.8,858.0 1175.1,860.0 1175.3,862.0 1175.6,864.0 1175.9,866.0 1176.1,868.0 1176.4,870.0 1176.7,872.0 1176.9,874.0 1177.2,876.0 1177.5,878.0 1177.8,880.0 1178.1,882.0 1178.4,884.0 1178.7,886.0 1179.0,888.0 1179.3,890.0 1179.6,892.0 1179.9,894.0 1180.3,896.0 1180.6,898.0 1181.0,900.0 1181.4,902.0 1181.7,904.0 1182.1,906.0 1182.5,908.0 1183.0,910.0 1183.4,912.0 1183.8,914.0 1184.3,916.0 1184.8,918.0 1185.3,920.0 1185.8,922.0 1186.3,924.0 1186.9,926.0 1187.4,928.0 1188.0,930.0 1188.6,932.0 1189.2,934.0 1189.9,936.0 1190.5,938.0 1191.2,940.0 1191.9,942.0 1192.7,944.0 1193.4,946.0 1194.2,948.0 1195.0,950.0 1195.8,952.0 1196.6,954.0 1197.4,956.0 1198.3,958.0 1199.1,960.0 1200.0,962.0 1200.9,964.0 1201.8,966.0 1202.8,968.0 1203.7,970.0 1204.7,972.0 1205.6,974.0 1206.6,976.0 1207.6,978.0 1208.6,980.0 1209.6,982.0 1210.7,984.0 1211.7,986.0 1212.7,988.0 1213.8,990.0 1214.8,992.0 1215.9,994.0 1217.0,996.0 1218.1,998.0 1219.1,1000.0 1220.2,1002.0 1221.3,1004.0 1222.4,1006.0 1223.5,1008.0 1224.6,1010.0 1225.7,1012.0 1226.8,1014.0 1228.0,1016.0 1229.1,1018.0 1230.2,1020.0 1231.3,1022.0 1232.4,1024.0 1233.5,1026.0 1234.6,1028.0 1235.7,1030.0 1236.8,1032.0 1237.9,1034.0 1239.0,1036.0 1240.1,1038.0 1241.2,1040.0 1242.3,1042.0 1243.4,1044.0 1244.4,1046.0 1245.5,1048.0 1246.5,1050.0 1247.6,1052.0 1248.6,1054.0 1249.6,1056.0 1250.6,1058.0 1251.5,1060.0 1252.4,1062.0 1253.3,1064.0 1254.1,1066.0 1254.8,1068.0 1255.5,1070.0 1256.0,1072.0 1256.5,1074.0 1256.9,1076.0 1257.3,1078.0 1257.5,1080.0 1257.5,1082.0 1257.5,1084.0 1257.4,1086.0 1257.1,1088.0 1256.7,1090.0 1256.2,1092.0 1255.5,1094.0 1254.8,1096.0 1253.9,1098.0 1253.0,1100.0 1252.0,1102.0 1250.8,1104.0 1249.6,1106.0 1248.4,1108.0 1247.0,1110.0 1245.6,1112.0 1244.1,1114.0 1242.5,1116.0 1240.9,1118.0 1239.2,1120.0 1237.5,1122.0 1235.8,1124.0 1234.0,1126.0 1232.2,1128.0 1230.3,1130.0 1228.4,1132.0 1226.5,1134.0 1224.6,1136.0 1222.7,1138.0 1220.8,1140.0 1218.9,1142.0 1216.9,1144.0 1215.0,1146.0 1213.1,1148.0 1211.1,1150.0 1209.2,1152.0 1207.3,1154.0 1205.4,1156.0 1203.6,1158.0 1201.7,1160.0 1199.9,1162.0 1198.1,1164.0 1196.4,1166.0 1194.6,1168.0 1193.0,1170.0 1191.3,1172.0 1189.7,1174.0 1188.2,1176.0 1186.7,1178.0 1185.2,1180.0 1183.8,1182.0 1182.5,1184.0 1181.2,1186.0 1180.0,1188.0 1178.9,1190.0 1177.8,1192.0 1176.8,1194.0 1175.9,1196.0 1175.0,1198.0 1174.2,1200.0 1173.5,1202.0 1172.8,1204.0 1172.2,1206.0 1171.6,1208.0 1171.1,1210.0 1170.7,1212.0 1170.3,1214.0 1169.9,1216.0 1169.6,1218.0 1169.3,1220.0 1169.1,1222.0 1168.9,1224.0 1168.8,1226.0 1168.7,1228.0 1168.6,1230.0 1168.6,1232.0 1168.5,1234.0 1168.6,1235.8 L1167.3,1235.8" fill="none" stroke="#4b4b48" stroke-width="1.6" stroke-linejoin="round"/>
<line x1="1167.3" y1="734.5" x2="1167.3" y2="1235.8" stroke="#56625f" stroke-width="1.7"/>
<g stroke="#525250" stroke-width="2.3"><line x1="1074.4" y1="1014.7" x2="1167.3" y2="1014.7" stroke-dasharray="5.5 7"/><line x1="1057.4" y1="1041.1" x2="1167.3" y2="1041.1" stroke-dasharray="11.5 13.5"/><line x1="1076.0" y1="1066.9" x2="1167.3" y2="1066.9" stroke-dasharray="5.5 7"/><line x1="1167.3" y1="1023.0" x2="1230.8" y2="1023.0" stroke-dasharray="5.5 7"/><line x1="1167.3" y1="1067.8" x2="1253.7" y2="1067.8" stroke-dasharray="11.5 13.5"/><line x1="1167.3" y1="1104.1" x2="1249.8" y2="1104.1" stroke-dasharray="5.5 7"/></g>
<path d="M752.3,709.6 L752.3,1260.6 L1307.7,1260.6" fill="none" stroke="#383838" stroke-width="2.2"/>
<path d="M752.3,1215.4 h6.7 M752.3,1114.3 h6.7 M752.3,1013.2 h6.7 M752.3,912.1 h6.7 M752.3,811.0 h6.7 M752.3,709.9 h6.7 M890.5,1260.6 v-7 M1167.5,1260.6 v-7" stroke="#383838" stroke-width="2" fill="none"/>
<text x="745.0" y="1224.2" text-anchor="end" class="tk">0</text>
<text x="745.0" y="1123.1" text-anchor="end" class="tk">20</text>
<text x="745.0" y="1022.0" text-anchor="end" class="tk">40</text>
<text x="745.0" y="920.9" text-anchor="end" class="tk">60</text>
<text x="745.0" y="819.8" text-anchor="end" class="tk">80</text>
<text x="745.0" y="718.7" text-anchor="end" class="tk">100</text>
<text x="890.5" y="1285.1" text-anchor="middle" class="tk">Bacterial infection</text>
<text x="1167.5" y="1285.1" text-anchor="middle" class="tk">Virus infection</text>
<text x="1029.0" y="1314.6" text-anchor="middle" class="tk">vb</text>
<text transform="translate(691.2,987.9) rotate(-90)" text-anchor="middle" class="tk">LYMp</text>
<text x="1029.5" y="699.0" text-anchor="middle" class="ti">LYMp, , p-value: <0.01</text>
<line x1="1425.0" y1="760.5" x2="1971.5" y2="760.5" stroke="#e5e5e5" stroke-width="1.3"/>
<line x1="1425.0" y1="868.0" x2="1971.5" y2="868.0" stroke="#e5e5e5" stroke-width="1.3"/>
<line x1="1425.0" y1="975.5" x2="1971.5" y2="975.5" stroke="#e5e5e5" stroke-width="1.3"/>
<line x1="1425.0" y1="1083.0" x2="1971.5" y2="1083.0" stroke="#e5e5e5" stroke-width="1.3"/>
<line x1="1425.0" y1="1190.5" x2="1971.5" y2="1190.5" stroke="#e5e5e5" stroke-width="1.3"/>
<path d="M1555.9,742.0 L1555.9,742.0 L1555.7,744.0 1555.6,746.0 1555.4,748.0 1555.1,750.0 1554.8,752.0 1554.4,754.0 1554.0,756.0 1553.6,758.0 1553.1,760.0 1552.6,762.0 1552.0,764.0 1551.4,766.0 1550.8,768.0 1550.1,770.0 1549.4,772.0 1548.6,774.0 1547.9,776.0 1547.0,778.0 1546.2,780.0 1545.3,782.0 1544.3,784.0 1543.4,786.0 1542.4,788.0 1541.3,790.0 1540.1,792.0 1538.9,794.0 1537.5,796.0 1536.0,798.0 1534.3,800.0 1532.4,802.0 1530.4,804.0 1528.1,806.0 1525.6,808.0 1522.9,810.0 1519.8,812.0 1516.5,814.0 1512.9,816.0 1508.9,818.0 1504.6,820.0 1500.0,822.0 1495.2,824.0 1490.2,826.0 1485.2,828.0 1480.2,830.0 1475.4,832.0 1470.8,834.0 1466.5,836.0 1462.6,838.0 1459.1,840.0 1456.0,842.0 1453.3,844.0 1451.0,846.0 1449.0,848.0 1447.5,850.0 1446.3,852.0 1445.5,854.0 1445.1,856.0 1445.0,858.0 1445.2,860.0 1445.8,862.0 1446.6,864.0 1447.7,866.0 1449.0,868.0 1450.5,870.0 1452.1,872.0 1454.0,874.0 1456.0,876.0 1458.0,878.0 1460.2,880.0 1462.5,882.0 1464.7,884.0 1467.0,886.0 1469.3,888.0 1471.6,890.0 1473.8,892.0 1476.1,894.0 1478.3,896.0 1480.5,898.0 1482.6,900.0 1484.8,902.0 1486.9,904.0 1489.0,906.0 1491.0,908.0 1493.1,910.0 1495.1,912.0 1497.0,914.0 1499.0,916.0 1500.9,918.0 1502.8,920.0 1504.6,922.0 1506.5,924.0 1508.3,926.0 1510.0,928.0 1511.7,930.0 1513.4,932.0 1515.1,934.0 1516.7,936.0 1518.3,938.0 1519.8,940.0 1521.4,942.0 1522.8,944.0 1524.3,946.0 1525.7,948.0 1527.1,950.0 1528.4,952.0 1529.7,954.0 1531.0,956.0 1532.2,958.0 1533.4,960.0 1534.5,962.0 1535.7,964.0 1536.8,966.0 1537.8,968.0 1538.8,970.0 1539.8,972.0 1540.7,974.0 1541.7,976.0 1542.5,978.0 1543.4,980.0 1544.2,982.0 1545.0,984.0 1545.7,986.0 1546.5,988.0 1547.2,990.0 1547.8,992.0 1548.5,994.0 1549.1,996.0 1549.6,998.0 1550.2,1000.0 1550.7,1002.0 1551.2,1004.0 1551.6,1006.0 1552.1,1008.0 1552.5,1010.0 1552.9,1012.0 1553.2,1014.0 1553.6,1016.0 1553.9,1018.0 1554.1,1020.0 1554.4,1022.0 1554.6,1024.0 1554.8,1026.0 1555.0,1028.0 1555.2,1030.0 1555.3,1032.0 1555.5,1034.0 1555.6,1036.0 1555.6,1038.0 1555.7,1040.0 1555.7,1040.0 L1555.9,1040.0 Z" fill="#b0d2dc"/>
<path d="M1555.9,742.0 L1555.9,742.0 L1555.7,744.0 1555.6,746.0 1555.4,748.0 1555.1,750.0 1554.8,752.0 1554.4,754.0 1554.0,756.0 1553.6,758.0 1553.1,760.0 1552.6,762.0 1552.0,764.0 1551.4,766.0 1550.8,768.0 1550.1,770.0 1549.4,772.0 1548.6,774.0 1547.9,776.0 1547.0,778.0 1546.2,780.0 1545.3,782.0 1544.3,784.0 1543.4,786.0 1542.4,788.0 1541.3,790.0 1540.1,792.0 1538.9,794.0 1537.5,796.0 1536.0,798.0 1534.3,800.0 1532.4,802.0 1530.4,804.0 1528.1,806.0 1525.6,808.0 1522.9,810.0 1519.8,812.0 1516.5,814.0 1512.9,816.0 1508.9,818.0 1504.6,820.0 1500.0,822.0 1495.2,824.0 1490.2,826.0 1485.2,828.0 1480.2,830.0 1475.4,832.0 1470.8,834.0 1466.5,836.0 1462.6,838.0 1459.1,840.0 1456.0,842.0 1453.3,844.0 1451.0,846.0 1449.0,848.0 1447.5,850.0 1446.3,852.0 1445.5,854.0 1445.1,856.0 1445.0,858.0 1445.2,860.0 1445.8,862.0 1446.6,864.0 1447.7,866.0 1449.0,868.0 1450.5,870.0 1452.1,872.0 1454.0,874.0 1456.0,876.0 1458.0,878.0 1460.2,880.0 1462.5,882.0 1464.7,884.0 1467.0,886.0 1469.3,888.0 1471.6,890.0 1473.8,892.0 1476.1,894.0 1478.3,896.0 1480.5,898.0 1482.6,900.0 1484.8,902.0 1486.9,904.0 1489.0,906.0 1491.0,908.0 1493.1,910.0 1495.1,912.0 1497.0,914.0 1499.0,916.0 1500.9,918.0 1502.8,920.0 1504.6,922.0 1506.5,924.0 1508.3,926.0 1510.0,928.0 1511.7,930.0 1513.4,932.0 1515.1,934.0 1516.7,936.0 1518.3,938.0 1519.8,940.0 1521.4,942.0 1522.8,944.0 1524.3,946.0 1525.7,948.0 1527.1,950.0 1528.4,952.0 1529.7,954.0 1531.0,956.0 1532.2,958.0 1533.4,960.0 1534.5,962.0 1535.7,964.0 1536.8,966.0 1537.8,968.0 1538.8,970.0 1539.8,972.0 1540.7,974.0 1541.7,976.0 1542.5,978.0 1543.4,980.0 1544.2,982.0 1545.0,984.0 1545.7,986.0 1546.5,988.0 1547.2,990.0 1547.8,992.0 1548.5,994.0 1549.1,996.0 1549.6,998.0 1550.2,1000.0 1550.7,1002.0 1551.2,1004.0 1551.6,1006.0 1552.1,1008.0 1552.5,1010.0 1552.9,1012.0 1553.2,1014.0 1553.6,1016.0 1553.9,1018.0 1554.1,1020.0 1554.4,1022.0 1554.6,1024.0 1554.8,1026.0 1555.0,1028.0 1555.2,1030.0 1555.3,1032.0 1555.5,1034.0 1555.6,1036.0 1555.6,1038.0 1555.7,1040.0 1555.7,1040.0 L1555.9,1040.0" fill="none" stroke="#4b4b48" stroke-width="1.6" stroke-linejoin="round"/>
<path d="M1555.9,748.8 L1556.8,748.8 L1556.9,750.8 1557.1,752.8 1557.3,754.8 1557.6,756.8 1558.0,758.8 1558.5,760.8 1559.0,762.8 1559.6,764.8 1560.2,766.8 1560.9,768.8 1561.7,770.8 1562.5,772.8 1563.4,774.8 1564.4,776.8 1565.4,778.8 1566.5,780.8 1567.6,782.8 1568.8,784.8 1570.0,786.8 1571.3,788.8 1572.7,790.8 1574.1,792.8 1575.5,794.8 1577.1,796.8 1578.6,798.8 1580.2,800.8 1581.9,802.8 1583.6,804.8 1585.4,806.8 1587.2,808.8 1589.0,810.8 1591.0,812.8 1592.9,814.8 1594.9,816.8 1596.9,818.8 1599.0,820.8 1601.2,822.8 1603.3,824.8 1605.5,826.8 1607.8,828.8 1610.1,830.8 1612.4,832.8 1614.7,834.8 1617.0,836.8 1619.3,838.8 1621.6,840.8 1623.8,842.8 1626.0,844.8 1628.1,846.8 1630.1,848.8 1632.1,850.8 1634.0,852.8 1635.7,854.8 1637.4,856.8 1638.9,858.8 1640.2,860.8 1641.4,862.8 1642.5,864.8 1643.4,866.8 1644.1,868.8 1644.7,870.8 1645.1,872.8 1645.3,874.8 1645.4,876.8 1645.3,878.8 1645.0,880.8 1644.6,882.8 1644.0,884.8 1643.3,886.8 1642.4,888.8 1641.3,890.8 1640.1,892.8 1638.6,894.8 1637.1,896.8 1635.4,898.8 1633.5,900.8 1631.6,902.8 1629.5,904.8 1627.4,906.8 1625.2,908.8 1622.9,910.8 1620.6,912.8 1618.2,914.8 1615.9,916.8 1613.5,918.8 1611.1,920.8 1608.7,922.8 1606.3,924.8 1604.0,926.8 1601.7,928.8 1599.5,930.8 1597.4,932.8 1595.3,934.8 1593.4,936.8 1591.5,938.8 1589.8,940.8 1588.1,942.8 1586.6,944.8 1585.1,946.8 1583.7,948.8 1582.4,950.8 1581.2,952.8 1580.0,954.8 1579.0,956.8 1578.0,958.8 1577.1,960.8 1576.2,962.8 1575.4,964.8 1574.7,966.8 1574.1,968.8 1573.5,970.8 1572.9,972.8 1572.4,974.8 1572.0,976.8 1571.5,978.8 1571.2,980.8 1570.8,982.8 1570.5,984.8 1570.2,986.8 1569.9,988.8 1569.6,990.8 1569.4,992.8 1569.1,994.8 1568.9,996.8 1568.6,998.8 1568.3,1000.8 1568.0,1002.8 1567.7,1004.8 1567.3,1006.8 1567.0,1008.8 1566.6,1010.8 1566.2,1012.8 1565.7,1014.8 1565.3,1016.8 1564.8,1018.8 1564.3,1020.8 1563.8,1022.8 1563.3,1024.8 1562.7,1026.8 1562.2,1028.8 1561.6,1030.8 1561.0,1032.8 1560.4,1034.8 1559.8,1036.8 1559.2,1038.8 1558.5,1040.8 1557.9,1042.8 1557.2,1044.8 1556.5,1046.8 1556.5,1047.0 L1555.9,1047.0 Z" fill="#e1877f"/>
<path d="M1555.9,748.8 L1556.8,748.8 L1556.9,750.8 1557.1,752.8 1557.3,754.8 1557.6,756.8 1558.0,758.8 1558.5,760.8 1559.0,762.8 1559.6,764.8 1560.2,766.8 1560.9,768.8 1561.7,770.8 1562.5,772.8 1563.4,774.8 1564.4,776.8 1565.4,778.8 1566.5,780.8 1567.6,782.8 1568.8,784.8 1570.0,786.8 1571.3,788.8 1572.7,790.8 1574.1,792.8 1575.5,794.8 1577.1,796.8 1578.6,798.8 1580.2,800.8 1581.9,802.8 1583.6,804.8 1585.4,806.8 1587.2,808.8 1589.0,810.8 1591.0,812.8 1592.9,814.8 1594.9,816.8 1596.9,818.8 1599.0,820.8 1601.2,822.8 1603.3,824.8 1605.5,826.8 1607.8,828.8 1610.1,830.8 1612.4,832.8 1614.7,834.8 1617.0,836.8 1619.3,838.8 1621.6,840.8 1623.8,842.8 1626.0,844.8 1628.1,846.8 1630.1,848.8 1632.1,850.8 1634.0,852.8 1635.7,854.8 1637.4,856.8 1638.9,858.8 1640.2,860.8 1641.4,862.8 1642.5,864.8 1643.4,866.8 1644.1,868.8 1644.7,870.8 1645.1,872.8 1645.3,874.8 1645.4,876.8 1645.3,878.8 1645.0,880.8 1644.6,882.8 1644.0,884.8 1643.3,886.8 1642.4,888.8 1641.3,890.8 1640.1,892.8 1638.6,894.8 1637.1,896.8 1635.4,898.8 1633.5,900.8 1631.6,902.8 1629.5,904.8 1627.4,906.8 1625.2,908.8 1622.9,910.8 1620.6,912.8 1618.2,914.8 1615.9,916.8 1613.5,918.8 1611.1,920.8 1608.7,922.8 1606.3,924.8 1604.0,926.8 1601.7,928.8 1599.5,930.8 1597.4,932.8 1595.3,934.8 1593.4,936.8 1591.5,938.8 1589.8,940.8 1588.1,942.8 1586.6,944.8 1585.1,946.8 1583.7,948.8 1582.4,950.8 1581.2,952.8 1580.0,954.8 1579.0,956.8 1578.0,958.8 1577.1,960.8 1576.2,962.8 1575.4,964.8 1574.7,966.8 1574.1,968.8 1573.5,970.8 1572.9,972.8 1572.4,974.8 1572.0,976.8 1571.5,978.8 1571.2,980.8 1570.8,982.8 1570.5,984.8 1570.2,986.8 1569.9,988.8 1569.6,990.8 1569.4,992.8 1569.1,994.8 1568.9,996.8 1568.6,998.8 1568.3,1000.8 1568.0,1002.8 1567.7,1004.8 1567.3,1006.8 1567.0,1008.8 1566.6,1010.8 1566.2,1012.8 1565.7,1014.8 1565.3,1016.8 1564.8,1018.8 1564.3,1020.8 1563.8,1022.8 1563.3,1024.8 1562.7,1026.8 1562.2,1028.8 1561.6,1030.8 1561.0,1032.8 1560.4,1034.8 1559.8,1036.8 1559.2,1038.8 1558.5,1040.8 1557.9,1042.8 1557.2,1044.8 1556.5,1046.8 1556.5,1047.0 L1555.9,1047.0" fill="none" stroke="#4b4b48" stroke-width="1.6" stroke-linejoin="round"/>
<line x1="1555.9" y1="742.0" x2="1555.9" y2="1047.0" stroke="#56625f" stroke-width="1.7"/>
<g stroke="#525250" stroke-width="2.3"><line x1="1451.0" y1="847.0" x2="1555.9" y2="847.0" stroke-dasharray="5.5 7"/><line x1="1449.4" y1="867.1" x2="1555.9" y2="867.1" stroke-dasharray="11.5 13.5"/><line x1="1482.7" y1="899.1" x2="1555.9" y2="899.1" stroke-dasharray="5.5 7"/><line x1="1555.9" y1="847.8" x2="1628.2" y2="847.8" stroke-dasharray="5.5 7"/><line x1="1555.9" y1="881.2" x2="1644.0" y2="881.2" stroke-dasharray="11.5 13.5"/><line x1="1555.9" y1="909.7" x2="1623.2" y2="909.7" stroke-dasharray="5.5 7"/></g>
<path d="M1832.9,734.8 L1832.9,734.8 L1832.9,736.8 1832.8,738.8 1832.7,740.8 1832.6,742.8 1832.5,744.8 1832.3,746.8 1832.2,748.8 1831.9,750.8 1831.7,752.8 1831.4,754.8 1831.2,756.8 1830.9,758.8 1830.5,760.8 1830.2,762.8 1829.8,764.8 1829.4,766.8 1829.0,768.8 1828.5,770.8 1828.1,772.8 1827.6,774.8 1827.1,776.8 1826.6,778.8 1826.0,780.8 1825.5,782.8 1824.9,784.8 1824.3,786.8 1823.7,788.8 1823.1,790.8 1822.4,792.8 1821.8,794.8 1821.1,796.8 1820.4,798.8 1819.7,800.8 1819.0,802.8 1818.3,804.8 1817.6,806.8 1816.9,808.8 1816.1,810.8 1815.3,812.8 1814.6,814.8 1813.8,816.8 1813.0,818.8 1812.2,820.8 1811.4,822.8 1810.6,824.8 1809.8,826.8 1808.9,828.8 1808.1,830.8 1807.3,832.8 1806.4,834.8 1805.6,836.8 1804.7,838.8 1803.9,840.8 1803.0,842.8 1802.2,844.8 1801.3,846.8 1800.5,848.8 1799.6,850.8 1798.7,852.8 1797.9,854.8 1797.0,856.8 1796.2,858.8 1795.3,860.8 1794.4,862.8 1793.6,864.8 1792.7,866.8 1791.8,868.8 1790.9,870.8 1790.0,872.8 1789.1,874.8 1788.1,876.8 1787.1,878.8 1786.1,880.8 1785.1,882.8 1784.0,884.8 1782.9,886.8 1781.7,888.8 1780.6,890.8 1779.3,892.8 1778.0,894.8 1776.7,896.8 1775.3,898.8 1773.9,900.8 1772.4,902.8 1770.9,904.8 1769.2,906.8 1767.6,908.8 1765.8,910.8 1764.0,912.8 1762.2,914.8 1760.4,916.8 1758.5,918.8 1756.7,920.8 1754.8,922.8 1753.0,924.8 1751.2,926.8 1749.4,928.8 1747.7,930.8 1746.1,932.8 1744.5,934.8 1743.0,936.8 1741.6,938.8 1740.3,940.8 1739.1,942.8 1738.1,944.8 1737.2,946.8 1736.4,948.8 1735.8,950.8 1735.3,952.8 1735.1,954.8 1735.0,956.8 1735.1,958.8 1735.5,960.8 1736.0,962.8 1736.7,964.8 1737.5,966.8 1738.6,968.8 1739.8,970.8 1741.1,972.8 1742.6,974.8 1744.3,976.8 1746.1,978.8 1748.1,980.8 1750.2,982.8 1752.4,984.8 1754.8,986.8 1757.2,988.8 1759.8,990.8 1762.4,992.8 1765.1,994.8 1767.9,996.8 1770.6,998.8 1773.4,1000.8 1776.2,1002.8 1779.0,1004.8 1781.7,1006.8 1784.4,1008.8 1786.9,1010.8 1789.4,1012.8 1791.8,1014.8 1794.1,1016.8 1796.3,1018.8 1798.4,1020.8 1800.4,1022.8 1802.3,1024.8 1804.1,1026.8 1805.8,1028.8 1807.5,1030.8 1809.0,1032.8 1810.5,1034.8 1811.9,1036.8 1813.3,1038.8 1814.5,1040.8 1815.7,1042.8 1816.8,1044.8 1817.9,1046.8 1818.9,1048.8 1819.8,1050.8 1820.7,1052.8 1821.5,1054.8 1822.3,1056.8 1823.0,1058.8 1823.7,1060.8 1824.3,1062.8 1824.9,1064.8 1825.4,1066.8 1826.0,1068.8 1826.4,1070.8 1826.9,1072.8 1827.3,1074.8 1827.7,1076.8 1828.1,1078.8 1828.4,1080.8 1828.7,1082.8 1829.0,1084.8 1829.3,1086.8 1829.5,1088.8 1829.8,1090.8 1830.0,1092.8 1830.1,1094.8 1830.3,1096.8 1830.5,1098.8 1830.6,1100.8 1830.7,1102.8 1830.8,1104.8 1830.9,1106.8 1830.9,1108.8 1831.0,1110.8 1831.0,1112.8 1831.0,1114.8 1831.0,1116.8 1831.0,1118.8 1831.0,1120.8 1830.9,1122.8 1830.9,1124.8 1830.8,1126.8 1830.8,1128.8 1830.7,1130.8 1830.6,1132.8 1830.5,1134.8 1830.4,1136.8 1830.4,1138.8 1830.2,1140.8 1830.1,1142.8 1830.0,1144.8 1829.9,1146.8 1829.8,1148.8 1829.7,1150.8 1829.6,1152.8 1829.4,1154.8 1829.3,1156.8 1829.2,1158.8 1829.1,1160.8 1829.0,1162.8 1828.9,1164.8 1828.8,1166.8 1828.7,1168.8 1828.6,1170.8 1828.5,1172.8 1828.4,1174.8 1828.3,1176.8 1828.2,1178.8 1828.2,1180.8 1828.1,1182.8 1828.1,1184.8 1828.0,1186.8 1828.0,1188.8 1828.0,1190.8 1828.0,1192.8 1828.0,1194.8 1828.1,1196.8 1828.1,1198.8 1828.2,1200.8 1828.2,1202.8 1828.3,1204.8 1828.4,1206.8 1828.6,1208.8 1828.7,1210.8 1828.9,1212.8 1829.1,1214.8 1829.3,1216.8 1829.5,1218.8 1829.7,1220.8 1830.0,1222.8 1830.3,1224.8 1830.6,1226.8 1831.0,1228.8 1831.3,1230.8 1831.7,1232.8 1832.1,1234.8 1832.5,1236.2 L1832.9,1236.2 Z" fill="#b0d2dc"/>
<path d="M1832.9,734.8 L1832.9,734.8 L1832.9,736.8 1832.8,738.8 1832.7,740.8 1832.6,742.8 1832.5,744.8 1832.3,746.8 1832.2,748.8 1831.9,750.8 1831.7,752.8 1831.4,754.8 1831.2,756.8 1830.9,758.8 1830.5,760.8 1830.2,762.8 1829.8,764.8 1829.4,766.8 1829.0,768.8 1828.5,770.8 1828.1,772.8 1827.6,774.8 1827.1,776.8 1826.6,778.8 1826.0,780.8 1825.5,782.8 1824.9,784.8 1824.3,786.8 1823.7,788.8 1823.1,790.8 1822.4,792.8 1821.8,794.8 1821.1,796.8 1820.4,798.8 1819.7,800.8 1819.0,802.8 1818.3,804.8 1817.6,806.8 1816.9,808.8 1816.1,810.8 1815.3,812.8 1814.6,814.8 1813.8,816.8 1813.0,818.8 1812.2,820.8 1811.4,822.8 1810.6,824.8 1809.8,826.8 1808.9,828.8 1808.1,830.8 1807.3,832.8 1806.4,834.8 1805.6,836.8 1804.7,838.8 1803.9,840.8 1803.0,842.8 1802.2,844.8 1801.3,846.8 1800.5,848.8 1799.6,850.8 1798.7,852.8 1797.9,854.8 1797.0,856.8 1796.2,858.8 1795.3,860.8 1794.4,862.8 1793.6,864.8 1792.7,866.8 1791.8,868.8 1790.9,870.8 1790.0,872.8 1789.1,874.8 1788.1,876.8 1787.1,878.8 1786.1,880.8 1785.1,882.8 1784.0,884.8 1782.9,886.8 1781.7,888.8 1780.6,890.8 1779.3,892.8 1778.0,894.8 1776.7,896.8 1775.3,898.8 1773.9,900.8 1772.4,902.8 1770.9,904.8 1769.2,906.8 1767.6,908.8 1765.8,910.8 1764.0,912.8 1762.2,914.8 1760.4,916.8 1758.5,918.8 1756.7,920.8 1754.8,922.8 1753.0,924.8 1751.2,926.8 1749.4,928.8 1747.7,930.8 1746.1,932.8 1744.5,934.8 1743.0,936.8 1741.6,938.8 1740.3,940.8 1739.1,942.8 1738.1,944.8 1737.2,946.8 1736.4,948.8 1735.8,950.8 1735.3,952.8 1735.1,954.8 1735.0,956.8 1735.1,958.8 1735.5,960.8 1736.0,962.8 1736.7,964.8 1737.5,966.8 1738.6,968.8 1739.8,970.8 1741.1,972.8 1742.6,974.8 1744.3,976.8 1746.1,978.8 1748.1,980.8 1750.2,982.8 1752.4,984.8 1754.8,986.8 1757.2,988.8 1759.8,990.8 1762.4,992.8 1765.1,994.8 1767.9,996.8 1770.6,998.8 1773.4,1000.8 1776.2,1002.8 1779.0,1004.8 1781.7,1006.8 1784.4,1008.8 1786.9,1010.8 1789.4,1012.8 1791.8,1014.8 1794.1,1016.8 1796.3,1018.8 1798.4,1020.8 1800.4,1022.8 1802.3,1024.8 1804.1,1026.8 1805.8,1028.8 1807.5,1030.8 1809.0,1032.8 1810.5,1034.8 1811.9,1036.8 1813.3,1038.8 1814.5,1040.8 1815.7,1042.8 1816.8,1044.8 1817.9,1046.8 1818.9,1048.8 1819.8,1050.8 1820.7,1052.8 1821.5,1054.8 1822.3,1056.8 1823.0,1058.8 1823.7,1060.8 1824.3,1062.8 1824.9,1064.8 1825.4,1066.8 1826.0,1068.8 1826.4,1070.8 1826.9,1072.8 1827.3,1074.8 1827.7,1076.8 1828.1,1078.8 1828.4,1080.8 1828.7,1082.8 1829.0,1084.8 1829.3,1086.8 1829.5,1088.8 1829.8,1090.8 1830.0,1092.8 1830.1,1094.8 1830.3,1096.8 1830.5,1098.8 1830.6,1100.8 1830.7,1102.8 1830.8,1104.8 1830.9,1106.8 1830.9,1108.8 1831.0,1110.8 1831.0,1112.8 1831.0,1114.8 1831.0,1116.8 1831.0,1118.8 1831.0,1120.8 1830.9,1122.8 1830.9,1124.8 1830.8,1126.8 1830.8,1128.8 1830.7,1130.8 1830.6,1132.8 1830.5,1134.8 1830.4,1136.8 1830.4,1138.8 1830.2,1140.8 1830.1,1142.8 1830.0,1144.8 1829.9,1146.8 1829.8,1148.8 1829.7,1150.8 1829.6,1152.8 1829.4,1154.8 1829.3,1156.8 1829.2,1158.8 1829.1,1160.8 1829.0,1162.8 1828.9,1164.8 1828.8,1166.8 1828.7,1168.8 1828.6,1170.8 1828.5,1172.8 1828.4,1174.8 1828.3,1176.8 1828.2,1178.8 1828.2,1180.8 1828.1,1182.8 1828.1,1184.8 1828.0,1186.8 1828.0,1188.8 1828.0,1190.8 1828.0,1192.8 1828.0,1194.8 1828.1,1196.8 1828.1,1198.8 1828.2,1200.8 1828.2,1202.8 1828.3,1204.8 1828.4,1206.8 1828.6,1208.8 1828.7,1210.8 1828.9,1212.8 1829.1,1214.8 1829.3,1216.8 1829.5,1218.8 1829.7,1220.8 1830.0,1222.8 1830.3,1224.8 1830.6,1226.8 1831.0,1228.8 1831.3,1230.8 1831.7,1232.8 1832.1,1234.8 1832.5,1236.2 L1832.9,1236.2" fill="none" stroke="#4b4b48" stroke-width="1.6" stroke-linejoin="round"/>
<path d="M1832.9,766.2 L1833.9,766.2 L1833.8,768.2 1833.8,770.2 1834.0,772.2 1834.3,774.2 1834.7,776.2 1835.2,778.2 1835.8,780.2 1836.4,782.2 1837.2,784.2 1838.0,786.2 1838.8,788.2 1839.7,790.2 1840.6,792.2 1841.5,794.2 1842.4,796.2 1843.4,798.2 1844.3,800.2 1845.2,802.2 1846.1,804.2 1847.0,806.2 1847.8,808.2 1848.5,810.2 1849.2,812.2 1849.9,814.2 1850.5,816.2 1851.1,818.2 1851.7,820.2 1852.3,822.2 1852.9,824.2 1853.5,826.2 1854.1,828.2 1854.7,830.2 1855.4,832.2 1856.1,834.2 1856.8,836.2 1857.7,838.2 1858.6,840.2 1859.5,842.2 1860.6,844.2 1861.7,846.2 1862.9,848.2 1864.3,850.2 1865.7,852.2 1867.3,854.2 1868.9,856.2 1870.6,858.2 1872.4,860.2 1874.3,862.2 1876.2,864.2 1878.2,866.2 1880.2,868.2 1882.4,870.2 1884.5,872.2 1886.7,874.2 1888.9,876.2 1891.1,878.2 1893.4,880.2 1895.7,882.2 1898.0,884.2 1900.3,886.2 1902.6,888.2 1904.9,890.2 1907.2,892.2 1909.4,894.2 1911.7,896.2 1913.9,898.2 1916.1,900.2 1918.2,902.2 1920.3,904.2 1922.4,906.2 1924.4,908.2 1926.3,910.2 1928.2,912.2 1930.0,914.2 1931.7,916.2 1933.3,918.2 1934.8,920.2 1936.3,922.2 1937.6,924.2 1938.8,926.2 1939.9,928.2 1940.9,930.2 1941.7,932.2 1942.4,934.2 1942.8,936.2 1943.0,938.2 1942.9,940.2 1942.5,942.2 1941.8,944.2 1940.7,946.2 1939.3,948.2 1937.6,950.2 1935.6,952.2 1933.3,954.2 1930.7,956.2 1928.0,958.2 1925.2,960.2 1922.2,962.2 1919.2,964.2 1916.1,966.2 1913.1,968.2 1910.0,970.2 1907.0,972.2 1904.0,974.2 1901.0,976.2 1898.0,978.2 1895.1,980.2 1892.2,982.2 1889.4,984.2 1886.6,986.2 1884.0,988.2 1881.3,990.2 1878.8,992.2 1876.4,994.2 1874.0,996.2 1871.8,998.2 1869.7,1000.2 1867.6,1002.2 1865.7,1004.2 1863.9,1006.2 1862.2,1008.2 1860.7,1010.2 1859.2,1012.2 1857.7,1014.2 1856.4,1016.2 1855.2,1018.2 1854.0,1020.2 1852.9,1022.2 1851.9,1024.2 1851.0,1026.2 1850.1,1028.2 1849.3,1030.2 1848.5,1032.2 1847.8,1034.2 1847.1,1036.2 1846.5,1038.2 1845.9,1040.2 1845.3,1042.2 1844.8,1044.2 1844.3,1046.2 1843.8,1048.2 1843.3,1050.2 1842.9,1052.2 1842.4,1054.2 1842.0,1056.2 1841.6,1058.2 1841.1,1060.2 1840.7,1062.2 1840.2,1064.2 1839.8,1066.2 1839.3,1068.2 1838.8,1070.2 1838.3,1072.2 1837.7,1074.2 1837.1,1076.2 1836.5,1078.2 1835.8,1080.2 1835.1,1082.2 1834.3,1084.2 1833.5,1086.0 L1832.9,1086.0 Z" fill="#e1877f"/>
<path d="M1832.9,766.2 L1833.9,766.2 L1833.8,768.2 1833.8,770.2 1834.0,772.2 1834.3,774.2 1834.7,776.2 1835.2,778.2 1835.8,780.2 1836.4,782.2 1837.2,784.2 1838.0,786.2 1838.8,788.2 1839.7,790.2 1840.6,792.2 1841.5,794.2 1842.4,796.2 1843.4,798.2 1844.3,800.2 1845.2,802.2 1846.1,804.2 1847.0,806.2 1847.8,808.2 1848.5,810.2 1849.2,812.2 1849.9,814.2 1850.5,816.2 1851.1,818.2 1851.7,820.2 1852.3,822.2 1852.9,824.2 1853.5,826.2 1854.1,828.2 1854.7,830.2 1855.4,832.2 1856.1,834.2 1856.8,836.2 1857.7,838.2 1858.6,840.2 1859.5,842.2 1860.6,844.2 1861.7,846.2 1862.9,848.2 1864.3,850.2 1865.7,852.2 1867.3,854.2 1868.9,856.2 1870.6,858.2 1872.4,860.2 1874.3,862.2 1876.2,864.2 1878.2,866.2 1880.2,868.2 1882.4,870.2 1884.5,872.2 1886.7,874.2 1888.9,876.2 1891.1,878.2 1893.4,880.2 1895.7,882.2 1898.0,884.2 1900.3,886.2 1902.6,888.2 1904.9,890.2 1907.2,892.2 1909.4,894.2 1911.7,896.2 1913.9,898.2 1916.1,900.2 1918.2,902.2 1920.3,904.2 1922.4,906.2 1924.4,908.2 1926.3,910.2 1928.2,912.2 1930.0,914.2 1931.7,916.2 1933.3,918.2 1934.8,920.2 1936.3,922.2 1937.6,924.2 1938.8,926.2 1939.9,928.2 1940.9,930.2 1941.7,932.2 1942.4,934.2 1942.8,936.2 1943.0,938.2 1942.9,940.2 1942.5,942.2 1941.8,944.2 1940.7,946.2 1939.3,948.2 1937.6,950.2 1935.6,952.2 1933.3,954.2 1930.7,956.2 1928.0,958.2 1925.2,960.2 1922.2,962.2 1919.2,964.2 1916.1,966.2 1913.1,968.2 1910.0,970.2 1907.0,972.2 1904.0,974.2 1901.0,976.2 1898.0,978.2 1895.1,980.2 1892.2,982.2 1889.4,984.2 1886.6,986.2 1884.0,988.2 1881.3,990.2 1878.8,992.2 1876.4,994.2 1874.0,996.2 1871.8,998.2 1869.7,1000.2 1867.6,1002.2 1865.7,1004.2 1863.9,1006.2 1862.2,1008.2 1860.7,1010.2 1859.2,1012.2 1857.7,1014.2 1856.4,1016.2 1855.2,1018.2 1854.0,1020.2 1852.9,1022.2 1851.9,1024.2 1851.0,1026.2 1850.1,1028.2 1849.3,1030.2 1848.5,1032.2 1847.8,1034.2 1847.1,1036.2 1846.5,1038.2 1845.9,1040.2 1845.3,1042.2 1844.8,1044.2 1844.3,1046.2 1843.8,1048.2 1843.3,1050.2 1842.9,1052.2 1842.4,1054.2 1842.0,1056.2 1841.6,1058.2 1841.1,1060.2 1840.7,1062.2 1840.2,1064.2 1839.8,1066.2 1839.3,1068.2 1838.8,1070.2 1838.3,1072.2 1837.7,1074.2 1837.1,1076.2 1836.5,1078.2 1835.8,1080.2 1835.1,1082.2 1834.3,1084.2 1833.5,1086.0 L1832.9,1086.0" fill="none" stroke="#4b4b48" stroke-width="1.6" stroke-linejoin="round"/>
<line x1="1832.9" y1="734.8" x2="1832.9" y2="1236.2" stroke="#56625f" stroke-width="1.7"/>
<g stroke="#525250" stroke-width="2.3"><line x1="1770.4" y1="906.5" x2="1832.9" y2="906.5" stroke-dasharray="5.5 7"/><line x1="1736.1" y1="955.1" x2="1832.9" y2="955.1" stroke-dasharray="11.5 13.5"/><line x1="1744.0" y1="975.2" x2="1832.9" y2="975.2" stroke-dasharray="5.5 7"/><line x1="1832.9" y1="899.0" x2="1913.8" y2="899.0" stroke-dasharray="5.5 7"/><line x1="1832.9" y1="936.4" x2="1941.8" y2="936.4" stroke-dasharray="11.5 13.5"/><line x1="1832.9" y1="949.2" x2="1937.5" y2="949.2" stroke-dasharray="5.5 7"/></g>
<path d="M1417.3,709.6 L1417.3,1260.6 L1972.7,1260.6" fill="none" stroke="#383838" stroke-width="2.2"/>
<path d="M1417.3,760.5 h6.7 M1417.3,868.0 h6.7 M1417.3,975.5 h6.7 M1417.3,1083.0 h6.7 M1417.3,1190.5 h6.7 M1555.5,1260.6 v-7 M1832.5,1260.6 v-7" stroke="#383838" stroke-width="2" fill="none"/>
<text x="1410.0" y="769.3" text-anchor="end" class="tk">0</text>
<text x="1410.0" y="876.8" text-anchor="end" class="tk">−1</text>
<text x="1410.0" y="984.3" text-anchor="end" class="tk">−2</text>
<text x="1410.0" y="1091.8" text-anchor="end" class="tk">−3</text>
<text x="1410.0" y="1199.3" text-anchor="end" class="tk">−4</text>
<text x="1555.5" y="1285.1" text-anchor="middle" class="tk">Bacterial infection</text>
<text x="1832.5" y="1285.1" text-anchor="middle" class="tk">Virus infection</text>
<text x="1694.0" y="1314.6" text-anchor="middle" class="tk">vb</text>
<text transform="translate(1366.0,987.9) rotate(-90)" text-anchor="middle" class="tk">logMLR</text>
<text x="1694.5" y="699.0" text-anchor="middle" class="ti">logMLR, , p-value: <0.01</text>
<line x1="94.5" y1="1868.4" x2="641.0" y2="1868.4" stroke="#e5e5e5" stroke-width="1.3"/>
<line x1="94.5" y1="1775.7" x2="641.0" y2="1775.7" stroke="#e5e5e5" stroke-width="1.3"/>
<line x1="94.5" y1="1683.0" x2="641.0" y2="1683.0" stroke="#e5e5e5" stroke-width="1.3"/>
<line x1="94.5" y1="1590.3" x2="641.0" y2="1590.3" stroke="#e5e5e5" stroke-width="1.3"/>
<line x1="94.5" y1="1497.6" x2="641.0" y2="1497.6" stroke="#e5e5e5" stroke-width="1.3"/>
<line x1="94.5" y1="1404.9" x2="641.0" y2="1404.9" stroke="#e5e5e5" stroke-width="1.3"/>
<path d="M224.9,1398.0 L224.9,1398.0 L224.9,1400.0 224.8,1402.0 224.5,1404.0 224.2,1406.0 223.8,1408.0 223.3,1410.0 222.7,1412.0 222.0,1414.0 221.2,1416.0 220.4,1418.0 219.4,1420.0 218.4,1422.0 217.3,1424.0 216.1,1426.0 214.9,1428.0 213.6,1430.0 212.2,1432.0 210.8,1434.0 209.3,1436.0 207.8,1438.0 206.2,1440.0 204.6,1442.0 202.9,1444.0 201.2,1446.0 199.4,1448.0 197.7,1450.0 195.9,1452.0 194.0,1454.0 192.2,1456.0 190.3,1458.0 188.4,1460.0 186.5,1462.0 184.5,1464.0 182.6,1466.0 180.7,1468.0 178.7,1470.0 176.8,1472.0 174.8,1474.0 172.9,1476.0 171.0,1478.0 169.1,1480.0 167.2,1482.0 165.3,1484.0 163.4,1486.0 161.6,1488.0 159.7,1490.0 157.9,1492.0 156.1,1494.0 154.3,1496.0 152.6,1498.0 150.9,1500.0 149.2,1502.0 147.5,1504.0 145.8,1506.0 144.0,1508.0 142.1,1510.0 140.1,1512.0 137.8,1514.0 135.4,1516.0 132.8,1518.0 130.1,1520.0 127.4,1522.0 124.7,1524.0 122.3,1526.0 120.2,1528.0 118.4,1530.0 117.0,1532.0 116.2,1534.0 115.7,1536.0 115.6,1538.0 115.9,1540.0 116.5,1542.0 117.5,1544.0 118.7,1546.0 120.2,1548.0 121.9,1550.0 123.8,1552.0 125.9,1554.0 128.1,1556.0 130.5,1558.0 132.9,1560.0 135.5,1562.0 138.1,1564.0 140.6,1566.0 143.2,1568.0 145.8,1570.0 148.3,1572.0 150.8,1574.0 153.3,1576.0 155.7,1578.0 158.2,1580.0 160.6,1582.0 163.0,1584.0 165.4,1586.0 167.8,1588.0 170.1,1590.0 172.5,1592.0 174.9,1594.0 177.3,1596.0 179.7,1598.0 182.1,1600.0 184.5,1602.0 186.9,1604.0 189.2,1606.0 191.6,1608.0 193.9,1610.0 196.2,1612.0 198.5,1614.0 200.7,1616.0 202.9,1618.0 205.0,1620.0 207.0,1622.0 208.9,1624.0 210.8,1626.0 212.6,1628.0 214.3,1630.0 215.9,1632.0 217.4,1634.0 218.7,1636.0 220.0,1638.0 221.1,1640.0 222.1,1642.0 222.9,1644.0 223.6,1646.0 224.1,1648.0 224.5,1650.0 224.7,1652.0 224.8,1654.0 224.7,1654.7 L224.9,1654.7 Z" fill="#b0d2dc"/>
<path d="M224.9,1398.0 L224.9,1398.0 L224.9,1400.0 224.8,1402.0 224.5,1404.0 224.2,1406.0 223.8,1408.0 223.3,1410.0 222.7,1412.0 222.0,1414.0 221.2,1416.0 220.4,1418.0 219.4,1420.0 218.4,1422.0 217.3,1424.0 216.1,1426.0 214.9,1428.0 213.6,1430.0 212.2,1432.0 210.8,1434.0 209.3,1436.0 207.8,1438.0 206.2,1440.0 204.6,1442.0 202.9,1444.0 201.2,1446.0 199.4,1448.0 197.7,1450.0 195.9,1452.0 194.0,1454.0 192.2,1456.0 190.3,1458.0 188.4,1460.0 186.5,1462.0 184.5,1464.0 182.6,1466.0 180.7,1468.0 178.7,1470.0 176.8,1472.0 174.8,1474.0 172.9,1476.0 171.0,1478.0 169.1,1480.0 167.2,1482.0 165.3,1484.0 163.4,1486.0 161.6,1488.0 159.7,1490.0 157.9,1492.0 156.1,1494.0 154.3,1496.0 152.6,1498.0 150.9,1500.0 149.2,1502.0 147.5,1504.0 145.8,1506.0 144.0,1508.0 142.1,1510.0 140.1,1512.0 137.8,1514.0 135.4,1516.0 132.8,1518.0 130.1,1520.0 127.4,1522.0 124.7,1524.0 122.3,1526.0 120.2,1528.0 118.4,1530.0 117.0,1532.0 116.2,1534.0 115.7,1536.0 115.6,1538.0 115.9,1540.0 116.5,1542.0 117.5,1544.0 118.7,1546.0 120.2,1548.0 121.9,1550.0 123.8,1552.0 125.9,1554.0 128.1,1556.0 130.5,1558.0 132.9,1560.0 135.5,1562.0 138.1,1564.0 140.6,1566.0 143.2,1568.0 145.8,1570.0 148.3,1572.0 150.8,1574.0 153.3,1576.0 155.7,1578.0 158.2,1580.0 160.6,1582.0 163.0,1584.0 165.4,1586.0 167.8,1588.0 170.1,1590.0 172.5,1592.0 174.9,1594.0 177.3,1596.0 179.7,1598.0 182.1,1600.0 184.5,1602.0 186.9,1604.0 189.2,1606.0 191.6,1608.0 193.9,1610.0 196.2,1612.0 198.5,1614.0 200.7,1616.0 202.9,1618.0 205.0,1620.0 207.0,1622.0 208.9,1624.0 210.8,1626.0 212.6,1628.0 214.3,1630.0 215.9,1632.0 217.4,1634.0 218.7,1636.0 220.0,1638.0 221.1,1640.0 222.1,1642.0 222.9,1644.0 223.6,1646.0 224.1,1648.0 224.5,1650.0 224.7,1652.0 224.8,1654.0 224.7,1654.7 L224.9,1654.7" fill="none" stroke="#4b4b48" stroke-width="1.6" stroke-linejoin="round"/>
<path d="M224.9,1420.5 L227.6,1420.5 L228.5,1422.5 229.5,1424.5 230.8,1426.5 232.2,1428.5 233.7,1430.5 235.4,1432.5 237.2,1434.5 239.2,1436.5 241.3,1438.5 243.4,1440.5 245.7,1442.5 248.0,1444.5 250.4,1446.5 252.9,1448.5 255.4,1450.5 258.0,1452.5 260.6,1454.5 263.2,1456.5 265.8,1458.5 268.4,1460.5 271.1,1462.5 273.7,1464.5 276.2,1466.5 278.8,1468.5 281.2,1470.5 283.7,1472.5 286.0,1474.5 288.3,1476.5 290.5,1478.5 292.6,1480.5 294.5,1482.5 296.4,1484.5 298.2,1486.5 299.9,1488.5 301.5,1490.5 303.1,1492.5 304.6,1494.5 306.0,1496.5 307.5,1498.5 308.8,1500.5 310.2,1502.5 311.5,1504.5 312.7,1506.5 314.0,1508.5 315.2,1510.5 316.3,1512.5 317.5,1514.5 318.6,1516.5 319.6,1518.5 320.6,1520.5 321.4,1522.5 322.2,1524.5 322.9,1526.5 323.5,1528.5 323.9,1530.5 324.2,1532.5 324.4,1534.5 324.3,1536.5 324.2,1538.5 323.8,1540.5 323.2,1542.5 322.5,1544.5 321.6,1546.5 320.5,1548.5 319.2,1550.5 317.8,1552.5 316.3,1554.5 314.6,1556.5 312.8,1558.5 310.8,1560.5 308.8,1562.5 306.7,1564.5 304.4,1566.5 302.1,1568.5 299.8,1570.5 297.3,1572.5 294.8,1574.5 292.3,1576.5 289.7,1578.5 287.1,1580.5 284.4,1582.5 281.8,1584.5 279.1,1586.5 276.5,1588.5 273.8,1590.5 271.2,1592.5 268.6,1594.5 266.1,1596.5 263.6,1598.5 261.2,1600.5 258.8,1602.5 256.5,1604.5 254.3,1606.5 252.1,1608.5 250.0,1610.5 248.0,1612.5 246.1,1614.5 244.2,1616.5 242.4,1618.5 240.7,1620.5 239.1,1622.5 237.5,1624.5 236.1,1626.5 234.7,1628.5 233.4,1630.5 232.2,1632.5 231.1,1634.5 230.1,1636.5 229.2,1638.5 228.4,1640.5 227.6,1642.5 227.0,1644.5 226.5,1646.5 226.1,1648.5 225.8,1650.2 L224.9,1650.2 Z" fill="#e1877f"/>
<path d="M224.9,1420.5 L227.6,1420.5 L228.5,1422.5 229.5,1424.5 230.8,1426.5 232.2,1428.5 233.7,1430.5 235.4,1432.5 237.2,1434.5 239.2,1436.5 241.3,1438.5 243.4,1440.5 245.7,1442.5 248.0,1444.5 250.4,1446.5 252.9,1448.5 255.4,1450.5 258.0,1452.5 260.6,1454.5 263.2,1456.5 265.8,1458.5 268.4,1460.5 271.1,1462.5 273.7,1464.5 276.2,1466.5 278.8,1468.5 281.2,1470.5 283.7,1472.5 286.0,1474.5 288.3,1476.5 290.5,1478.5 292.6,1480.5 294.5,1482.5 296.4,1484.5 298.2,1486.5 299.9,1488.5 301.5,1490.5 303.1,1492.5 304.6,1494.5 306.0,1496.5 307.5,1498.5 308.8,1500.5 310.2,1502.5 311.5,1504.5 312.7,1506.5 314.0,1508.5 315.2,1510.5 316.3,1512.5 317.5,1514.5 318.6,1516.5 319.6,1518.5 320.6,1520.5 321.4,1522.5 322.2,1524.5 322.9,1526.5 323.5,1528.5 323.9,1530.5 324.2,1532.5 324.4,1534.5 324.3,1536.5 324.2,1538.5 323.8,1540.5 323.2,1542.5 322.5,1544.5 321.6,1546.5 320.5,1548.5 319.2,1550.5 317.8,1552.5 316.3,1554.5 314.6,1556.5 312.8,1558.5 310.8,1560.5 308.8,1562.5 306.7,1564.5 304.4,1566.5 302.1,1568.5 299.8,1570.5 297.3,1572.5 294.8,1574.5 292.3,1576.5 289.7,1578.5 287.1,1580.5 284.4,1582.5 281.8,1584.5 279.1,1586.5 276.5,1588.5 273.8,1590.5 271.2,1592.5 268.6,1594.5 266.1,1596.5 263.6,1598.5 261.2,1600.5 258.8,1602.5 256.5,1604.5 254.3,1606.5 252.1,1608.5 250.0,1610.5 248.0,1612.5 246.1,1614.5 244.2,1616.5 242.4,1618.5 240.7,1620.5 239.1,1622.5 237.5,1624.5 236.1,1626.5 234.7,1628.5 233.4,1630.5 232.2,1632.5 231.1,1634.5 230.1,1636.5 229.2,1638.5 228.4,1640.5 227.6,1642.5 227.0,1644.5 226.5,1646.5 226.1,1648.5 225.8,1650.2 L224.9,1650.2" fill="none" stroke="#4b4b48" stroke-width="1.6" stroke-linejoin="round"/>
<line x1="224.9" y1="1398.0" x2="224.9" y2="1654.7" stroke="#56625f" stroke-width="1.7"/>
<g stroke="#525250" stroke-width="2.3"><line x1="151.5" y1="1500.5" x2="224.9" y2="1500.5" stroke-dasharray="5.5 7"/><line x1="116.8" y1="1539.1" x2="224.9" y2="1539.1" stroke-dasharray="11.5 13.5"/><line x1="132.2" y1="1558.6" x2="224.9" y2="1558.6" stroke-dasharray="5.5 7"/><line x1="224.9" y1="1501.3" x2="308.3" y2="1501.3" stroke-dasharray="5.5 7"/><line x1="224.9" y1="1535.8" x2="323.4" y2="1535.8" stroke-dasharray="11.5 13.5"/><line x1="224.9" y1="1556.8" x2="313.3" y2="1556.8" stroke-dasharray="5.5 7"/></g>
<path d="M502.2,1413.0 L502.2,1413.0 L502.2,1415.0 501.9,1417.0 501.6,1419.0 501.3,1421.0 501.0,1423.0 500.7,1425.0 500.4,1427.0 500.1,1429.0 499.9,1431.0 499.6,1433.0 499.3,1435.0 499.1,1437.0 498.8,1439.0 498.5,1441.0 498.3,1443.0 498.0,1445.0 497.8,1447.0 497.5,1449.0 497.2,1451.0 497.0,1453.0 496.7,1455.0 496.4,1457.0 496.1,1459.0 495.9,1461.0 495.6,1463.0 495.3,1465.0 495.0,1467.0 494.7,1469.0 494.4,1471.0 494.1,1473.0 493.8,1475.0 493.5,1477.0 493.2,1479.0 492.8,1481.0 492.5,1483.0 492.1,1485.0 491.8,1487.0 491.4,1489.0 491.0,1491.0 490.7,1493.0 490.3,1495.0 489.8,1497.0 489.4,1499.0 489.0,1501.0 488.5,1503.0 488.1,1505.0 487.6,1507.0 487.1,1509.0 486.6,1511.0 486.1,1513.0 485.6,1515.0 485.0,1517.0 484.5,1519.0 483.9,1521.0 483.3,1523.0 482.7,1525.0 482.1,1527.0 481.4,1529.0 480.7,1531.0 480.1,1533.0 479.3,1535.0 478.6,1537.0 477.9,1539.0 477.1,1541.0 476.3,1543.0 475.5,1545.0 474.7,1547.0 473.8,1549.0 472.9,1551.0 472.0,1553.0 471.1,1555.0 470.1,1557.0 469.0,1559.0 467.9,1561.0 466.7,1563.0 465.4,1565.0 464.0,1567.0 462.6,1569.0 461.0,1571.0 459.3,1573.0 457.5,1575.0 455.5,1577.0 453.4,1579.0 451.2,1581.0 448.8,1583.0 446.2,1585.0 443.5,1587.0 440.6,1589.0 437.5,1591.0 434.4,1593.0 431.1,1595.0 427.9,1597.0 424.6,1599.0 421.3,1601.0 418.0,1603.0 414.8,1605.0 411.8,1607.0 408.8,1609.0 406.1,1611.0 403.5,1613.0 401.1,1615.0 399.0,1617.0 397.1,1619.0 395.5,1621.0 394.2,1623.0 393.1,1625.0 392.3,1627.0 391.7,1629.0 391.4,1631.0 391.4,1633.0 391.7,1635.0 392.2,1637.0 393.1,1639.0 394.2,1641.0 395.6,1643.0 397.3,1645.0 399.3,1647.0 401.5,1649.0 403.9,1651.0 406.4,1653.0 409.1,1655.0 411.9,1657.0 414.8,1659.0 417.7,1661.0 420.7,1663.0 423.6,1665.0 426.5,1667.0 429.3,1669.0 432.0,1671.0 434.6,1673.0 437.1,1675.0 439.5,1677.0 441.8,1679.0 443.9,1681.0 446.0,1683.0 448.0,1685.0 449.9,1687.0 451.7,1689.0 453.4,1691.0 455.0,1693.0 456.6,1695.0 458.1,1697.0 459.5,1699.0 460.8,1701.0 462.1,1703.0 463.4,1705.0 464.6,1707.0 465.7,1709.0 466.8,1711.0 467.9,1713.0 468.9,1715.0 469.9,1717.0 470.8,1719.0 471.7,1721.0 472.6,1723.0 473.5,1725.0 474.4,1727.0 475.3,1729.0 476.1,1731.0 477.0,1733.0 477.8,1735.0 478.7,1737.0 479.5,1739.0 480.4,1741.0 481.2,1743.0 482.1,1745.0 482.9,1747.0 483.8,1749.0 484.6,1751.0 485.5,1753.0 486.3,1755.0 487.1,1757.0 487.9,1759.0 488.6,1761.0 489.4,1763.0 490.1,1765.0 490.8,1767.0 491.5,1769.0 492.1,1771.0 492.7,1773.0 493.3,1775.0 493.9,1777.0 494.4,1779.0 494.9,1781.0 495.3,1783.0 495.8,1785.0 496.2,1787.0 496.5,1789.0 496.8,1791.0 497.2,1793.0 497.4,1795.0 497.7,1797.0 497.9,1799.0 498.1,1801.0 498.3,1803.0 498.5,1805.0 498.6,1807.0 498.7,1809.0 498.8,1811.0 498.9,1813.0 499.0,1815.0 499.0,1817.0 499.1,1819.0 499.1,1821.0 499.1,1823.0 499.1,1825.0 499.1,1827.0 499.1,1829.0 499.1,1831.0 499.1,1833.0 499.0,1835.0 499.0,1837.0 499.0,1839.0 498.9,1841.0 498.9,1843.0 498.9,1845.0 498.8,1847.0 498.8,1849.0 498.7,1851.0 498.7,1853.0 498.7,1855.0 498.7,1857.0 498.7,1859.0 498.7,1861.0 498.7,1863.0 498.7,1865.0 498.8,1867.0 498.8,1869.0 498.9,1871.0 499.0,1873.0 499.1,1875.0 499.2,1877.0 499.3,1879.0 499.4,1881.0 499.6,1883.0 499.8,1885.0 500.0,1887.0 500.3,1889.0 500.5,1891.0 500.8,1893.0 501.2,1895.0 501.5,1897.0 501.7,1898.3 L502.2,1898.3 Z" fill="#b0d2dc"/>
<path d="M502.2,1413.0 L502.2,1413.0 L502.2,1415.0 501.9,1417.0 501.6,1419.0 501.3,1421.0 501.0,1423.0 500.7,1425.0 500.4,1427.0 500.1,1429.0 499.9,1431.0 499.6,1433.0 499.3,1435.0 499.1,1437.0 498.8,1439.0 498.5,1441.0 498.3,1443.0 498.0,1445.0 497.8,1447.0 497.5,1449.0 497.2,1451.0 497.0,1453.0 496.7,1455.0 496.4,1457.0 496.1,1459.0 495.9,1461.0 495.6,1463.0 495.3,1465.0 495.0,1467.0 494.7,1469.0 494.4,1471.0 494.1,1473.0 493.8,1475.0 493.5,1477.0 493.2,1479.0 492.8,1481.0 492.5,1483.0 492.1,1485.0 491.8,1487.0 491.4,1489.0 491.0,1491.0 490.7,1493.0 490.3,1495.0 489.8,1497.0 489.4,1499.0 489.0,1501.0 488.5,1503.0 488.1,1505.0 487.6,1507.0 487.1,1509.0 486.6,1511.0 486.1,1513.0 485.6,1515.0 485.0,1517.0 484.5,1519.0 483.9,1521.0 483.3,1523.0 482.7,1525.0 482.1,1527.0 481.4,1529.0 480.7,1531.0 480.1,1533.0 479.3,1535.0 478.6,1537.0 477.9,1539.0 477.1,1541.0 476.3,1543.0 475.5,1545.0 474.7,1547.0 473.8,1549.0 472.9,1551.0 472.0,1553.0 471.1,1555.0 470.1,1557.0 469.0,1559.0 467.9,1561.0 466.7,1563.0 465.4,1565.0 464.0,1567.0 462.6,1569.0 461.0,1571.0 459.3,1573.0 457.5,1575.0 455.5,1577.0 453.4,1579.0 451.2,1581.0 448.8,1583.0 446.2,1585.0 443.5,1587.0 440.6,1589.0 437.5,1591.0 434.4,1593.0 431.1,1595.0 427.9,1597.0 424.6,1599.0 421.3,1601.0 418.0,1603.0 414.8,1605.0 411.8,1607.0 408.8,1609.0 406.1,1611.0 403.5,1613.0 401.1,1615.0 399.0,1617.0 397.1,1619.0 395.5,1621.0 394.2,1623.0 393.1,1625.0 392.3,1627.0 391.7,1629.0 391.4,1631.0 391.4,1633.0 391.7,1635.0 392.2,1637.0 393.1,1639.0 394.2,1641.0 395.6,1643.0 397.3,1645.0 399.3,1647.0 401.5,1649.0 403.9,1651.0 406.4,1653.0 409.1,1655.0 411.9,1657.0 414.8,1659.0 417.7,1661.0 420.7,1663.0 423.6,1665.0 426.5,1667.0 429.3,1669.0 432.0,1671.0 434.6,1673.0 437.1,1675.0 439.5,1677.0 441.8,1679.0 443.9,1681.0 446.0,1683.0 448.0,1685.0 449.9,1687.0 451.7,1689.0 453.4,1691.0 455.0,1693.0 456.6,1695.0 458.1,1697.0 459.5,1699.0 460.8,1701.0 462.1,1703.0 463.4,1705.0 464.6,1707.0 465.7,1709.0 466.8,1711.0 467.9,1713.0 468.9,1715.0 469.9,1717.0 470.8,1719.0 471.7,1721.0 472.6,1723.0 473.5,1725.0 474.4,1727.0 475.3,1729.0 476.1,1731.0 477.0,1733.0 477.8,1735.0 478.7,1737.0 479.5,1739.0 480.4,1741.0 481.2,1743.0 482.1,1745.0 482.9,1747.0 483.8,1749.0 484.6,1751.0 485.5,1753.0 486.3,1755.0 487.1,1757.0 487.9,1759.0 488.6,1761.0 489.4,1763.0 490.1,1765.0 490.8,1767.0 491.5,1769.0 492.1,1771.0 492.7,1773.0 493.3,1775.0 493.9,1777.0 494.4,1779.0 494.9,1781.0 495.3,1783.0 495.8,1785.0 496.2,1787.0 496.5,1789.0 496.8,1791.0 497.2,1793.0 497.4,1795.0 497.7,1797.0 497.9,1799.0 498.1,1801.0 498.3,1803.0 498.5,1805.0 498.6,1807.0 498.7,1809.0 498.8,1811.0 498.9,1813.0 499.0,1815.0 499.0,1817.0 499.1,1819.0 499.1,1821.0 499.1,1823.0 499.1,1825.0 499.1,1827.0 499.1,1829.0 499.1,1831.0 499.1,1833.0 499.0,1835.0 499.0,1837.0 499.0,1839.0 498.9,1841.0 498.9,1843.0 498.9,1845.0 498.8,1847.0 498.8,1849.0 498.7,1851.0 498.7,1853.0 498.7,1855.0 498.7,1857.0 498.7,1859.0 498.7,1861.0 498.7,1863.0 498.7,1865.0 498.8,1867.0 498.8,1869.0 498.9,1871.0 499.0,1873.0 499.1,1875.0 499.2,1877.0 499.3,1879.0 499.4,1881.0 499.6,1883.0 499.8,1885.0 500.0,1887.0 500.3,1889.0 500.5,1891.0 500.8,1893.0 501.2,1895.0 501.5,1897.0 501.7,1898.3 L502.2,1898.3" fill="none" stroke="#4b4b48" stroke-width="1.6" stroke-linejoin="round"/>
<path d="M502.2,1427.9 L503.9,1427.9 L504.1,1429.9 504.4,1431.9 504.6,1433.9 504.9,1435.9 505.2,1437.9 505.5,1439.9 505.8,1441.9 506.2,1443.9 506.6,1445.9 506.9,1447.9 507.3,1449.9 507.8,1451.9 508.2,1453.9 508.7,1455.9 509.2,1457.9 509.7,1459.9 510.2,1461.9 510.7,1463.9 511.3,1465.9 511.9,1467.9 512.5,1469.9 513.1,1471.9 513.8,1473.9 514.5,1475.9 515.2,1477.9 515.9,1479.9 516.6,1481.9 517.4,1483.9 518.2,1485.9 519.0,1487.9 519.8,1489.9 520.7,1491.9 521.6,1493.9 522.5,1495.9 523.4,1497.9 524.4,1499.9 525.4,1501.9 526.4,1503.9 527.4,1505.9 528.5,1507.9 529.6,1509.9 530.7,1511.9 531.9,1513.9 533.1,1515.9 534.3,1517.9 535.6,1519.9 536.9,1521.9 538.2,1523.9 539.6,1525.9 541.0,1527.9 542.4,1529.9 543.9,1531.9 545.4,1533.9 546.9,1535.9 548.5,1537.9 550.1,1539.9 551.8,1541.9 553.5,1543.9 555.2,1545.9 556.9,1547.9 558.6,1549.9 560.4,1551.9 562.1,1553.9 563.9,1555.9 565.6,1557.9 567.3,1559.9 569.0,1561.9 570.7,1563.9 572.3,1565.9 573.9,1567.9 575.4,1569.9 576.9,1571.9 578.3,1573.9 579.6,1575.9 580.9,1577.9 582.1,1579.9 583.1,1581.9 584.2,1583.9 585.1,1585.9 585.9,1587.9 586.5,1589.9 587.1,1591.9 587.6,1593.9 587.9,1595.9 588.0,1597.9 588.1,1599.9 588.0,1601.9 587.8,1603.9 587.5,1605.9 587.1,1607.9 586.6,1609.9 586.0,1611.9 585.3,1613.9 584.6,1615.9 583.7,1617.9 582.8,1619.9 581.8,1621.9 580.8,1623.9 579.7,1625.9 578.6,1627.9 577.4,1629.9 576.2,1631.9 574.9,1633.9 573.7,1635.9 572.4,1637.9 571.1,1639.9 569.8,1641.9 568.5,1643.9 567.2,1645.9 566.0,1647.9 564.7,1649.9 563.4,1651.9 562.1,1653.9 560.8,1655.9 559.6,1657.9 558.3,1659.9 557.1,1661.9 555.8,1663.9 554.6,1665.9 553.4,1667.9 552.2,1669.9 550.9,1671.9 549.7,1673.9 548.6,1675.9 547.4,1677.9 546.2,1679.9 545.1,1681.9 543.9,1683.9 542.8,1685.9 541.7,1687.9 540.6,1689.9 539.5,1691.9 538.4,1693.9 537.4,1695.9 536.3,1697.9 535.3,1699.9 534.3,1701.9 533.3,1703.9 532.4,1705.9 531.4,1707.9 530.5,1709.9 529.6,1711.9 528.7,1713.9 527.8,1715.9 527.0,1717.9 526.2,1719.9 525.4,1721.9 524.6,1723.9 523.8,1725.9 523.1,1727.9 522.4,1729.9 521.7,1731.9 521.1,1733.9 520.4,1735.9 519.8,1737.9 519.3,1739.9 518.7,1741.9 518.2,1743.9 517.7,1745.9 517.3,1747.9 516.8,1749.9 516.4,1751.9 516.0,1753.9 515.7,1755.9 515.3,1757.9 515.0,1759.9 514.7,1761.9 514.4,1763.9 514.1,1765.9 513.8,1767.9 513.5,1769.9 513.2,1771.9 512.9,1773.9 512.7,1775.9 512.4,1777.9 512.1,1779.9 511.8,1781.9 511.5,1783.9 511.2,1785.9 510.9,1787.9 510.5,1789.9 510.2,1791.9 509.8,1793.9 509.5,1795.9 509.1,1797.9 508.7,1799.9 508.4,1801.9 508.0,1803.9 507.6,1805.9 507.2,1807.9 506.8,1809.9 506.5,1811.9 506.1,1813.9 505.7,1815.9 505.4,1817.9 505.0,1819.9 504.7,1821.9 504.4,1823.9 504.1,1825.9 504.0,1826.6 L502.2,1826.6 Z" fill="#e1877f"/>
<path d="M502.2,1427.9 L503.9,1427.9 L504.1,1429.9 504.4,1431.9 504.6,1433.9 504.9,1435.9 505.2,1437.9 505.5,1439.9 505.8,1441.9 506.2,1443.9 506.6,1445.9 506.9,1447.9 507.3,1449.9 507.8,1451.9 508.2,1453.9 508.7,1455.9 509.2,1457.9 509.7,1459.9 510.2,1461.9 510.7,1463.9 511.3,1465.9 511.9,1467.9 512.5,1469.9 513.1,1471.9 513.8,1473.9 514.5,1475.9 515.2,1477.9 515.9,1479.9 516.6,1481.9 517.4,1483.9 518.2,1485.9 519.0,1487.9 519.8,1489.9 520.7,1491.9 521.6,1493.9 522.5,1495.9 523.4,1497.9 524.4,1499.9 525.4,1501.9 526.4,1503.9 527.4,1505.9 528.5,1507.9 529.6,1509.9 530.7,1511.9 531.9,1513.9 533.1,1515.9 534.3,1517.9 535.6,1519.9 536.9,1521.9 538.2,1523.9 539.6,1525.9 541.0,1527.9 542.4,1529.9 543.9,1531.9 545.4,1533.9 546.9,1535.9 548.5,1537.9 550.1,1539.9 551.8,1541.9 553.5,1543.9 555.2,1545.9 556.9,1547.9 558.6,1549.9 560.4,1551.9 562.1,1553.9 563.9,1555.9 565.6,1557.9 567.3,1559.9 569.0,1561.9 570.7,1563.9 572.3,1565.9 573.9,1567.9 575.4,1569.9 576.9,1571.9 578.3,1573.9 579.6,1575.9 580.9,1577.9 582.1,1579.9 583.1,1581.9 584.2,1583.9 585.1,1585.9 585.9,1587.9 586.5,1589.9 587.1,1591.9 587.6,1593.9 587.9,1595.9 588.0,1597.9 588.1,1599.9 588.0,1601.9 587.8,1603.9 587.5,1605.9 587.1,1607.9 586.6,1609.9 586.0,1611.9 585.3,1613.9 584.6,1615.9 583.7,1617.9 582.8,1619.9 581.8,1621.9 580.8,1623.9 579.7,1625.9 578.6,1627.9 577.4,1629.9 576.2,1631.9 574.9,1633.9 573.7,1635.9 572.4,1637.9 571.1,1639.9 569.8,1641.9 568.5,1643.9 567.2,1645.9 566.0,1647.9 564.7,1649.9 563.4,1651.9 562.1,1653.9 560.8,1655.9 559.6,1657.9 558.3,1659.9 557.1,1661.9 555.8,1663.9 554.6,1665.9 553.4,1667.9 552.2,1669.9 550.9,1671.9 549.7,1673.9 548.6,1675.9 547.4,1677.9 546.2,1679.9 545.1,1681.9 543.9,1683.9 542.8,1685.9 541.7,1687.9 540.6,1689.9 539.5,1691.9 538.4,1693.9 537.4,1695.9 536.3,1697.9 535.3,1699.9 534.3,1701.9 533.3,1703.9 532.4,1705.9 531.4,1707.9 530.5,1709.9 529.6,1711.9 528.7,1713.9 527.8,1715.9 527.0,1717.9 526.2,1719.9 525.4,1721.9 524.6,1723.9 523.8,1725.9 523.1,1727.9 522.4,1729.9 521.7,1731.9 521.1,1733.9 520.4,1735.9 519.8,1737.9 519.3,1739.9 518.7,1741.9 518.2,1743.9 517.7,1745.9 517.3,1747.9 516.8,1749.9 516.4,1751.9 516.0,1753.9 515.7,1755.9 515.3,1757.9 515.0,1759.9 514.7,1761.9 514.4,1763.9 514.1,1765.9 513.8,1767.9 513.5,1769.9 513.2,1771.9 512.9,1773.9 512.7,1775.9 512.4,1777.9 512.1,1779.9 511.8,1781.9 511.5,1783.9 511.2,1785.9 510.9,1787.9 510.5,1789.9 510.2,1791.9 509.8,1793.9 509.5,1795.9 509.1,1797.9 508.7,1799.9 508.4,1801.9 508.0,1803.9 507.6,1805.9 507.2,1807.9 506.8,1809.9 506.5,1811.9 506.1,1813.9 505.7,1815.9 505.4,1817.9 505.0,1819.9 504.7,1821.9 504.4,1823.9 504.1,1825.9 504.0,1826.6 L502.2,1826.6" fill="none" stroke="#4b4b48" stroke-width="1.6" stroke-linejoin="round"/>
<line x1="502.2" y1="1413.0" x2="502.2" y2="1898.3" stroke="#56625f" stroke-width="1.7"/>
<g stroke="#525250" stroke-width="2.3"><line x1="404.8" y1="1612.8" x2="502.2" y2="1612.8" stroke-dasharray="5.5 7"/><line x1="393.0" y1="1636.3" x2="502.2" y2="1636.3" stroke-dasharray="11.5 13.5"/><line x1="411.7" y1="1656.2" x2="502.2" y2="1656.2" stroke-dasharray="5.5 7"/><line x1="502.2" y1="1578.5" x2="580.2" y2="1578.5" stroke-dasharray="5.5 7"/><line x1="502.2" y1="1609.6" x2="585.7" y2="1609.6" stroke-dasharray="11.5 13.5"/><line x1="502.2" y1="1648.7" x2="564.4" y2="1648.7" stroke-dasharray="5.5 7"/></g>
<path d="M86.8,1373.2 L86.8,1924.2 L642.2,1924.2" fill="none" stroke="#383838" stroke-width="2.2"/>
<path d="M86.8,1868.4 h6.7 M86.8,1775.7 h6.7 M86.8,1683.0 h6.7 M86.8,1590.3 h6.7 M86.8,1497.6 h6.7 M86.8,1404.9 h6.7 M225.0,1924.2 v-7 M502.0,1924.2 v-7" stroke="#383838" stroke-width="2" fill="none"/>
<text x="79.5" y="1877.2" text-anchor="end" class="tk">−2</text>
<text x="79.5" y="1784.5" text-anchor="end" class="tk">−1</text>
<text x="79.5" y="1691.8" text-anchor="end" class="tk">0</text>
<text x="79.5" y="1599.1" text-anchor="end" class="tk">1</text>
<text x="79.5" y="1506.4" text-anchor="end" class="tk">2</text>
<text x="79.5" y="1413.7" text-anchor="end" class="tk">3</text>
<text x="225.0" y="1948.7" text-anchor="middle" class="tk">Bacterial infection</text>
<text x="502.0" y="1948.7" text-anchor="middle" class="tk">Virus infection</text>
<text x="363.5" y="1978.2" text-anchor="middle" class="tk">vb</text>
<text transform="translate(35.4,1651.5) rotate(-90)" text-anchor="middle" class="tk">logNLR</text>
<text x="364.0" y="1362.6" text-anchor="middle" class="ti">logNLR, , p-value: <0.01</text>
<line x1="760.0" y1="1830.2" x2="1306.5" y2="1830.2" stroke="#e5e5e5" stroke-width="1.3"/>
<line x1="760.0" y1="1726.6" x2="1306.5" y2="1726.6" stroke="#e5e5e5" stroke-width="1.3"/>
<line x1="760.0" y1="1623.1" x2="1306.5" y2="1623.1" stroke="#e5e5e5" stroke-width="1.3"/>
<line x1="760.0" y1="1519.5" x2="1306.5" y2="1519.5" stroke="#e5e5e5" stroke-width="1.3"/>
<line x1="760.0" y1="1416.0" x2="1306.5" y2="1416.0" stroke="#e5e5e5" stroke-width="1.3"/>
<path d="M890.3,1435.0 L890.3,1435.0 L889.8,1437.0 889.3,1439.0 888.9,1441.0 888.6,1443.0 888.3,1445.0 888.0,1447.0 887.7,1449.0 887.5,1451.0 887.3,1453.0 887.1,1455.0 887.0,1457.0 886.8,1459.0 886.7,1461.0 886.6,1463.0 886.5,1465.0 886.4,1467.0 886.3,1469.0 886.2,1471.0 886.1,1473.0 886.0,1475.0 885.9,1477.0 885.7,1479.0 885.6,1481.0 885.4,1483.0 885.2,1485.0 885.0,1487.0 884.7,1489.0 884.4,1491.0 884.1,1493.0 883.7,1495.0 883.3,1497.0 882.9,1499.0 882.4,1501.0 881.8,1503.0 881.2,1505.0 880.5,1507.0 879.8,1509.0 879.0,1511.0 878.1,1513.0 877.1,1515.0 876.1,1517.0 875.0,1519.0 873.9,1521.0 872.6,1523.0 871.3,1525.0 870.0,1527.0 868.5,1529.0 867.0,1531.0 865.5,1533.0 863.9,1535.0 862.3,1537.0 860.7,1539.0 859.0,1541.0 857.2,1543.0 855.5,1545.0 853.7,1547.0 851.9,1549.0 850.1,1551.0 848.3,1553.0 846.5,1555.0 844.6,1557.0 842.8,1559.0 841.0,1561.0 839.1,1563.0 837.3,1565.0 835.5,1567.0 833.7,1569.0 831.8,1571.0 830.0,1573.0 828.2,1575.0 826.3,1577.0 824.5,1579.0 822.6,1581.0 820.7,1583.0 818.8,1585.0 816.9,1587.0 814.9,1589.0 812.9,1591.0 810.9,1593.0 808.9,1595.0 806.8,1597.0 804.7,1599.0 802.5,1601.0 800.4,1603.0 798.3,1605.0 796.3,1607.0 794.3,1609.0 792.4,1611.0 790.5,1613.0 788.8,1615.0 787.2,1617.0 785.7,1619.0 784.4,1621.0 783.3,1623.0 782.4,1625.0 781.6,1627.0 781.1,1629.0 780.9,1631.0 780.9,1633.0 781.1,1635.0 781.7,1637.0 782.6,1639.0 783.8,1641.0 785.3,1643.0 787.1,1645.0 789.2,1647.0 791.5,1649.0 794.1,1651.0 796.9,1653.0 799.8,1655.0 802.9,1657.0 806.1,1659.0 809.4,1661.0 812.8,1663.0 816.3,1665.0 819.8,1667.0 823.2,1669.0 826.7,1671.0 830.1,1673.0 833.5,1675.0 836.7,1677.0 839.9,1679.0 842.9,1681.0 845.9,1683.0 848.8,1685.0 851.6,1687.0 854.2,1689.0 856.8,1691.0 859.3,1693.0 861.7,1695.0 864.0,1697.0 866.2,1699.0 868.3,1701.0 870.3,1703.0 872.2,1705.0 874.0,1707.0 875.7,1709.0 877.4,1711.0 878.9,1713.0 880.3,1715.0 881.6,1717.0 882.9,1719.0 884.0,1721.0 885.0,1723.0 886.0,1725.0 886.8,1727.0 887.6,1729.0 888.2,1731.0 888.8,1733.0 889.2,1735.0 889.6,1737.0 889.9,1739.0 890.0,1741.0 890.1,1742.0 L890.3,1742.0 Z" fill="#b0d2dc"/>
<path d="M890.3,1435.0 L890.3,1435.0 L889.8,1437.0 889.3,1439.0 888.9,1441.0 888.6,1443.0 888.3,1445.0 888.0,1447.0 887.7,1449.0 887.5,1451.0 887.3,1453.0 887.1,1455.0 887.0,1457.0 886.8,1459.0 886.7,1461.0 886.6,1463.0 886.5,1465.0 886.4,1467.0 886.3,1469.0 886.2,1471.0 886.1,1473.0 886.0,1475.0 885.9,1477.0 885.7,1479.0 885.6,1481.0 885.4,1483.0 885.2,1485.0 885.0,1487.0 884.7,1489.0 884.4,1491.0 884.1,1493.0 883.7,1495.0 883.3,1497.0 882.9,1499.0 882.4,1501.0 881.8,1503.0 881.2,1505.0 880.5,1507.0 879.8,1509.0 879.0,1511.0 878.1,1513.0 877.1,1515.0 876.1,1517.0 875.0,1519.0 873.9,1521.0 872.6,1523.0 871.3,1525.0 870.0,1527.0 868.5,1529.0 867.0,1531.0 865.5,1533.0 863.9,1535.0 862.3,1537.0 860.7,1539.0 859.0,1541.0 857.2,1543.0 855.5,1545.0 853.7,1547.0 851.9,1549.0 850.1,1551.0 848.3,1553.0 846.5,1555.0 844.6,1557.0 842.8,1559.0 841.0,1561.0 839.1,1563.0 837.3,1565.0 835.5,1567.0 833.7,1569.0 831.8,1571.0 830.0,1573.0 828.2,1575.0 826.3,1577.0 824.5,1579.0 822.6,1581.0 820.7,1583.0 818.8,1585.0 816.9,1587.0 814.9,1589.0 812.9,1591.0 810.9,1593.0 808.9,1595.0 806.8,1597.0 804.7,1599.0 802.5,1601.0 800.4,1603.0 798.3,1605.0 796.3,1607.0 794.3,1609.0 792.4,1611.0 790.5,1613.0 788.8,1615.0 787.2,1617.0 785.7,1619.0 784.4,1621.0 783.3,1623.0 782.4,1625.0 781.6,1627.0 781.1,1629.0 780.9,1631.0 780.9,1633.0 781.1,1635.0 781.7,1637.0 782.6,1639.0 783.8,1641.0 785.3,1643.0 787.1,1645.0 789.2,1647.0 791.5,1649.0 794.1,1651.0 796.9,1653.0 799.8,1655.0 802.9,1657.0 806.1,1659.0 809.4,1661.0 812.8,1663.0 816.3,1665.0 819.8,1667.0 823.2,1669.0 826.7,1671.0 830.1,1673.0 833.5,1675.0 836.7,1677.0 839.9,1679.0 842.9,1681.0 845.9,1683.0 848.8,1685.0 851.6,1687.0 854.2,1689.0 856.8,1691.0 859.3,1693.0 861.7,1695.0 864.0,1697.0 866.2,1699.0 868.3,1701.0 870.3,1703.0 872.2,1705.0 874.0,1707.0 875.7,1709.0 877.4,1711.0 878.9,1713.0 880.3,1715.0 881.6,1717.0 882.9,1719.0 884.0,1721.0 885.0,1723.0 886.0,1725.0 886.8,1727.0 887.6,1729.0 888.2,1731.0 888.8,1733.0 889.2,1735.0 889.6,1737.0 889.9,1739.0 890.0,1741.0 890.1,1742.0 L890.3,1742.0" fill="none" stroke="#4b4b48" stroke-width="1.6" stroke-linejoin="round"/>
<path d="M890.3,1446.4 L892.5,1446.4 L892.8,1448.4 893.1,1450.4 893.5,1452.4 894.0,1454.4 894.5,1456.4 895.0,1458.4 895.6,1460.4 896.3,1462.4 897.0,1464.4 897.8,1466.4 898.6,1468.4 899.4,1470.4 900.3,1472.4 901.3,1474.4 902.2,1476.4 903.2,1478.4 904.2,1480.4 905.3,1482.4 906.4,1484.4 907.5,1486.4 908.6,1488.4 909.8,1490.4 910.9,1492.4 912.1,1494.4 913.3,1496.4 914.5,1498.4 915.7,1500.4 917.0,1502.4 918.2,1504.4 919.4,1506.4 920.6,1508.4 921.9,1510.4 923.1,1512.4 924.3,1514.4 925.5,1516.4 926.7,1518.4 927.9,1520.4 929.1,1522.4 930.2,1524.4 931.4,1526.4 932.6,1528.4 933.7,1530.4 934.9,1532.4 936.1,1534.4 937.2,1536.4 938.4,1538.4 939.6,1540.4 940.8,1542.4 942.0,1544.4 943.2,1546.4 944.5,1548.4 945.7,1550.4 947.0,1552.4 948.3,1554.4 949.7,1556.4 951.0,1558.4 952.4,1560.4 953.8,1562.4 955.2,1564.4 956.7,1566.4 958.2,1568.4 959.8,1570.4 961.4,1572.4 963.0,1574.4 964.7,1576.4 966.4,1578.4 968.2,1580.4 969.9,1582.4 971.8,1584.4 973.6,1586.4 975.3,1588.4 977.1,1590.4 978.8,1592.4 980.4,1594.4 981.9,1596.4 983.4,1598.4 984.7,1600.4 985.9,1602.4 986.9,1604.4 987.8,1606.4 988.4,1608.4 988.9,1610.4 989.2,1612.4 989.2,1614.4 988.9,1616.4 988.5,1618.4 987.8,1620.4 986.9,1622.4 985.8,1624.4 984.5,1626.4 983.0,1628.4 981.4,1630.4 979.5,1632.4 977.5,1634.4 975.4,1636.4 973.1,1638.4 970.7,1640.4 968.1,1642.4 965.4,1644.4 962.7,1646.4 959.8,1648.4 956.9,1650.4 953.8,1652.4 950.7,1654.4 947.6,1656.4 944.4,1658.4 941.2,1660.4 938.0,1662.4 934.8,1664.4 931.6,1666.4 928.5,1668.4 925.4,1670.4 922.4,1672.4 919.4,1674.4 916.6,1676.4 913.8,1678.4 911.2,1680.4 908.7,1682.4 906.3,1684.4 904.1,1686.4 902.1,1688.4 900.2,1690.4 898.5,1692.4 897.1,1694.4 895.8,1696.4 894.7,1698.4 893.8,1700.4 893.1,1702.4 892.7,1704.4 892.5,1706.4 892.5,1708.4 892.8,1710.4 893.0,1711.2 L890.3,1711.2 Z" fill="#e1877f"/>
<path d="M890.3,1446.4 L892.5,1446.4 L892.8,1448.4 893.1,1450.4 893.5,1452.4 894.0,1454.4 894.5,1456.4 895.0,1458.4 895.6,1460.4 896.3,1462.4 897.0,1464.4 897.8,1466.4 898.6,1468.4 899.4,1470.4 900.3,1472.4 901.3,1474.4 902.2,1476.4 903.2,1478.4 904.2,1480.4 905.3,1482.4 906.4,1484.4 907.5,1486.4 908.6,1488.4 909.8,1490.4 910.9,1492.4 912.1,1494.4 913.3,1496.4 914.5,1498.4 915.7,1500.4 917.0,1502.4 918.2,1504.4 919.4,1506.4 920.6,1508.4 921.9,1510.4 923.1,1512.4 924.3,1514.4 925.5,1516.4 926.7,1518.4 927.9,1520.4 929.1,1522.4 930.2,1524.4 931.4,1526.4 932.6,1528.4 933.7,1530.4 934.9,1532.4 936.1,1534.4 937.2,1536.4 938.4,1538.4 939.6,1540.4 940.8,1542.4 942.0,1544.4 943.2,1546.4 944.5,1548.4 945.7,1550.4 947.0,1552.4 948.3,1554.4 949.7,1556.4 951.0,1558.4 952.4,1560.4 953.8,1562.4 955.2,1564.4 956.7,1566.4 958.2,1568.4 959.8,1570.4 961.4,1572.4 963.0,1574.4 964.7,1576.4 966.4,1578.4 968.2,1580.4 969.9,1582.4 971.8,1584.4 973.6,1586.4 975.3,1588.4 977.1,1590.4 978.8,1592.4 980.4,1594.4 981.9,1596.4 983.4,1598.4 984.7,1600.4 985.9,1602.4 986.9,1604.4 987.8,1606.4 988.4,1608.4 988.9,1610.4 989.2,1612.4 989.2,1614.4 988.9,1616.4 988.5,1618.4 987.8,1620.4 986.9,1622.4 985.8,1624.4 984.5,1626.4 983.0,1628.4 981.4,1630.4 979.5,1632.4 977.5,1634.4 975.4,1636.4 973.1,1638.4 970.7,1640.4 968.1,1642.4 965.4,1644.4 962.7,1646.4 959.8,1648.4 956.9,1650.4 953.8,1652.4 950.7,1654.4 947.6,1656.4 944.4,1658.4 941.2,1660.4 938.0,1662.4 934.8,1664.4 931.6,1666.4 928.5,1668.4 925.4,1670.4 922.4,1672.4 919.4,1674.4 916.6,1676.4 913.8,1678.4 911.2,1680.4 908.7,1682.4 906.3,1684.4 904.1,1686.4 902.1,1688.4 900.2,1690.4 898.5,1692.4 897.1,1694.4 895.8,1696.4 894.7,1698.4 893.8,1700.4 893.1,1702.4 892.7,1704.4 892.5,1706.4 892.5,1708.4 892.8,1710.4 893.0,1711.2 L890.3,1711.2" fill="none" stroke="#4b4b48" stroke-width="1.6" stroke-linejoin="round"/>
<line x1="890.3" y1="1435.0" x2="890.3" y2="1742.0" stroke="#56625f" stroke-width="1.7"/>
<g stroke="#525250" stroke-width="2.3"><line x1="818.5" y1="1586.3" x2="890.3" y2="1586.3" stroke-dasharray="5.5 7"/><line x1="783.8" y1="1624.1" x2="890.3" y2="1624.1" stroke-dasharray="11.5 13.5"/><line x1="786.8" y1="1643.5" x2="890.3" y2="1643.5" stroke-dasharray="5.5 7"/><line x1="890.3" y1="1570.4" x2="958.8" y2="1570.4" stroke-dasharray="5.5 7"/><line x1="890.3" y1="1600.4" x2="983.7" y2="1600.4" stroke-dasharray="11.5 13.5"/><line x1="890.3" y1="1628.5" x2="981.9" y2="1628.5" stroke-dasharray="5.5 7"/></g>
<path d="M1167.6,1512.0 L1166.9,1512.0 L1167.0,1514.0 1167.0,1516.0 1166.9,1518.0 1166.8,1520.0 1166.6,1522.0 1166.3,1524.0 1166.0,1526.0 1165.6,1528.0 1165.2,1530.0 1164.7,1532.0 1164.1,1534.0 1163.4,1536.0 1162.7,1538.0 1161.9,1540.0 1161.1,1542.0 1160.2,1544.0 1159.2,1546.0 1158.2,1548.0 1157.1,1550.0 1156.0,1552.0 1154.8,1554.0 1153.5,1556.0 1152.1,1558.0 1150.7,1560.0 1149.3,1562.0 1147.7,1564.0 1146.2,1566.0 1144.5,1568.0 1142.8,1570.0 1141.0,1572.0 1139.2,1574.0 1137.3,1576.0 1135.4,1578.0 1133.3,1580.0 1131.3,1582.0 1129.1,1584.0 1127.0,1586.0 1124.7,1588.0 1122.4,1590.0 1120.0,1592.0 1117.6,1594.0 1115.1,1596.0 1112.6,1598.0 1110.0,1600.0 1107.3,1602.0 1104.7,1604.0 1101.9,1606.0 1099.2,1608.0 1096.4,1610.0 1093.6,1612.0 1090.9,1614.0 1088.2,1616.0 1085.5,1618.0 1082.8,1620.0 1080.3,1622.0 1077.8,1624.0 1075.3,1626.0 1073.0,1628.0 1070.8,1630.0 1068.7,1632.0 1066.7,1634.0 1064.9,1636.0 1063.2,1638.0 1061.7,1640.0 1060.4,1642.0 1059.2,1644.0 1058.3,1646.0 1057.5,1648.0 1057.0,1650.0 1056.6,1652.0 1056.4,1654.0 1056.4,1656.0 1056.6,1658.0 1056.9,1660.0 1057.4,1662.0 1058.0,1664.0 1058.8,1666.0 1059.7,1668.0 1060.8,1670.0 1062.0,1672.0 1063.3,1674.0 1064.8,1676.0 1066.4,1678.0 1068.1,1680.0 1069.9,1682.0 1071.8,1684.0 1073.8,1686.0 1075.9,1688.0 1078.1,1690.0 1080.4,1692.0 1082.8,1694.0 1085.2,1696.0 1087.7,1698.0 1090.2,1700.0 1092.8,1702.0 1095.4,1704.0 1098.0,1706.0 1100.7,1708.0 1103.3,1710.0 1106.0,1712.0 1108.7,1714.0 1111.3,1716.0 1114.0,1718.0 1116.6,1720.0 1119.1,1722.0 1121.6,1724.0 1124.1,1726.0 1126.5,1728.0 1128.9,1730.0 1131.1,1732.0 1133.3,1734.0 1135.4,1736.0 1137.5,1738.0 1139.4,1740.0 1141.2,1742.0 1143.0,1744.0 1144.6,1746.0 1146.2,1748.0 1147.6,1750.0 1149.0,1752.0 1150.3,1754.0 1151.5,1756.0 1152.5,1758.0 1153.5,1760.0 1154.4,1762.0 1155.1,1764.0 1155.8,1766.0 1156.4,1768.0 1156.9,1770.0 1157.2,1772.0 1157.6,1774.0 1157.8,1776.0 1158.0,1778.0 1158.1,1780.0 1158.2,1782.0 1158.3,1784.0 1158.4,1786.0 1158.4,1788.0 1158.5,1790.0 1158.5,1792.0 1158.5,1794.0 1158.6,1796.0 1158.6,1798.0 1158.6,1800.0 1158.6,1802.0 1158.7,1804.0 1158.7,1806.0 1158.7,1808.0 1158.8,1810.0 1158.8,1812.0 1158.9,1814.0 1159.0,1816.0 1159.0,1818.0 1159.1,1820.0 1159.2,1822.0 1159.4,1824.0 1159.5,1826.0 1159.6,1828.0 1159.8,1830.0 1160.0,1832.0 1160.2,1834.0 1160.4,1836.0 1160.7,1838.0 1160.9,1840.0 1161.2,1842.0 1161.5,1844.0 1161.9,1846.0 1162.2,1848.0 1162.6,1850.0 1163.0,1852.0 1163.4,1854.0 1163.7,1856.0 1164.1,1858.0 1164.5,1860.0 1164.9,1862.0 1165.3,1864.0 1165.7,1866.0 1166.0,1868.0 1166.4,1870.0 1166.7,1872.0 1167.0,1874.0 1167.3,1876.0 1167.5,1878.0 1167.6,1880.0 1167.6,1882.0 1167.6,1884.0 1167.6,1886.0 1167.6,1888.0 1167.6,1890.0 1167.6,1892.0 1167.6,1894.0 1167.6,1896.0 1167.6,1898.0 1167.5,1898.9 L1167.6,1898.9 Z" fill="#b0d2dc"/>
<path d="M1167.6,1512.0 L1166.9,1512.0 L1167.0,1514.0 1167.0,1516.0 1166.9,1518.0 1166.8,1520.0 1166.6,1522.0 1166.3,1524.0 1166.0,1526.0 1165.6,1528.0 1165.2,1530.0 1164.7,1532.0 1164.1,1534.0 1163.4,1536.0 1162.7,1538.0 1161.9,1540.0 1161.1,1542.0 1160.2,1544.0 1159.2,1546.0 1158.2,1548.0 1157.1,1550.0 1156.0,1552.0 1154.8,1554.0 1153.5,1556.0 1152.1,1558.0 1150.7,1560.0 1149.3,1562.0 1147.7,1564.0 1146.2,1566.0 1144.5,1568.0 1142.8,1570.0 1141.0,1572.0 1139.2,1574.0 1137.3,1576.0 1135.4,1578.0 1133.3,1580.0 1131.3,1582.0 1129.1,1584.0 1127.0,1586.0 1124.7,1588.0 1122.4,1590.0 1120.0,1592.0 1117.6,1594.0 1115.1,1596.0 1112.6,1598.0 1110.0,1600.0 1107.3,1602.0 1104.7,1604.0 1101.9,1606.0 1099.2,1608.0 1096.4,1610.0 1093.6,1612.0 1090.9,1614.0 1088.2,1616.0 1085.5,1618.0 1082.8,1620.0 1080.3,1622.0 1077.8,1624.0 1075.3,1626.0 1073.0,1628.0 1070.8,1630.0 1068.7,1632.0 1066.7,1634.0 1064.9,1636.0 1063.2,1638.0 1061.7,1640.0 1060.4,1642.0 1059.2,1644.0 1058.3,1646.0 1057.5,1648.0 1057.0,1650.0 1056.6,1652.0 1056.4,1654.0 1056.4,1656.0 1056.6,1658.0 1056.9,1660.0 1057.4,1662.0 1058.0,1664.0 1058.8,1666.0 1059.7,1668.0 1060.8,1670.0 1062.0,1672.0 1063.3,1674.0 1064.8,1676.0 1066.4,1678.0 1068.1,1680.0 1069.9,1682.0 1071.8,1684.0 1073.8,1686.0 1075.9,1688.0 1078.1,1690.0 1080.4,1692.0 1082.8,1694.0 1085.2,1696.0 1087.7,1698.0 1090.2,1700.0 1092.8,1702.0 1095.4,1704.0 1098.0,1706.0 1100.7,1708.0 1103.3,1710.0 1106.0,1712.0 1108.7,1714.0 1111.3,1716.0 1114.0,1718.0 1116.6,1720.0 1119.1,1722.0 1121.6,1724.0 1124.1,1726.0 1126.5,1728.0 1128.9,1730.0 1131.1,1732.0 1133.3,1734.0 1135.4,1736.0 1137.5,1738.0 1139.4,1740.0 1141.2,1742.0 1143.0,1744.0 1144.6,1746.0 1146.2,1748.0 1147.6,1750.0 1149.0,1752.0 1150.3,1754.0 1151.5,1756.0 1152.5,1758.0 1153.5,1760.0 1154.4,1762.0 1155.1,1764.0 1155.8,1766.0 1156.4,1768.0 1156.9,1770.0 1157.2,1772.0 1157.6,1774.0 1157.8,1776.0 1158.0,1778.0 1158.1,1780.0 1158.2,1782.0 1158.3,1784.0 1158.4,1786.0 1158.4,1788.0 1158.5,1790.0 1158.5,1792.0 1158.5,1794.0 1158.6,1796.0 1158.6,1798.0 1158.6,1800.0 1158.6,1802.0 1158.7,1804.0 1158.7,1806.0 1158.7,1808.0 1158.8,1810.0 1158.8,1812.0 1158.9,1814.0 1159.0,1816.0 1159.0,1818.0 1159.1,1820.0 1159.2,1822.0 1159.4,1824.0 1159.5,1826.0 1159.6,1828.0 1159.8,1830.0 1160.0,1832.0 1160.2,1834.0 1160.4,1836.0 1160.7,1838.0 1160.9,1840.0 1161.2,1842.0 1161.5,1844.0 1161.9,1846.0 1162.2,1848.0 1162.6,1850.0 1163.0,1852.0 1163.4,1854.0 1163.7,1856.0 1164.1,1858.0 1164.5,1860.0 1164.9,1862.0 1165.3,1864.0 1165.7,1866.0 1166.0,1868.0 1166.4,1870.0 1166.7,1872.0 1167.0,1874.0 1167.3,1876.0 1167.5,1878.0 1167.6,1880.0 1167.6,1882.0 1167.6,1884.0 1167.6,1886.0 1167.6,1888.0 1167.6,1890.0 1167.6,1892.0 1167.6,1894.0 1167.6,1896.0 1167.6,1898.0 1167.5,1898.9 L1167.6,1898.9" fill="none" stroke="#4b4b48" stroke-width="1.6" stroke-linejoin="round"/>
<path d="M1167.6,1397.6 L1168.2,1397.6 L1168.3,1399.6 1168.4,1401.6 1168.5,1403.6 1168.6,1405.6 1168.7,1407.6 1168.8,1409.6 1168.9,1411.6 1169.0,1413.6 1169.1,1415.6 1169.2,1417.6 1169.4,1419.6 1169.5,1421.6 1169.7,1423.6 1169.8,1425.6 1170.0,1427.6 1170.1,1429.6 1170.3,1431.6 1170.5,1433.6 1170.7,1435.6 1170.9,1437.6 1171.1,1439.6 1171.3,1441.6 1171.5,1443.6 1171.7,1445.6 1171.9,1447.6 1172.2,1449.6 1172.4,1451.6 1172.6,1453.6 1172.9,1455.6 1173.2,1457.6 1173.5,1459.6 1173.7,1461.6 1174.0,1463.6 1174.3,1465.6 1174.7,1467.6 1175.0,1469.6 1175.3,1471.6 1175.7,1473.6 1176.0,1475.6 1176.4,1477.6 1176.8,1479.6 1177.1,1481.6 1177.5,1483.6 1178.0,1485.6 1178.4,1487.6 1178.8,1489.6 1179.2,1491.6 1179.7,1493.6 1180.2,1495.6 1180.6,1497.6 1181.1,1499.6 1181.6,1501.6 1182.1,1503.6 1182.7,1505.6 1183.2,1507.6 1183.8,1509.6 1184.3,1511.6 1184.9,1513.6 1185.5,1515.6 1186.1,1517.6 1186.7,1519.6 1187.3,1521.6 1188.0,1523.6 1188.6,1525.6 1189.3,1527.6 1190.0,1529.6 1190.7,1531.6 1191.4,1533.6 1192.2,1535.6 1192.9,1537.6 1193.7,1539.6 1194.4,1541.6 1195.2,1543.6 1196.1,1545.6 1196.9,1547.6 1197.7,1549.6 1198.6,1551.6 1199.4,1553.6 1200.3,1555.6 1201.2,1557.6 1202.2,1559.6 1203.1,1561.6 1204.1,1563.6 1205.0,1565.6 1206.0,1567.6 1207.0,1569.6 1207.9,1571.6 1208.9,1573.6 1209.9,1575.6 1210.9,1577.6 1211.9,1579.6 1212.9,1581.6 1213.9,1583.6 1214.9,1585.6 1215.9,1587.6 1216.8,1589.6 1217.8,1591.6 1218.7,1593.6 1219.7,1595.6 1220.6,1597.6 1221.5,1599.6 1222.4,1601.6 1223.3,1603.6 1224.2,1605.6 1225.0,1607.6 1225.8,1609.6 1226.6,1611.6 1227.4,1613.6 1228.1,1615.6 1228.8,1617.6 1229.5,1619.6 1230.1,1621.6 1230.7,1623.6 1231.3,1625.6 1231.9,1627.6 1232.4,1629.6 1232.8,1631.6 1233.3,1633.6 1233.6,1635.6 1234.0,1637.6 1234.3,1639.6 1234.5,1641.6 1234.7,1643.6 1234.9,1645.6 1235.0,1647.6 1235.0,1649.6 1235.0,1651.6 1235.0,1653.6 1234.9,1655.6 1234.8,1657.6 1234.6,1659.6 1234.3,1661.6 1234.1,1663.6 1233.8,1665.6 1233.4,1667.6 1233.0,1669.6 1232.6,1671.6 1232.1,1673.6 1231.6,1675.6 1231.1,1677.6 1230.5,1679.6 1229.9,1681.6 1229.3,1683.6 1228.6,1685.6 1227.9,1687.6 1227.1,1689.6 1226.4,1691.6 1225.6,1693.6 1224.7,1695.6 1223.9,1697.6 1223.0,1699.6 1222.1,1701.6 1221.2,1703.6 1220.2,1705.6 1219.2,1707.6 1218.2,1709.6 1217.2,1711.6 1216.2,1713.6 1215.2,1715.6 1214.1,1717.6 1213.1,1719.6 1212.0,1721.6 1210.9,1723.6 1209.9,1725.6 1208.8,1727.6 1207.7,1729.6 1206.6,1731.6 1205.6,1733.6 1204.5,1735.6 1203.4,1737.6 1202.4,1739.6 1201.3,1741.6 1200.3,1743.6 1199.3,1745.6 1198.3,1747.6 1197.3,1749.6 1196.3,1751.6 1195.3,1753.6 1194.4,1755.6 1193.5,1757.6 1192.6,1759.6 1191.7,1761.6 1190.9,1763.6 1190.0,1765.6 1189.2,1767.6 1188.5,1769.6 1187.7,1771.6 1187.0,1773.6 1186.2,1775.6 1185.5,1777.6 1184.9,1779.6 1184.2,1781.6 1183.6,1783.6 1183.0,1785.6 1182.4,1787.6 1181.9,1789.6 1181.3,1791.6 1180.8,1793.6 1180.3,1795.6 1179.9,1797.6 1179.4,1799.6 1179.0,1801.6 1178.6,1803.6 1178.2,1805.6 1177.9,1807.6 1177.5,1809.6 1177.2,1811.6 1176.9,1813.6 1176.6,1815.6 1176.3,1817.6 1176.1,1819.6 1175.8,1821.6 1175.6,1823.6 1175.4,1825.6 1175.2,1827.6 1175.0,1829.6 1174.8,1831.6 1174.6,1833.6 1174.5,1835.6 1174.3,1837.6 1174.1,1839.6 1174.0,1841.6 1173.8,1843.6 1173.7,1845.6 1173.5,1847.6 1173.4,1849.6 1173.3,1851.6 1173.1,1853.6 1173.0,1855.6 1172.8,1857.6 1172.7,1859.6 1172.5,1861.6 1172.4,1863.6 1172.2,1865.6 1172.1,1867.6 1171.9,1869.6 1171.7,1871.6 1171.5,1873.6 1171.3,1875.6 1171.1,1877.6 1170.9,1879.6 1170.6,1881.6 1170.4,1883.6 1170.1,1885.6 1169.9,1887.6 1169.6,1889.6 1169.2,1891.6 1168.9,1893.6 1168.6,1895.6 1168.2,1897.6 1168.0,1898.9 L1167.6,1898.9 Z" fill="#e1877f"/>
<path d="M1167.6,1397.6 L1168.2,1397.6 L1168.3,1399.6 1168.4,1401.6 1168.5,1403.6 1168.6,1405.6 1168.7,1407.6 1168.8,1409.6 1168.9,1411.6 1169.0,1413.6 1169.1,1415.6 1169.2,1417.6 1169.4,1419.6 1169.5,1421.6 1169.7,1423.6 1169.8,1425.6 1170.0,1427.6 1170.1,1429.6 1170.3,1431.6 1170.5,1433.6 1170.7,1435.6 1170.9,1437.6 1171.1,1439.6 1171.3,1441.6 1171.5,1443.6 1171.7,1445.6 1171.9,1447.6 1172.2,1449.6 1172.4,1451.6 1172.6,1453.6 1172.9,1455.6 1173.2,1457.6 1173.5,1459.6 1173.7,1461.6 1174.0,1463.6 1174.3,1465.6 1174.7,1467.6 1175.0,1469.6 1175.3,1471.6 1175.7,1473.6 1176.0,1475.6 1176.4,1477.6 1176.8,1479.6 1177.1,1481.6 1177.5,1483.6 1178.0,1485.6 1178.4,1487.6 1178.8,1489.6 1179.2,1491.6 1179.7,1493.6 1180.2,1495.6 1180.6,1497.6 1181.1,1499.6 1181.6,1501.6 1182.1,1503.6 1182.7,1505.6 1183.2,1507.6 1183.8,1509.6 1184.3,1511.6 1184.9,1513.6 1185.5,1515.6 1186.1,1517.6 1186.7,1519.6 1187.3,1521.6 1188.0,1523.6 1188.6,1525.6 1189.3,1527.6 1190.0,1529.6 1190.7,1531.6 1191.4,1533.6 1192.2,1535.6 1192.9,1537.6 1193.7,1539.6 1194.4,1541.6 1195.2,1543.6 1196.1,1545.6 1196.9,1547.6 1197.7,1549.6 1198.6,1551.6 1199.4,1553.6 1200.3,1555.6 1201.2,1557.6 1202.2,1559.6 1203.1,1561.6 1204.1,1563.6 1205.0,1565.6 1206.0,1567.6 1207.0,1569.6 1207.9,1571.6 1208.9,1573.6 1209.9,1575.6 1210.9,1577.6 1211.9,1579.6 1212.9,1581.6 1213.9,1583.6 1214.9,1585.6 1215.9,1587.6 1216.8,1589.6 1217.8,1591.6 1218.7,1593.6 1219.7,1595.6 1220.6,1597.6 1221.5,1599.6 1222.4,1601.6 1223.3,1603.6 1224.2,1605.6 1225.0,1607.6 1225.8,1609.6 1226.6,1611.6 1227.4,1613.6 1228.1,1615.6 1228.8,1617.6 1229.5,1619.6 1230.1,1621.6 1230.7,1623.6 1231.3,1625.6 1231.9,1627.6 1232.4,1629.6 1232.8,1631.6 1233.3,1633.6 1233.6,1635.6 1234.0,1637.6 1234.3,1639.6 1234.5,1641.6 1234.7,1643.6 1234.9,1645.6 1235.0,1647.6 1235.0,1649.6 1235.0,1651.6 1235.0,1653.6 1234.9,1655.6 1234.8,1657.6 1234.6,1659.6 1234.3,1661.6 1234.1,1663.6 1233.8,1665.6 1233.4,1667.6 1233.0,1669.6 1232.6,1671.6 1232.1,1673.6 1231.6,1675.6 1231.1,1677.6 1230.5,1679.6 1229.9,1681.6 1229.3,1683.6 1228.6,1685.6 1227.9,1687.6 1227.1,1689.6 1226.4,1691.6 1225.6,1693.6 1224.7,1695.6 1223.9,1697.6 1223.0,1699.6 1222.1,1701.6 1221.2,1703.6 1220.2,1705.6 1219.2,1707.6 1218.2,1709.6 1217.2,1711.6 1216.2,1713.6 1215.2,1715.6 1214.1,1717.6 1213.1,1719.6 1212.0,1721.6 1210.9,1723.6 1209.9,1725.6 1208.8,1727.6 1207.7,1729.6 1206.6,1731.6 1205.6,1733.6 1204.5,1735.6 1203.4,1737.6 1202.4,1739.6 1201.3,1741.6 1200.3,1743.6 1199.3,1745.6 1198.3,1747.6 1197.3,1749.6 1196.3,1751.6 1195.3,1753.6 1194.4,1755.6 1193.5,1757.6 1192.6,1759.6 1191.7,1761.6 1190.9,1763.6 1190.0,1765.6 1189.2,1767.6 1188.5,1769.6 1187.7,1771.6 1187.0,1773.6 1186.2,1775.6 1185.5,1777.6 1184.9,1779.6 1184.2,1781.6 1183.6,1783.6 1183.0,1785.6 1182.4,1787.6 1181.9,1789.6 1181.3,1791.6 1180.8,1793.6 1180.3,1795.6 1179.9,1797.6 1179.4,1799.6 1179.0,1801.6 1178.6,1803.6 1178.2,1805.6 1177.9,1807.6 1177.5,1809.6 1177.2,1811.6 1176.9,1813.6 1176.6,1815.6 1176.3,1817.6 1176.1,1819.6 1175.8,1821.6 1175.6,1823.6 1175.4,1825.6 1175.2,1827.6 1175.0,1829.6 1174.8,1831.6 1174.6,1833.6 1174.5,1835.6 1174.3,1837.6 1174.1,1839.6 1174.0,1841.6 1173.8,1843.6 1173.7,1845.6 1173.5,1847.6 1173.4,1849.6 1173.3,1851.6 1173.1,1853.6 1173.0,1855.6 1172.8,1857.6 1172.7,1859.6 1172.5,1861.6 1172.4,1863.6 1172.2,1865.6 1172.1,1867.6 1171.9,1869.6 1171.7,1871.6 1171.5,1873.6 1171.3,1875.6 1171.1,1877.6 1170.9,1879.6 1170.6,1881.6 1170.4,1883.6 1170.1,1885.6 1169.9,1887.6 1169.6,1889.6 1169.2,1891.6 1168.9,1893.6 1168.6,1895.6 1168.2,1897.6 1168.0,1898.9 L1167.6,1898.9" fill="none" stroke="#4b4b48" stroke-width="1.6" stroke-linejoin="round"/>
<line x1="1167.6" y1="1397.6" x2="1167.6" y2="1898.9" stroke="#56625f" stroke-width="1.7"/>
<g stroke="#525250" stroke-width="2.3"><line x1="1074.9" y1="1627.2" x2="1167.6" y2="1627.2" stroke-dasharray="5.5 7"/><line x1="1058.5" y1="1662.4" x2="1167.6" y2="1662.4" stroke-dasharray="11.5 13.5"/><line x1="1076.0" y1="1687.1" x2="1167.6" y2="1687.1" stroke-dasharray="5.5 7"/><line x1="1167.6" y1="1606.6" x2="1223.6" y2="1606.6" stroke-dasharray="5.5 7"/><line x1="1167.6" y1="1647.8" x2="1234.0" y2="1647.8" stroke-dasharray="11.5 13.5"/><line x1="1167.6" y1="1698.1" x2="1222.6" y2="1698.1" stroke-dasharray="5.5 7"/></g>
<path d="M752.3,1373.2 L752.3,1924.2 L1307.7,1924.2" fill="none" stroke="#383838" stroke-width="2.2"/>
<path d="M752.3,1830.2 h6.7 M752.3,1726.6 h6.7 M752.3,1623.1 h6.7 M752.3,1519.5 h6.7 M752.3,1416.0 h6.7 M890.5,1924.2 v-7 M1167.5,1924.2 v-7" stroke="#383838" stroke-width="2" fill="none"/>
<text x="745.0" y="1839.0" text-anchor="end" class="tk">3</text>
<text x="745.0" y="1735.4" text-anchor="end" class="tk">4</text>
<text x="745.0" y="1631.9" text-anchor="end" class="tk">5</text>
<text x="745.0" y="1528.3" text-anchor="end" class="tk">6</text>
<text x="745.0" y="1424.8" text-anchor="end" class="tk">7</text>
<text x="890.5" y="1948.7" text-anchor="middle" class="tk">Bacterial infection</text>
<text x="1167.5" y="1948.7" text-anchor="middle" class="tk">Virus infection</text>
<text x="1029.0" y="1978.2" text-anchor="middle" class="tk">vb</text>
<text transform="translate(719.8,1651.5) rotate(-90)" text-anchor="middle" class="tk">logPLR</text>
<text x="1029.5" y="1362.6" text-anchor="middle" class="ti">logPLR, , p-value: 0.022</text>
<line x1="1425.0" y1="1909.0" x2="1971.5" y2="1909.0" stroke="#e5e5e5" stroke-width="1.3"/>
<line x1="1425.0" y1="1802.6" x2="1971.5" y2="1802.6" stroke="#e5e5e5" stroke-width="1.3"/>
<line x1="1425.0" y1="1696.2" x2="1971.5" y2="1696.2" stroke="#e5e5e5" stroke-width="1.3"/>
<line x1="1425.0" y1="1589.8" x2="1971.5" y2="1589.8" stroke="#e5e5e5" stroke-width="1.3"/>
<line x1="1425.0" y1="1483.4" x2="1971.5" y2="1483.4" stroke="#e5e5e5" stroke-width="1.3"/>
<line x1="1425.0" y1="1377.0" x2="1971.5" y2="1377.0" stroke="#e5e5e5" stroke-width="1.3"/>
<path d="M1555.3,1397.7 L1555.3,1397.7 L1554.9,1399.7 1554.5,1401.7 1554.2,1403.7 1553.8,1405.7 1553.5,1407.7 1553.2,1409.7 1552.9,1411.7 1552.6,1413.7 1552.4,1415.7 1552.2,1417.7 1552.0,1419.7 1551.8,1421.7 1551.6,1423.7 1551.4,1425.7 1551.2,1427.7 1551.1,1429.7 1550.9,1431.7 1550.8,1433.7 1550.7,1435.7 1550.5,1437.7 1550.4,1439.7 1550.3,1441.7 1550.1,1443.7 1550.0,1445.7 1549.9,1447.7 1549.7,1449.7 1549.6,1451.7 1549.5,1453.7 1549.3,1455.7 1549.1,1457.7 1549.0,1459.7 1548.8,1461.7 1548.6,1463.7 1548.4,1465.7 1548.1,1467.7 1547.9,1469.7 1547.6,1471.7 1547.3,1473.7 1547.0,1475.7 1546.7,1477.7 1546.4,1479.7 1546.0,1481.7 1545.6,1483.7 1545.2,1485.7 1544.7,1487.7 1544.2,1489.7 1543.7,1491.7 1543.2,1493.7 1542.6,1495.7 1542.0,1497.7 1541.4,1499.7 1540.7,1501.7 1540.0,1503.7 1539.3,1505.7 1538.5,1507.7 1537.7,1509.7 1536.9,1511.7 1536.0,1513.7 1535.1,1515.7 1534.2,1517.7 1533.2,1519.7 1532.2,1521.7 1531.1,1523.7 1530.0,1525.7 1528.9,1527.7 1527.8,1529.7 1526.6,1531.7 1525.3,1533.7 1524.1,1535.7 1522.8,1537.7 1521.4,1539.7 1520.0,1541.7 1518.6,1543.7 1517.1,1545.7 1515.6,1547.7 1514.0,1549.7 1512.4,1551.7 1510.7,1553.7 1509.0,1555.7 1507.3,1557.7 1505.5,1559.7 1503.6,1561.7 1501.7,1563.7 1499.8,1565.7 1497.8,1567.7 1495.7,1569.7 1493.6,1571.7 1491.4,1573.7 1489.2,1575.7 1486.9,1577.7 1484.6,1579.7 1482.2,1581.7 1479.8,1583.7 1477.4,1585.7 1475.0,1587.7 1472.6,1589.7 1470.2,1591.7 1467.8,1593.7 1465.5,1595.7 1463.3,1597.7 1461.1,1599.7 1459.0,1601.7 1457.0,1603.7 1455.1,1605.7 1453.4,1607.7 1451.7,1609.7 1450.2,1611.7 1448.9,1613.7 1447.8,1615.7 1446.8,1617.7 1446.0,1619.7 1445.4,1621.7 1445.1,1623.7 1445.0,1625.7 1445.1,1627.7 1445.4,1629.7 1446.0,1631.7 1446.8,1633.7 1447.8,1635.7 1449.0,1637.7 1450.4,1639.7 1452.0,1641.7 1453.7,1643.7 1455.5,1645.7 1457.5,1647.7 1459.6,1649.7 1461.9,1651.7 1464.2,1653.7 1466.7,1655.7 1469.2,1657.7 1471.8,1659.7 1474.4,1661.7 1477.2,1663.7 1479.9,1665.7 1482.7,1667.7 1485.5,1669.7 1488.3,1671.7 1491.1,1673.7 1494.0,1675.7 1496.8,1677.7 1499.6,1679.7 1502.4,1681.7 1505.2,1683.7 1508.0,1685.7 1510.7,1687.7 1513.4,1689.7 1516.0,1691.7 1518.6,1693.7 1521.1,1695.7 1523.5,1697.7 1525.9,1699.7 1528.2,1701.7 1530.4,1703.7 1532.5,1705.7 1534.4,1707.7 1536.3,1709.7 1538.1,1711.7 1539.8,1713.7 1541.3,1715.7 1542.7,1717.7 1544.0,1719.7 1545.1,1721.7 1546.2,1723.7 1547.1,1725.7 1548.0,1727.7 1548.8,1729.7 1549.5,1731.7 1550.2,1733.7 1550.8,1735.7 1551.3,1737.7 1551.8,1739.7 1552.3,1741.7 1552.7,1743.7 1553.1,1745.7 1553.5,1747.7 1553.9,1749.7 1554.3,1751.7 1554.7,1753.7 1555.1,1755.7 1555.1,1755.8 L1555.3,1755.8 Z" fill="#b0d2dc"/>
<path d="M1555.3,1397.7 L1555.3,1397.7 L1554.9,1399.7 1554.5,1401.7 1554.2,1403.7 1553.8,1405.7 1553.5,1407.7 1553.2,1409.7 1552.9,1411.7 1552.6,1413.7 1552.4,1415.7 1552.2,1417.7 1552.0,1419.7 1551.8,1421.7 1551.6,1423.7 1551.4,1425.7 1551.2,1427.7 1551.1,1429.7 1550.9,1431.7 1550.8,1433.7 1550.7,1435.7 1550.5,1437.7 1550.4,1439.7 1550.3,1441.7 1550.1,1443.7 1550.0,1445.7 1549.9,1447.7 1549.7,1449.7 1549.6,1451.7 1549.5,1453.7 1549.3,1455.7 1549.1,1457.7 1549.0,1459.7 1548.8,1461.7 1548.6,1463.7 1548.4,1465.7 1548.1,1467.7 1547.9,1469.7 1547.6,1471.7 1547.3,1473.7 1547.0,1475.7 1546.7,1477.7 1546.4,1479.7 1546.0,1481.7 1545.6,1483.7 1545.2,1485.7 1544.7,1487.7 1544.2,1489.7 1543.7,1491.7 1543.2,1493.7 1542.6,1495.7 1542.0,1497.7 1541.4,1499.7 1540.7,1501.7 1540.0,1503.7 1539.3,1505.7 1538.5,1507.7 1537.7,1509.7 1536.9,1511.7 1536.0,1513.7 1535.1,1515.7 1534.2,1517.7 1533.2,1519.7 1532.2,1521.7 1531.1,1523.7 1530.0,1525.7 1528.9,1527.7 1527.8,1529.7 1526.6,1531.7 1525.3,1533.7 1524.1,1535.7 1522.8,1537.7 1521.4,1539.7 1520.0,1541.7 1518.6,1543.7 1517.1,1545.7 1515.6,1547.7 1514.0,1549.7 1512.4,1551.7 1510.7,1553.7 1509.0,1555.7 1507.3,1557.7 1505.5,1559.7 1503.6,1561.7 1501.7,1563.7 1499.8,1565.7 1497.8,1567.7 1495.7,1569.7 1493.6,1571.7 1491.4,1573.7 1489.2,1575.7 1486.9,1577.7 1484.6,1579.7 1482.2,1581.7 1479.8,1583.7 1477.4,1585.7 1475.0,1587.7 1472.6,1589.7 1470.2,1591.7 1467.8,1593.7 1465.5,1595.7 1463.3,1597.7 1461.1,1599.7 1459.0,1601.7 1457.0,1603.7 1455.1,1605.7 1453.4,1607.7 1451.7,1609.7 1450.2,1611.7 1448.9,1613.7 1447.8,1615.7 1446.8,1617.7 1446.0,1619.7 1445.4,1621.7 1445.1,1623.7 1445.0,1625.7 1445.1,1627.7 1445.4,1629.7 1446.0,1631.7 1446.8,1633.7 1447.8,1635.7 1449.0,1637.7 1450.4,1639.7 1452.0,1641.7 1453.7,1643.7 1455.5,1645.7 1457.5,1647.7 1459.6,1649.7 1461.9,1651.7 1464.2,1653.7 1466.7,1655.7 1469.2,1657.7 1471.8,1659.7 1474.4,1661.7 1477.2,1663.7 1479.9,1665.7 1482.7,1667.7 1485.5,1669.7 1488.3,1671.7 1491.1,1673.7 1494.0,1675.7 1496.8,1677.7 1499.6,1679.7 1502.4,1681.7 1505.2,1683.7 1508.0,1685.7 1510.7,1687.7 1513.4,1689.7 1516.0,1691.7 1518.6,1693.7 1521.1,1695.7 1523.5,1697.7 1525.9,1699.7 1528.2,1701.7 1530.4,1703.7 1532.5,1705.7 1534.4,1707.7 1536.3,1709.7 1538.1,1711.7 1539.8,1713.7 1541.3,1715.7 1542.7,1717.7 1544.0,1719.7 1545.1,1721.7 1546.2,1723.7 1547.1,1725.7 1548.0,1727.7 1548.8,1729.7 1549.5,1731.7 1550.2,1733.7 1550.8,1735.7 1551.3,1737.7 1551.8,1739.7 1552.3,1741.7 1552.7,1743.7 1553.1,1745.7 1553.5,1747.7 1553.9,1749.7 1554.3,1751.7 1554.7,1753.7 1555.1,1755.7 1555.1,1755.8 L1555.3,1755.8" fill="none" stroke="#4b4b48" stroke-width="1.6" stroke-linejoin="round"/>
<path d="M1555.3,1443.0 L1558.4,1443.0 L1558.5,1445.0 1558.6,1447.0 1558.8,1449.0 1559.1,1451.0 1559.4,1453.0 1559.7,1455.0 1560.1,1457.0 1560.5,1459.0 1561.0,1461.0 1561.5,1463.0 1562.1,1465.0 1562.7,1467.0 1563.3,1469.0 1564.0,1471.0 1564.7,1473.0 1565.4,1475.0 1566.2,1477.0 1567.0,1479.0 1567.8,1481.0 1568.7,1483.0 1569.6,1485.0 1570.5,1487.0 1571.5,1489.0 1572.5,1491.0 1573.5,1493.0 1574.6,1495.0 1575.6,1497.0 1576.7,1499.0 1577.8,1501.0 1579.0,1503.0 1580.1,1505.0 1581.3,1507.0 1582.5,1509.0 1583.7,1511.0 1584.9,1513.0 1586.1,1515.0 1587.4,1517.0 1588.6,1519.0 1589.9,1521.0 1591.2,1523.0 1592.5,1525.0 1593.8,1527.0 1595.1,1529.0 1596.4,1531.0 1597.7,1533.0 1599.1,1535.0 1600.4,1537.0 1601.7,1539.0 1603.1,1541.0 1604.4,1543.0 1605.7,1545.0 1607.1,1547.0 1608.4,1549.0 1609.7,1551.0 1611.0,1553.0 1612.3,1555.0 1613.7,1557.0 1615.0,1559.0 1616.2,1561.0 1617.5,1563.0 1618.8,1565.0 1620.0,1567.0 1621.3,1569.0 1622.5,1571.0 1623.7,1573.0 1624.9,1575.0 1626.1,1577.0 1627.3,1579.0 1628.4,1581.0 1629.5,1583.0 1630.6,1585.0 1631.7,1587.0 1632.8,1589.0 1633.8,1591.0 1634.8,1593.0 1635.8,1595.0 1636.7,1597.0 1637.7,1599.0 1638.5,1601.0 1639.4,1603.0 1640.2,1605.0 1640.9,1607.0 1641.6,1609.0 1642.2,1611.0 1642.7,1613.0 1643.1,1615.0 1643.5,1617.0 1643.7,1619.0 1643.9,1621.0 1643.9,1623.0 1643.8,1625.0 1643.6,1627.0 1643.3,1629.0 1642.8,1631.0 1642.2,1633.0 1641.4,1635.0 1640.4,1637.0 1639.4,1639.0 1638.1,1641.0 1636.7,1643.0 1635.2,1645.0 1633.6,1647.0 1631.9,1649.0 1630.0,1651.0 1628.1,1653.0 1626.1,1655.0 1624.0,1657.0 1621.8,1659.0 1619.6,1661.0 1617.3,1663.0 1615.0,1665.0 1612.7,1667.0 1610.3,1669.0 1607.9,1671.0 1605.6,1673.0 1603.2,1675.0 1600.8,1677.0 1598.4,1679.0 1596.1,1681.0 1593.8,1683.0 1591.5,1685.0 1589.3,1687.0 1587.1,1689.0 1584.9,1691.0 1582.8,1693.0 1580.8,1695.0 1578.8,1697.0 1576.9,1699.0 1575.0,1701.0 1573.2,1703.0 1571.5,1705.0 1569.9,1707.0 1568.3,1709.0 1566.9,1711.0 1565.6,1713.0 1564.3,1715.0 1563.2,1717.0 1562.1,1719.0 1561.2,1721.0 1560.4,1723.0 1559.7,1725.0 1559.1,1727.0 1558.6,1729.0 1558.2,1731.0 1558.0,1733.0 1557.8,1735.0 1557.8,1737.0 1557.9,1739.0 1558.0,1740.0 L1555.3,1740.0 Z" fill="#e1877f"/>
<path d="M1555.3,1443.0 L1558.4,1443.0 L1558.5,1445.0 1558.6,1447.0 1558.8,1449.0 1559.1,1451.0 1559.4,1453.0 1559.7,1455.0 1560.1,1457.0 1560.5,1459.0 1561.0,1461.0 1561.5,1463.0 1562.1,1465.0 1562.7,1467.0 1563.3,1469.0 1564.0,1471.0 1564.7,1473.0 1565.4,1475.0 1566.2,1477.0 1567.0,1479.0 1567.8,1481.0 1568.7,1483.0 1569.6,1485.0 1570.5,1487.0 1571.5,1489.0 1572.5,1491.0 1573.5,1493.0 1574.6,1495.0 1575.6,1497.0 1576.7,1499.0 1577.8,1501.0 1579.0,1503.0 1580.1,1505.0 1581.3,1507.0 1582.5,1509.0 1583.7,1511.0 1584.9,1513.0 1586.1,1515.0 1587.4,1517.0 1588.6,1519.0 1589.9,1521.0 1591.2,1523.0 1592.5,1525.0 1593.8,1527.0 1595.1,1529.0 1596.4,1531.0 1597.7,1533.0 1599.1,1535.0 1600.4,1537.0 1601.7,1539.0 1603.1,1541.0 1604.4,1543.0 1605.7,1545.0 1607.1,1547.0 1608.4,1549.0 1609.7,1551.0 1611.0,1553.0 1612.3,1555.0 1613.7,1557.0 1615.0,1559.0 1616.2,1561.0 1617.5,1563.0 1618.8,1565.0 1620.0,1567.0 1621.3,1569.0 1622.5,1571.0 1623.7,1573.0 1624.9,1575.0 1626.1,1577.0 1627.3,1579.0 1628.4,1581.0 1629.5,1583.0 1630.6,1585.0 1631.7,1587.0 1632.8,1589.0 1633.8,1591.0 1634.8,1593.0 1635.8,1595.0 1636.7,1597.0 1637.7,1599.0 1638.5,1601.0 1639.4,1603.0 1640.2,1605.0 1640.9,1607.0 1641.6,1609.0 1642.2,1611.0 1642.7,1613.0 1643.1,1615.0 1643.5,1617.0 1643.7,1619.0 1643.9,1621.0 1643.9,1623.0 1643.8,1625.0 1643.6,1627.0 1643.3,1629.0 1642.8,1631.0 1642.2,1633.0 1641.4,1635.0 1640.4,1637.0 1639.4,1639.0 1638.1,1641.0 1636.7,1643.0 1635.2,1645.0 1633.6,1647.0 1631.9,1649.0 1630.0,1651.0 1628.1,1653.0 1626.1,1655.0 1624.0,1657.0 1621.8,1659.0 1619.6,1661.0 1617.3,1663.0 1615.0,1665.0 1612.7,1667.0 1610.3,1669.0 1607.9,1671.0 1605.6,1673.0 1603.2,1675.0 1600.8,1677.0 1598.4,1679.0 1596.1,1681.0 1593.8,1683.0 1591.5,1685.0 1589.3,1687.0 1587.1,1689.0 1584.9,1691.0 1582.8,1693.0 1580.8,1695.0 1578.8,1697.0 1576.9,1699.0 1575.0,1701.0 1573.2,1703.0 1571.5,1705.0 1569.9,1707.0 1568.3,1709.0 1566.9,1711.0 1565.6,1713.0 1564.3,1715.0 1563.2,1717.0 1562.1,1719.0 1561.2,1721.0 1560.4,1723.0 1559.7,1725.0 1559.1,1727.0 1558.6,1729.0 1558.2,1731.0 1558.0,1733.0 1557.8,1735.0 1557.8,1737.0 1557.9,1739.0 1558.0,1740.0 L1555.3,1740.0" fill="none" stroke="#4b4b48" stroke-width="1.6" stroke-linejoin="round"/>
<line x1="1555.3" y1="1397.7" x2="1555.3" y2="1755.8" stroke="#56625f" stroke-width="1.7"/>
<g stroke="#525250" stroke-width="2.3"><line x1="1475.0" y1="1588.5" x2="1555.3" y2="1588.5" stroke-dasharray="5.5 7"/><line x1="1446.0" y1="1625.9" x2="1555.3" y2="1625.9" stroke-dasharray="11.5 13.5"/><line x1="1456.1" y1="1645.2" x2="1555.3" y2="1645.2" stroke-dasharray="5.5 7"/><line x1="1555.3" y1="1571.8" x2="1622.0" y2="1571.8" stroke-dasharray="5.5 7"/><line x1="1555.3" y1="1615.1" x2="1642.2" y2="1615.1" stroke-dasharray="11.5 13.5"/><line x1="1555.3" y1="1644.2" x2="1634.8" y2="1644.2" stroke-dasharray="5.5 7"/></g>
<path d="M1832.9,1486.9 L1830.8,1486.9 L1830.4,1488.9 1829.9,1490.9 1829.4,1492.9 1828.8,1494.9 1828.2,1496.9 1827.5,1498.9 1826.8,1500.9 1826.0,1502.9 1825.2,1504.9 1824.3,1506.9 1823.5,1508.9 1822.6,1510.9 1821.6,1512.9 1820.6,1514.9 1819.6,1516.9 1818.5,1518.9 1817.5,1520.9 1816.4,1522.9 1815.2,1524.9 1814.1,1526.9 1812.9,1528.9 1811.7,1530.9 1810.5,1532.9 1809.2,1534.9 1807.9,1536.9 1806.7,1538.9 1805.4,1540.9 1804.1,1542.9 1802.7,1544.9 1801.4,1546.9 1800.1,1548.9 1798.7,1550.9 1797.3,1552.9 1796.0,1554.9 1794.6,1556.9 1793.2,1558.9 1791.8,1560.9 1790.5,1562.9 1789.1,1564.9 1787.7,1566.9 1786.4,1568.9 1785.0,1570.9 1783.6,1572.9 1782.3,1574.9 1780.9,1576.9 1779.6,1578.9 1778.3,1580.9 1777.0,1582.9 1775.7,1584.9 1774.4,1586.9 1773.1,1588.9 1771.9,1590.9 1770.6,1592.9 1769.4,1594.9 1768.1,1596.9 1766.9,1598.9 1765.7,1600.9 1764.5,1602.9 1763.3,1604.9 1762.1,1606.9 1761.0,1608.9 1759.8,1610.9 1758.7,1612.9 1757.5,1614.9 1756.4,1616.9 1755.2,1618.9 1754.1,1620.9 1753.0,1622.9 1751.9,1624.9 1750.8,1626.9 1749.7,1628.9 1748.6,1630.9 1747.6,1632.9 1746.5,1634.9 1745.4,1636.9 1744.4,1638.9 1743.3,1640.9 1742.3,1642.9 1741.3,1644.9 1740.2,1646.9 1739.2,1648.9 1738.2,1650.9 1737.2,1652.9 1736.2,1654.9 1735.1,1656.9 1734.1,1658.9 1733.2,1660.9 1732.2,1662.9 1731.2,1664.9 1730.2,1666.9 1729.2,1668.9 1728.2,1670.9 1727.3,1672.9 1726.3,1674.9 1725.3,1676.9 1724.4,1678.9 1723.5,1680.9 1722.8,1682.9 1722.1,1684.9 1721.6,1686.9 1721.3,1688.9 1721.3,1690.9 1721.5,1692.9 1721.9,1694.9 1722.7,1696.9 1723.9,1698.9 1725.4,1700.9 1727.4,1702.9 1729.7,1704.9 1732.4,1706.9 1735.4,1708.9 1738.7,1710.9 1742.2,1712.9 1745.8,1714.9 1749.6,1716.9 1753.4,1718.9 1757.2,1720.9 1761.0,1722.9 1764.8,1724.9 1768.4,1726.9 1771.8,1728.9 1775.1,1730.9 1778.2,1732.9 1781.1,1734.9 1783.8,1736.9 1786.4,1738.9 1788.9,1740.9 1791.3,1742.9 1793.5,1744.9 1795.6,1746.9 1797.7,1748.9 1799.6,1750.9 1801.5,1752.9 1803.3,1754.9 1805.1,1756.9 1806.8,1758.9 1808.4,1760.9 1810.0,1762.9 1811.5,1764.9 1812.9,1766.9 1814.2,1768.9 1815.5,1770.9 1816.7,1772.9 1817.9,1774.9 1818.9,1776.9 1819.9,1778.9 1820.9,1780.9 1821.7,1782.9 1822.6,1784.9 1823.3,1786.9 1824.0,1788.9 1824.7,1790.9 1825.2,1792.9 1825.8,1794.9 1826.3,1796.9 1826.7,1798.9 1827.1,1800.9 1827.5,1802.9 1827.8,1804.9 1828.1,1806.9 1828.3,1808.9 1828.5,1810.9 1828.7,1812.9 1828.8,1814.9 1828.9,1816.9 1829.0,1818.9 1829.0,1820.9 1829.1,1822.9 1829.1,1824.9 1829.1,1826.9 1829.0,1828.9 1829.0,1830.9 1828.9,1832.9 1828.9,1834.9 1828.8,1836.9 1828.7,1838.9 1828.6,1840.9 1828.5,1842.9 1828.4,1844.9 1828.3,1846.9 1828.2,1848.9 1828.1,1850.9 1828.0,1852.9 1827.9,1854.9 1827.8,1856.9 1827.8,1858.9 1827.7,1860.9 1827.7,1862.9 1827.7,1864.9 1827.7,1866.9 1827.7,1868.9 1827.7,1870.9 1827.8,1872.9 1827.9,1874.9 1828.0,1876.9 1828.2,1878.9 1828.4,1880.9 1828.6,1882.9 1828.8,1884.9 1829.1,1886.9 1829.5,1888.9 1829.9,1890.9 1830.3,1892.9 1830.7,1894.9 1831.3,1896.9 1831.8,1898.9 1832.3,1900.5 L1832.9,1900.5 Z" fill="#b0d2dc"/>
<path d="M1832.9,1486.9 L1830.8,1486.9 L1830.4,1488.9 1829.9,1490.9 1829.4,1492.9 1828.8,1494.9 1828.2,1496.9 1827.5,1498.9 1826.8,1500.9 1826.0,1502.9 1825.2,1504.9 1824.3,1506.9 1823.5,1508.9 1822.6,1510.9 1821.6,1512.9 1820.6,1514.9 1819.6,1516.9 1818.5,1518.9 1817.5,1520.9 1816.4,1522.9 1815.2,1524.9 1814.1,1526.9 1812.9,1528.9 1811.7,1530.9 1810.5,1532.9 1809.2,1534.9 1807.9,1536.9 1806.7,1538.9 1805.4,1540.9 1804.1,1542.9 1802.7,1544.9 1801.4,1546.9 1800.1,1548.9 1798.7,1550.9 1797.3,1552.9 1796.0,1554.9 1794.6,1556.9 1793.2,1558.9 1791.8,1560.9 1790.5,1562.9 1789.1,1564.9 1787.7,1566.9 1786.4,1568.9 1785.0,1570.9 1783.6,1572.9 1782.3,1574.9 1780.9,1576.9 1779.6,1578.9 1778.3,1580.9 1777.0,1582.9 1775.7,1584.9 1774.4,1586.9 1773.1,1588.9 1771.9,1590.9 1770.6,1592.9 1769.4,1594.9 1768.1,1596.9 1766.9,1598.9 1765.7,1600.9 1764.5,1602.9 1763.3,1604.9 1762.1,1606.9 1761.0,1608.9 1759.8,1610.9 1758.7,1612.9 1757.5,1614.9 1756.4,1616.9 1755.2,1618.9 1754.1,1620.9 1753.0,1622.9 1751.9,1624.9 1750.8,1626.9 1749.7,1628.9 1748.6,1630.9 1747.6,1632.9 1746.5,1634.9 1745.4,1636.9 1744.4,1638.9 1743.3,1640.9 1742.3,1642.9 1741.3,1644.9 1740.2,1646.9 1739.2,1648.9 1738.2,1650.9 1737.2,1652.9 1736.2,1654.9 1735.1,1656.9 1734.1,1658.9 1733.2,1660.9 1732.2,1662.9 1731.2,1664.9 1730.2,1666.9 1729.2,1668.9 1728.2,1670.9 1727.3,1672.9 1726.3,1674.9 1725.3,1676.9 1724.4,1678.9 1723.5,1680.9 1722.8,1682.9 1722.1,1684.9 1721.6,1686.9 1721.3,1688.9 1721.3,1690.9 1721.5,1692.9 1721.9,1694.9 1722.7,1696.9 1723.9,1698.9 1725.4,1700.9 1727.4,1702.9 1729.7,1704.9 1732.4,1706.9 1735.4,1708.9 1738.7,1710.9 1742.2,1712.9 1745.8,1714.9 1749.6,1716.9 1753.4,1718.9 1757.2,1720.9 1761.0,1722.9 1764.8,1724.9 1768.4,1726.9 1771.8,1728.9 1775.1,1730.9 1778.2,1732.9 1781.1,1734.9 1783.8,1736.9 1786.4,1738.9 1788.9,1740.9 1791.3,1742.9 1793.5,1744.9 1795.6,1746.9 1797.7,1748.9 1799.6,1750.9 1801.5,1752.9 1803.3,1754.9 1805.1,1756.9 1806.8,1758.9 1808.4,1760.9 1810.0,1762.9 1811.5,1764.9 1812.9,1766.9 1814.2,1768.9 1815.5,1770.9 1816.7,1772.9 1817.9,1774.9 1818.9,1776.9 1819.9,1778.9 1820.9,1780.9 1821.7,1782.9 1822.6,1784.9 1823.3,1786.9 1824.0,1788.9 1824.7,1790.9 1825.2,1792.9 1825.8,1794.9 1826.3,1796.9 1826.7,1798.9 1827.1,1800.9 1827.5,1802.9 1827.8,1804.9 1828.1,1806.9 1828.3,1808.9 1828.5,1810.9 1828.7,1812.9 1828.8,1814.9 1828.9,1816.9 1829.0,1818.9 1829.0,1820.9 1829.1,1822.9 1829.1,1824.9 1829.1,1826.9 1829.0,1828.9 1829.0,1830.9 1828.9,1832.9 1828.9,1834.9 1828.8,1836.9 1828.7,1838.9 1828.6,1840.9 1828.5,1842.9 1828.4,1844.9 1828.3,1846.9 1828.2,1848.9 1828.1,1850.9 1828.0,1852.9 1827.9,1854.9 1827.8,1856.9 1827.8,1858.9 1827.7,1860.9 1827.7,1862.9 1827.7,1864.9 1827.7,1866.9 1827.7,1868.9 1827.7,1870.9 1827.8,1872.9 1827.9,1874.9 1828.0,1876.9 1828.2,1878.9 1828.4,1880.9 1828.6,1882.9 1828.8,1884.9 1829.1,1886.9 1829.5,1888.9 1829.9,1890.9 1830.3,1892.9 1830.7,1894.9 1831.3,1896.9 1831.8,1898.9 1832.3,1900.5 L1832.9,1900.5" fill="none" stroke="#4b4b48" stroke-width="1.6" stroke-linejoin="round"/>
<path d="M1832.9,1436.7 L1833.9,1436.7 L1834.2,1438.7 1834.5,1440.7 1834.9,1442.7 1835.3,1444.7 1835.8,1446.7 1836.3,1448.7 1836.8,1450.7 1837.4,1452.7 1838.0,1454.7 1838.7,1456.7 1839.4,1458.7 1840.1,1460.7 1840.8,1462.7 1841.6,1464.7 1842.4,1466.7 1843.3,1468.7 1844.1,1470.7 1845.0,1472.7 1846.0,1474.7 1846.9,1476.7 1847.9,1478.7 1848.9,1480.7 1849.9,1482.7 1850.9,1484.7 1851.9,1486.7 1853.0,1488.7 1854.0,1490.7 1855.1,1492.7 1856.2,1494.7 1857.3,1496.7 1858.4,1498.7 1859.5,1500.7 1860.6,1502.7 1861.8,1504.7 1862.9,1506.7 1864.0,1508.7 1865.2,1510.7 1866.3,1512.7 1867.4,1514.7 1868.6,1516.7 1869.7,1518.7 1870.8,1520.7 1871.9,1522.7 1873.0,1524.7 1874.1,1526.7 1875.2,1528.7 1876.2,1530.7 1877.3,1532.7 1878.3,1534.7 1879.3,1536.7 1880.3,1538.7 1881.3,1540.7 1882.3,1542.7 1883.2,1544.7 1884.2,1546.7 1885.1,1548.7 1885.9,1550.7 1886.8,1552.7 1887.6,1554.7 1888.4,1556.7 1889.2,1558.7 1890.0,1560.7 1890.8,1562.7 1891.5,1564.7 1892.2,1566.7 1892.9,1568.7 1893.6,1570.7 1894.3,1572.7 1894.9,1574.7 1895.6,1576.7 1896.2,1578.7 1896.8,1580.7 1897.4,1582.7 1897.9,1584.7 1898.5,1586.7 1899.0,1588.7 1899.6,1590.7 1900.1,1592.7 1900.6,1594.7 1901.1,1596.7 1901.5,1598.7 1902.0,1600.7 1902.4,1602.7 1902.9,1604.7 1903.3,1606.7 1903.7,1608.7 1904.1,1610.7 1904.5,1612.7 1904.9,1614.7 1905.3,1616.7 1905.6,1618.7 1906.0,1620.7 1906.3,1622.7 1906.7,1624.7 1907.0,1626.7 1907.3,1628.7 1907.6,1630.7 1907.9,1632.7 1908.2,1634.7 1908.5,1636.7 1908.8,1638.7 1909.1,1640.7 1909.4,1642.7 1909.6,1644.7 1909.9,1646.7 1910.1,1648.7 1910.4,1650.7 1910.6,1652.7 1910.9,1654.7 1911.1,1656.7 1911.3,1658.7 1911.5,1660.7 1911.7,1662.7 1911.8,1664.7 1911.9,1666.7 1912.0,1668.7 1912.1,1670.7 1912.1,1672.7 1912.1,1674.7 1912.0,1676.7 1911.9,1678.7 1911.7,1680.7 1911.5,1682.7 1911.3,1684.7 1910.9,1686.7 1910.5,1688.7 1910.1,1690.7 1909.6,1692.7 1909.0,1694.7 1908.3,1696.7 1907.6,1698.7 1906.8,1700.7 1905.9,1702.7 1905.0,1704.7 1903.9,1706.7 1902.8,1708.7 1901.6,1710.7 1900.4,1712.7 1899.1,1714.7 1897.7,1716.7 1896.3,1718.7 1894.9,1720.7 1893.4,1722.7 1891.9,1724.7 1890.3,1726.7 1888.8,1728.7 1887.2,1730.7 1885.5,1732.7 1883.9,1734.7 1882.3,1736.7 1880.6,1738.7 1879.0,1740.7 1877.3,1742.7 1875.7,1744.7 1874.1,1746.7 1872.5,1748.7 1870.9,1750.7 1869.4,1752.7 1867.8,1754.7 1866.4,1756.7 1864.9,1758.7 1863.5,1760.7 1862.1,1762.7 1860.8,1764.7 1859.5,1766.7 1858.2,1768.7 1857.0,1770.7 1855.8,1772.7 1854.6,1774.7 1853.5,1776.7 1852.4,1778.7 1851.3,1780.7 1850.3,1782.7 1849.4,1784.7 1848.4,1786.7 1847.5,1788.7 1846.7,1790.7 1845.9,1792.7 1845.1,1794.7 1844.3,1796.7 1843.7,1798.7 1843.0,1800.7 1842.4,1802.7 1841.8,1804.7 1841.3,1806.7 1840.8,1808.7 1840.3,1810.7 1839.9,1812.7 1839.5,1814.7 1839.2,1816.7 1838.8,1818.7 1838.5,1820.7 1838.2,1822.7 1838.0,1824.7 1837.7,1826.7 1837.5,1828.7 1837.3,1830.7 1837.1,1832.7 1836.9,1834.7 1836.7,1836.7 1836.5,1838.7 1836.3,1840.7 1836.1,1842.7 1836.0,1844.7 1835.8,1846.7 1835.6,1848.7 1835.3,1850.7 1835.1,1852.7 1834.9,1854.7 1834.6,1856.7 L1832.9,1856.7 Z" fill="#e1877f"/>
<path d="M1832.9,1436.7 L1833.9,1436.7 L1834.2,1438.7 1834.5,1440.7 1834.9,1442.7 1835.3,1444.7 1835.8,1446.7 1836.3,1448.7 1836.8,1450.7 1837.4,1452.7 1838.0,1454.7 1838.7,1456.7 1839.4,1458.7 1840.1,1460.7 1840.8,1462.7 1841.6,1464.7 1842.4,1466.7 1843.3,1468.7 1844.1,1470.7 1845.0,1472.7 1846.0,1474.7 1846.9,1476.7 1847.9,1478.7 1848.9,1480.7 1849.9,1482.7 1850.9,1484.7 1851.9,1486.7 1853.0,1488.7 1854.0,1490.7 1855.1,1492.7 1856.2,1494.7 1857.3,1496.7 1858.4,1498.7 1859.5,1500.7 1860.6,1502.7 1861.8,1504.7 1862.9,1506.7 1864.0,1508.7 1865.2,1510.7 1866.3,1512.7 1867.4,1514.7 1868.6,1516.7 1869.7,1518.7 1870.8,1520.7 1871.9,1522.7 1873.0,1524.7 1874.1,1526.7 1875.2,1528.7 1876.2,1530.7 1877.3,1532.7 1878.3,1534.7 1879.3,1536.7 1880.3,1538.7 1881.3,1540.7 1882.3,1542.7 1883.2,1544.7 1884.2,1546.7 1885.1,1548.7 1885.9,1550.7 1886.8,1552.7 1887.6,1554.7 1888.4,1556.7 1889.2,1558.7 1890.0,1560.7 1890.8,1562.7 1891.5,1564.7 1892.2,1566.7 1892.9,1568.7 1893.6,1570.7 1894.3,1572.7 1894.9,1574.7 1895.6,1576.7 1896.2,1578.7 1896.8,1580.7 1897.4,1582.7 1897.9,1584.7 1898.5,1586.7 1899.0,1588.7 1899.6,1590.7 1900.1,1592.7 1900.6,1594.7 1901.1,1596.7 1901.5,1598.7 1902.0,1600.7 1902.4,1602.7 1902.9,1604.7 1903.3,1606.7 1903.7,1608.7 1904.1,1610.7 1904.5,1612.7 1904.9,1614.7 1905.3,1616.7 1905.6,1618.7 1906.0,1620.7 1906.3,1622.7 1906.7,1624.7 1907.0,1626.7 1907.3,1628.7 1907.6,1630.7 1907.9,1632.7 1908.2,1634.7 1908.5,1636.7 1908.8,1638.7 1909.1,1640.7 1909.4,1642.7 1909.6,1644.7 1909.9,1646.7 1910.1,1648.7 1910.4,1650.7 1910.6,1652.7 1910.9,1654.7 1911.1,1656.7 1911.3,1658.7 1911.5,1660.7 1911.7,1662.7 1911.8,1664.7 1911.9,1666.7 1912.0,1668.7 1912.1,1670.7 1912.1,1672.7 1912.1,1674.7 1912.0,1676.7 1911.9,1678.7 1911.7,1680.7 1911.5,1682.7 1911.3,1684.7 1910.9,1686.7 1910.5,1688.7 1910.1,1690.7 1909.6,1692.7 1909.0,1694.7 1908.3,1696.7 1907.6,1698.7 1906.8,1700.7 1905.9,1702.7 1905.0,1704.7 1903.9,1706.7 1902.8,1708.7 1901.6,1710.7 1900.4,1712.7 1899.1,1714.7 1897.7,1716.7 1896.3,1718.7 1894.9,1720.7 1893.4,1722.7 1891.9,1724.7 1890.3,1726.7 1888.8,1728.7 1887.2,1730.7 1885.5,1732.7 1883.9,1734.7 1882.3,1736.7 1880.6,1738.7 1879.0,1740.7 1877.3,1742.7 1875.7,1744.7 1874.1,1746.7 1872.5,1748.7 1870.9,1750.7 1869.4,1752.7 1867.8,1754.7 1866.4,1756.7 1864.9,1758.7 1863.5,1760.7 1862.1,1762.7 1860.8,1764.7 1859.5,1766.7 1858.2,1768.7 1857.0,1770.7 1855.8,1772.7 1854.6,1774.7 1853.5,1776.7 1852.4,1778.7 1851.3,1780.7 1850.3,1782.7 1849.4,1784.7 1848.4,1786.7 1847.5,1788.7 1846.7,1790.7 1845.9,1792.7 1845.1,1794.7 1844.3,1796.7 1843.7,1798.7 1843.0,1800.7 1842.4,1802.7 1841.8,1804.7 1841.3,1806.7 1840.8,1808.7 1840.3,1810.7 1839.9,1812.7 1839.5,1814.7 1839.2,1816.7 1838.8,1818.7 1838.5,1820.7 1838.2,1822.7 1838.0,1824.7 1837.7,1826.7 1837.5,1828.7 1837.3,1830.7 1837.1,1832.7 1836.9,1834.7 1836.7,1836.7 1836.5,1838.7 1836.3,1840.7 1836.1,1842.7 1836.0,1844.7 1835.8,1846.7 1835.6,1848.7 1835.3,1850.7 1835.1,1852.7 1834.9,1854.7 1834.6,1856.7 L1832.9,1856.7" fill="none" stroke="#4b4b48" stroke-width="1.6" stroke-linejoin="round"/>
<line x1="1832.9" y1="1436.7" x2="1832.9" y2="1900.5" stroke="#56625f" stroke-width="1.7"/>
<g stroke="#525250" stroke-width="2.3"><line x1="1759.5" y1="1613.2" x2="1832.9" y2="1613.2" stroke-dasharray="5.5 7"/><line x1="1730.6" y1="1668.1" x2="1832.9" y2="1668.1" stroke-dasharray="11.5 13.5"/><line x1="1728.0" y1="1702.4" x2="1832.9" y2="1702.4" stroke-dasharray="5.5 7"/><line x1="1832.9" y1="1590.3" x2="1898.5" y2="1590.3" stroke-dasharray="5.5 7"/><line x1="1832.9" y1="1650.9" x2="1909.4" y2="1650.9" stroke-dasharray="11.5 13.5"/><line x1="1832.9" y1="1701.2" x2="1905.6" y2="1701.2" stroke-dasharray="5.5 7"/></g>
<path d="M1417.3,1373.2 L1417.3,1924.2 L1972.7,1924.2" fill="none" stroke="#383838" stroke-width="2.2"/>
<path d="M1417.3,1909.0 h6.7 M1417.3,1802.6 h6.7 M1417.3,1696.2 h6.7 M1417.3,1589.8 h6.7 M1417.3,1483.4 h6.7 M1417.3,1377.0 h6.7 M1555.5,1924.2 v-7 M1832.5,1924.2 v-7" stroke="#383838" stroke-width="2" fill="none"/>
<text x="1410.0" y="1917.8" text-anchor="end" class="tk">−1</text>
<text x="1410.0" y="1811.4" text-anchor="end" class="tk">0</text>
<text x="1410.0" y="1705.0" text-anchor="end" class="tk">1</text>
<text x="1410.0" y="1598.6" text-anchor="end" class="tk">2</text>
<text x="1410.0" y="1492.2" text-anchor="end" class="tk">3</text>
<text x="1410.0" y="1385.8" text-anchor="end" class="tk">4</text>
<text x="1555.5" y="1948.7" text-anchor="middle" class="tk">Bacterial infection</text>
<text x="1832.5" y="1948.7" text-anchor="middle" class="tk">Virus infection</text>
<text x="1694.0" y="1978.2" text-anchor="middle" class="tk">vb</text>
<text transform="translate(1365.7,1651.5) rotate(-90)" text-anchor="middle" class="tk">logMPVLR</text>
<text x="1694.5" y="1362.6" text-anchor="middle" class="ti">logMPVLR, , p-value: 0.055</text>
<g>
<rect x="472.3" y="54.8" width="160.3" height="90.3" rx="3" fill="#ffffff" fill-opacity="0.85" stroke="#d4d4d4" stroke-width="1.3"/>
<text x="552" y="78" text-anchor="middle" class="lg">Dataset</text>
<rect x="480.3" y="92.3" width="37.4" height="13.4" fill="#b0d2dc" stroke="#4b4b48" stroke-width="1.2"/>
<rect x="480.3" y="120.3" width="37.4" height="13.4" fill="#e1877f" stroke="#4b4b48" stroke-width="1.2"/>
<text x="534.5" y="106.2" class="lg">Training</text>
<text x="534.5" y="134" class="lg">Validation</text>
</g>
</svg>
</body></html>
